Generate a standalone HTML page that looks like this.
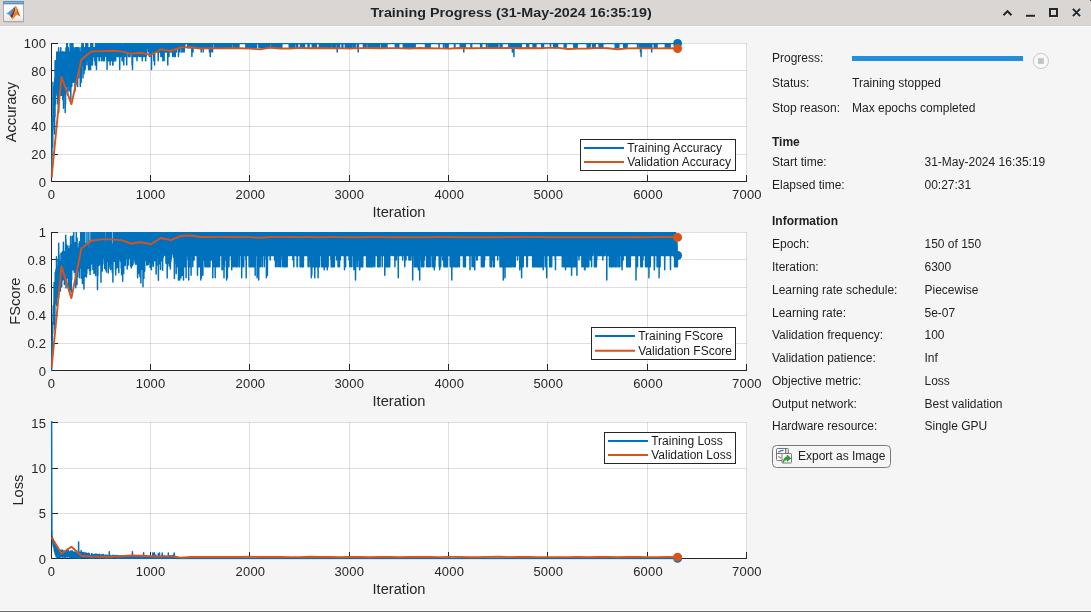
<!DOCTYPE html>
<html><head><meta charset="utf-8"><title>Training Progress</title>
<style>
html,body{margin:0;padding:0;background:#f5f5f5;}
body{width:1091px;height:612px;overflow:hidden;font-family:"Liberation Sans",sans-serif;}
svg{display:block;position:absolute;left:0;top:0;will-change:transform;}
text{font-family:"Liberation Sans",sans-serif;fill:#262626;}
.tk{font-size:13px;letter-spacing:0.2px;}
.lb{font-size:14.67px;}
.lg{font-size:12px;fill:#1a1a1a;}
.pt{font-size:12px;fill:#1f1f1f;}
.pb{font-size:12px;font-weight:bold;fill:#1f1f1f;}
.ti{font-size:12.4px;font-weight:bold;fill:#1f2428;}
</style></head><body>
<svg width="1091" height="612" viewBox="0 0 1091 612">
<rect x="0" y="0" width="1091" height="612" fill="#f5f5f5"/>
<!-- title bar -->
<rect x="0" y="0" width="1091" height="26" fill="#dad6d3"/>
<rect x="0" y="25" width="1091" height="1" fill="#d4d0cd"/>
<rect x="0" y="26" width="1091" height="1" fill="#f9f9f9"/>
<text x="370.4" y="16.7" class="ti" textLength="281.3" lengthAdjust="spacingAndGlyphs">Training Progress (31-May-2024 16:35:19)</text>
<!-- window icon -->
<defs>
<linearGradient id="ib" x1="0" y1="0" x2="0" y2="1"><stop offset="0" stop-color="#ffffff"/><stop offset="0.6" stop-color="#fafafa"/><stop offset="1" stop-color="#e4e4e4"/></linearGradient>
<linearGradient id="bw" x1="0" y1="0" x2="1" y2="0"><stop offset="0" stop-color="#6db3e6"/><stop offset="1" stop-color="#2f76bd"/></linearGradient>
</defs>
<g>
<rect x="3.5" y="1.5" width="20" height="20" fill="url(#ib)" stroke="#aeaaa7" stroke-width="1"/>
<rect x="3.3" y="1.3" width="20.4" height="3" fill="#4f83b8"/>
<rect x="4" y="2.2" width="19" height="1" fill="#8fbfe4"/>
<rect x="4" y="22" width="20" height="0.8" fill="#c4c0bd"/>
<path d="M5.9 13.6C8 12.6 10.4 11 12.4 9.1C13.4 8.1 14.2 6.9 14.9 6.5L13.2 11L11.3 14.6L10 15.8C8.8 14.8 7.5 14.2 5.9 13.6Z" fill="url(#bw)"/>
<path d="M14.9 6.5C15.1 6.3 15.3 6.15 15.5 6.1L15.3 10L13.8 14.6L12.1 18.8C11.5 17.8 10.8 16.8 10 15.8L11.3 14.6L13.2 11Z" fill="#8f2a1b"/>
<path d="M15.5 6.1C16.8 6.5 17.5 10 18.5 12.5C19.2 14.3 19.8 15.5 20.5 16.6C19 15.2 17.8 14.6 17 14.8C15.5 15.5 14 18 12.3 19.6L12.1 18.8L13.8 14.6L15.3 10Z" fill="#ee7a1c"/>
<path d="M15.6 6.6C16.3 7.4 16.7 9.2 16.6 10.5L16.2 12.6L15.2 11.4Z" fill="#f8ba1e"/>
<path d="M12.3 19.6L12.1 18.8L13 17.1L14.3 17.9C13.6 18.6 13 19.1 12.3 19.6Z" fill="#f6b21e"/>
<path d="M16.6 7.3C17.3 8.5 17.8 10.8 18.5 12.5C19.2 14.3 19.8 15.5 20.5 16.6C19.8 15.9 19.2 15.5 18.6 15.2L17.3 12.2Z" fill="#c4391b"/>
</g>
<!-- window controls -->
<g stroke="#ebe8e5" stroke-width="2" fill="none" transform="translate(0.6 0.8)">
<path d="M1003.5 15.3 L1007.5 11.2 L1011.5 15.3"/>
<path d="M1026 15.8 H1035"/>
<rect x="1050" y="9" width="7" height="7"/>
<path d="M1072.9 8.9 L1080.1 16.1 M1080.1 8.9 L1072.9 16.1"/>
</g>
<g stroke="#22282b" stroke-width="2" fill="none">
<path d="M1003.5 15.3 L1007.5 11.2 L1011.5 15.3"/>
<path d="M1026 15.8 H1035"/>
<rect x="1050" y="9" width="7" height="7"/>
<path d="M1072.9 8.9 L1080.1 16.1 M1080.1 8.9 L1072.9 16.1"/>
</g>
<path d="M1090 0 H1091 V2 Q1091 0 1090 0Z" fill="#555"/>
<rect x="1090" y="0" width="1" height="1" fill="#4a4a4a"/>
<!-- window borders -->
<rect x="0" y="610" width="1091" height="1" fill="#fcfcfc"/>
<rect x="0" y="611" width="1091" height="1" fill="#6c6c6a"/>
<rect x="51.0" y="43.0" width="696.0" height="139.0" fill="#fff"/>
<path d="M51.5 43.0V182.0" stroke="rgba(38,38,38,0.15)" stroke-width="1" fill="none"/>
<path d="M150.5 43.0V182.0" stroke="rgba(38,38,38,0.15)" stroke-width="1" fill="none"/>
<path d="M249.5 43.0V182.0" stroke="rgba(38,38,38,0.15)" stroke-width="1" fill="none"/>
<path d="M349.5 43.0V182.0" stroke="rgba(38,38,38,0.15)" stroke-width="1" fill="none"/>
<path d="M448.5 43.0V182.0" stroke="rgba(38,38,38,0.15)" stroke-width="1" fill="none"/>
<path d="M547.5 43.0V182.0" stroke="rgba(38,38,38,0.15)" stroke-width="1" fill="none"/>
<path d="M647.5 43.0V182.0" stroke="rgba(38,38,38,0.15)" stroke-width="1" fill="none"/>
<path d="M746.5 43.0V182.0" stroke="rgba(38,38,38,0.15)" stroke-width="1" fill="none"/>
<path d="M51.0 181.5H747.0" stroke="rgba(38,38,38,0.15)" stroke-width="1" fill="none"/>
<path d="M51.0 154.5H747.0" stroke="rgba(38,38,38,0.15)" stroke-width="1" fill="none"/>
<path d="M51.0 126.5H747.0" stroke="rgba(38,38,38,0.15)" stroke-width="1" fill="none"/>
<path d="M51.0 98.5H747.0" stroke="rgba(38,38,38,0.15)" stroke-width="1" fill="none"/>
<path d="M51.0 70.5H747.0" stroke="rgba(38,38,38,0.15)" stroke-width="1" fill="none"/>
<path d="M51.0 43.5H747.0" stroke="rgba(38,38,38,0.15)" stroke-width="1" fill="none"/>
<path d="M51.5 43.0V181.5H747.0M51.5 181.5v-6.5M150.5 181.5v-6.5M249.5 181.5v-6.5M349.5 181.5v-6.5M448.5 181.5v-6.5M547.5 181.5v-6.5M647.5 181.5v-6.5M746.5 181.5v-6.5M51.5 181.5h6.5M51.5 154.5h6.5M51.5 126.5h6.5M51.5 98.5h6.5M51.5 70.5h6.5M51.5 43.5h6.5" stroke="#262626" stroke-width="1" fill="none"/>
<clipPath id="cp0"><rect x="50.5" y="42.9" width="697.0" height="140.6"/></clipPath>
<g clip-path="url(#cp0)">
<path d="M51.6 177.2L51.7 177.2L51.8 159.9L51.9 159.9L52.0 155.6L52.1 125.4L52.2 116.8L52.3 147.0L52.4 134.1L52.5 125.4L52.6 121.1L52.7 147.0L52.8 129.8L52.9 129.8L53.0 82.3L53.1 108.2L53.2 103.9L53.3 121.1L53.4 99.6L53.5 116.8L53.6 90.9L53.7 103.9L53.8 99.6L53.9 108.2L54.0 99.6L54.1 99.6L54.2 95.2L54.3 112.5L54.4 90.9L54.5 86.6L54.6 134.1L54.7 86.6L54.8 78.0L54.9 103.9L55.0 116.8L55.1 60.8L55.2 82.3L55.3 78.0L55.4 103.9L55.5 73.7L55.6 103.9L55.7 65.1L55.8 60.8L55.9 60.8L56.0 69.4L56.1 90.9L56.2 60.8L56.3 65.1L56.4 90.9L56.5 90.9L56.6 65.1L56.7 56.4L56.8 52.1L56.9 69.4L57.0 60.8L57.1 73.7L57.2 95.2L57.3 78.0L57.4 78.0L57.5 82.3L57.6 60.8L57.7 69.4L57.8 103.9L57.9 65.1L58.0 60.8L58.1 56.4L58.2 52.1L58.3 86.6L58.4 99.6L58.5 108.2L58.6 47.8L58.7 112.5L58.8 86.6L58.9 69.4L59.0 65.1L59.1 86.6L59.2 95.2L59.3 52.1L59.4 73.7L59.5 78.0L59.6 69.4L59.7 86.6L59.8 78.0L59.9 56.4L60.0 73.7L60.1 69.4L60.2 69.4L60.3 82.3L60.4 95.2L60.5 86.6L60.6 78.0L60.7 60.8L60.8 47.8L60.9 69.4L61.0 56.4L61.1 56.4L61.2 78.0L61.3 56.4L61.4 65.1L61.5 95.2L61.6 65.1L61.7 73.7L61.8 86.6L61.9 78.0L62.0 60.8L62.1 52.1L62.2 60.8L62.3 60.8L62.4 52.1L62.5 78.0L62.6 56.4L62.7 60.8L62.8 99.6L62.9 60.8L63.0 60.8L63.1 73.7L63.2 90.9L63.3 78.0L63.4 78.0L63.5 108.2L63.6 52.1L63.7 56.4L63.8 78.0L63.9 73.7L64.0 73.7L64.1 82.3L64.2 65.1L64.3 56.4L64.4 90.9L64.5 86.6L64.6 56.4L64.7 60.8L64.8 90.9L64.9 95.2L65.0 52.1L65.1 60.8L65.2 112.5L65.3 82.3L65.4 56.4L65.5 103.9L65.6 52.1L65.7 56.4L65.8 69.4L65.9 86.6L66.0 47.8L66.1 65.1L66.2 86.6L66.3 60.8L66.4 78.0L66.5 65.1L66.6 82.3L66.7 43.5L66.8 47.8L66.8 69.4L66.9 73.7L67.0 65.1L67.1 86.6L67.2 69.4L67.3 78.0L67.4 43.5L67.5 52.1L67.6 95.2L67.7 60.8L67.8 69.4L67.9 56.4L68.0 60.8L68.1 52.1L68.2 69.4L68.3 47.8L68.4 52.1L68.5 56.4L68.6 78.0L68.7 73.7L68.8 73.7L68.9 73.7L69.0 86.6L69.1 52.1L69.2 56.4L69.3 90.9L69.4 56.4L69.5 69.4L69.6 65.1L69.7 60.8L69.8 60.8L69.9 86.6L70.0 52.1L70.1 73.7L70.2 43.5L70.3 52.1L70.4 56.4L70.5 65.1L70.6 60.8L70.7 69.4L70.8 99.6L70.9 60.8L71.0 78.0L71.1 69.4L71.2 78.0L71.3 52.1L71.4 56.4L71.5 65.1L71.6 69.4L71.7 43.5L71.8 86.6L71.9 65.1L72.0 73.7L72.1 47.8L72.2 60.8L72.3 65.1L72.4 56.4L72.5 60.8L72.6 73.7L72.7 47.8L72.8 60.8L72.9 43.5L73.0 60.8L73.1 69.4L73.2 82.3L73.3 56.4L73.4 65.1L73.5 82.3L73.6 65.1L73.7 69.4L73.8 47.8L73.9 56.4L74.0 65.1L74.1 56.4L74.2 73.7L74.3 78.0L74.4 73.7L74.5 52.1L74.6 56.4L74.7 69.4L74.8 56.4L74.9 60.8L75.0 90.9L75.1 69.4L75.2 60.8L75.3 56.4L75.4 47.8L75.5 65.1L75.6 47.8L75.7 78.0L75.8 47.8L75.9 60.8L76.0 56.4L76.1 56.4L76.2 82.3L76.3 60.8L76.4 60.8L76.5 56.4L76.6 52.1L76.7 52.1L76.8 65.1L76.9 69.4L77.0 47.8L77.1 56.4L77.2 60.8L77.3 60.8L77.4 47.8L77.5 65.1L77.6 86.6L77.7 56.4L77.8 56.4L77.9 69.4L78.0 69.4L78.1 69.4L78.2 60.8L78.3 47.8L78.4 78.0L78.5 52.1L78.6 78.0L78.7 56.4L78.8 56.4L78.9 60.8L79.0 52.1L79.1 47.8L79.2 52.1L79.3 60.8L79.4 56.4L79.5 56.4L79.6 65.1L79.7 65.1L79.8 60.8L79.9 60.8L80.0 56.4L80.1 56.4L80.2 56.4L80.3 86.6L80.4 56.4L80.5 52.1L80.6 69.4L80.7 60.8L80.8 52.1L80.9 65.1L81.0 47.8L81.1 52.1L81.2 82.3L81.3 65.1L81.4 47.8L81.5 47.8L81.6 47.8L81.7 52.1L81.8 52.1L81.9 43.5L82.0 56.4L82.1 52.1L82.1 65.1L82.2 56.4L82.3 52.1L82.4 65.1L82.5 60.8L82.6 60.8L82.7 56.4L82.8 56.4L82.9 60.8L83.0 78.0L83.1 69.4L83.2 43.5L83.3 47.8L83.4 52.1L83.5 52.1L83.6 47.8L83.7 47.8L83.8 52.1L83.9 47.8L84.0 73.7L84.1 60.8L84.2 65.1L84.3 56.4L84.4 52.1L84.5 47.8L84.6 52.1L84.7 52.1L84.8 56.4L84.9 52.1L85.0 52.1L85.1 69.4L85.2 69.4L85.3 47.8L85.4 65.1L85.5 56.4L85.6 47.8L85.7 52.1L85.8 43.5L85.9 43.5L86.0 65.1L86.1 65.1L86.2 60.8L86.3 56.4L86.4 43.5L86.5 47.8L86.6 60.8L86.7 56.4L86.8 60.8L86.9 60.8L87.0 47.8L87.1 60.8L87.2 56.4L87.3 52.1L87.4 52.1L87.5 52.1L87.6 60.8L87.7 43.5L87.8 52.1L87.9 65.1L88.0 65.1L88.1 56.4L88.2 47.8L88.3 52.1L88.4 52.1L88.5 52.1L88.6 69.4L88.7 52.1L88.8 56.4L88.9 52.1L89.0 47.8L89.1 47.8L89.2 56.4L89.3 52.1L89.4 47.8L89.5 56.4L89.6 69.4L89.7 65.1L89.8 56.4L89.9 56.4L90.0 47.8L90.1 47.8L90.2 52.1L90.3 69.4L90.4 56.4L90.5 56.4L90.6 69.4L90.7 52.1L90.8 43.5L90.9 56.4L91.0 56.4L91.1 52.1L91.2 52.1L91.3 43.5L91.4 56.4L91.5 60.8L91.6 47.8L91.7 56.4L91.8 47.8L91.9 47.8L92.0 56.4L92.1 65.1L92.2 60.8L92.3 65.1L92.4 65.1L92.5 60.8L92.6 56.4L92.7 43.5L92.8 52.1L92.9 52.1L93.0 56.4L93.1 52.1L93.2 52.1L93.3 56.4L93.4 47.8L93.5 52.1L93.6 56.4L93.7 47.8L93.8 47.8L93.9 56.4L94.0 47.8L94.1 52.1L94.2 52.1L94.3 47.8L94.4 56.4L94.5 56.4L94.6 60.8L94.7 56.4L94.8 47.8L94.9 56.4L95.0 52.1L95.1 60.8L95.2 56.4L95.3 65.1L95.4 52.1L95.5 52.1L95.6 43.5L95.7 52.1L95.8 47.8L95.9 43.5L96.0 52.1L96.1 52.1L96.2 52.1L96.3 52.1L96.4 52.1L96.5 69.4L96.6 60.8L96.7 47.8L96.8 43.5L96.9 47.8L97.0 56.4L97.1 47.8L97.2 47.8L97.3 56.4L97.4 43.5L97.4 47.8L97.5 52.1L97.6 52.1L97.7 56.4L97.8 47.8L97.9 52.1L98.0 47.8L98.1 43.5L98.2 47.8L98.3 52.1L98.4 56.4L98.5 43.5L98.6 52.1L98.7 56.4L98.8 52.1L98.9 47.8L99.0 60.8L99.1 47.8L99.2 56.4L99.3 52.1L99.4 60.8L99.5 52.1L99.6 47.8L99.7 43.5L99.8 56.4L99.9 52.1L100.0 43.5L100.1 47.8L100.2 52.1L100.3 56.4L100.4 47.8L100.5 52.1L100.6 47.8L100.7 52.1L100.8 47.8L100.9 52.1L101.0 43.5L101.1 56.4L101.2 56.4L101.3 56.4L101.4 52.1L101.5 52.1L101.6 60.8L101.7 47.8L101.8 47.8L101.9 47.8L102.0 43.5L102.1 43.5L102.2 56.4L102.3 52.1L102.4 52.1L102.5 56.4L102.6 47.8L102.7 56.4L102.8 47.8L102.9 52.1L103.0 52.1L103.1 47.8L103.2 60.8L103.3 47.8L103.4 52.1L103.5 56.4L103.6 43.5L103.7 52.1L103.8 47.8L103.9 47.8L104.0 47.8L104.1 47.8L104.2 52.1L104.3 60.8L104.4 43.5L104.5 47.8L104.6 43.5L104.7 47.8L104.8 43.5L104.9 47.8L105.0 52.1L105.1 56.4L105.2 47.8L105.3 52.1L105.4 52.1L105.5 52.1L105.6 47.8L105.7 52.1L105.8 47.8L105.9 43.5L106.0 47.8L106.1 52.1L106.2 52.1L106.3 52.1L106.4 43.5L106.5 56.4L106.6 52.1L106.7 47.8L106.8 52.1L106.9 60.8L107.0 52.1L107.1 69.4L107.2 47.8L107.3 52.1L107.4 43.5L107.5 43.5L107.6 47.8L107.7 43.5L107.8 47.8L107.9 56.4L108.0 47.8L108.1 52.1L108.2 60.8L108.3 43.5L108.4 56.4L108.5 52.1L108.6 56.4L108.7 52.1L108.8 47.8L108.9 43.5L109.0 56.4L109.1 60.8L109.2 52.1L109.3 52.1L109.4 52.1L109.5 43.5L109.6 47.8L109.7 47.8L109.8 43.5L109.9 56.4L110.0 47.8L110.1 65.1L110.2 47.8L110.3 56.4L110.4 60.8L110.5 47.8L110.6 43.5L110.7 47.8L110.8 60.8L110.9 47.8L111.0 47.8L111.1 47.8L111.2 47.8L111.3 56.4L111.4 56.4L111.5 52.1L111.6 43.5L111.7 52.1L111.8 43.5L111.9 52.1L112.0 60.8L112.1 47.8L112.2 43.5L112.3 56.4L112.4 56.4L112.5 56.4L112.6 47.8L112.7 65.1L112.7 43.5L112.8 52.1L112.9 43.5L113.0 65.1L113.1 52.1L113.2 47.8L113.3 43.5L113.4 52.1L113.5 52.1L113.6 47.8L113.7 47.8L113.8 56.4L113.9 47.8L114.0 47.8L114.1 60.8L114.2 47.8L114.3 47.8L114.4 43.5L114.5 52.1L114.6 47.8L114.7 60.8L114.8 47.8L114.9 43.5L115.0 43.5L115.1 52.1L115.2 56.4L115.3 52.1L115.4 52.1L115.5 52.1L115.6 47.8L115.7 60.8L115.8 52.1L115.9 43.5L116.0 43.5L116.1 47.8L116.2 47.8L116.3 43.5L116.4 47.8L116.5 47.8L116.6 43.5L116.7 52.1L116.8 43.5L116.9 43.5L117.0 52.1L117.1 56.4L117.2 47.8L117.3 47.8L117.4 52.1L117.5 47.8L117.6 52.1L117.7 43.5L117.8 52.1L117.9 52.1L118.0 43.5L118.1 56.4L118.2 52.1L118.3 43.5L118.4 47.8L118.5 52.1L118.6 43.5L118.7 43.5L118.8 56.4L118.9 52.1L119.0 47.8L119.1 47.8L119.2 47.8L119.3 52.1L119.4 52.1L119.5 52.1L119.6 47.8L119.7 69.4L119.8 47.8L119.9 47.8L120.0 52.1L120.1 47.8L120.2 43.5L120.3 47.8L120.4 56.4L120.5 43.5L120.6 56.4L120.7 52.1L120.8 43.5L120.9 52.1L121.0 43.5L121.1 52.1L121.2 43.5L121.3 56.4L121.4 43.5L121.5 47.8L121.6 56.4L121.7 52.1L121.8 52.1L121.9 56.4L122.0 52.1L122.1 60.8L122.2 52.1L122.3 60.8L122.4 47.8L122.5 56.4L122.6 47.8L122.7 60.8L122.8 52.1L122.9 56.4L123.0 43.5L123.1 47.8L123.2 43.5L123.3 47.8L123.4 47.8L123.5 47.8L123.6 43.5L123.7 47.8L123.8 65.1L123.9 43.5L124.0 52.1L124.1 56.4L124.2 47.8L124.3 47.8L124.4 56.4L124.5 43.5L124.6 47.8L124.7 43.5L124.8 56.4L124.9 43.5L125.0 56.4L125.1 47.8L125.2 52.1L125.3 52.1L125.4 52.1L125.5 43.5L125.6 52.1L125.7 47.8L125.8 43.5L125.9 43.5L126.0 52.1L126.1 52.1L126.2 43.5L126.3 56.4L126.4 56.4L126.5 52.1L126.6 47.8L126.7 65.1L126.8 47.8L126.9 47.8L127.0 47.8L127.1 43.5L127.2 47.8L127.3 52.1L127.4 52.1L127.5 43.5L127.6 43.5L127.7 47.8L127.8 43.5L127.9 52.1L128.0 47.8L128.0 43.5L128.1 43.5L128.2 43.5L128.3 52.1L128.4 52.1L128.5 56.4L128.6 43.5L128.7 43.5L128.8 43.5L128.9 47.8L129.0 47.8L129.1 47.8L129.2 43.5L129.3 52.1L129.4 43.5L129.5 43.5L129.6 56.4L129.7 47.8L129.8 47.8L129.9 43.5L130.0 47.8L130.1 56.4L130.2 47.8L130.3 47.8L130.4 52.1L130.5 47.8L130.6 47.8L130.7 43.5L130.8 43.5L130.9 47.8L131.0 47.8L131.1 47.8L131.2 52.1L131.3 52.1L131.4 52.1L131.5 52.1L131.6 52.1L131.7 43.5L131.8 47.8L131.9 43.5L132.0 56.4L132.1 65.1L132.2 52.1L132.3 47.8L132.4 47.8L132.5 69.4L132.6 60.8L132.7 47.8L132.8 43.5L132.9 56.4L133.0 43.5L133.1 47.8L133.2 43.5L133.3 47.8L133.4 47.8L133.5 43.5L133.6 43.5L133.7 56.4L133.8 56.4L133.9 47.8L134.0 52.1L134.1 47.8L134.2 52.1L134.3 47.8L134.4 43.5L134.5 43.5L134.6 43.5L134.7 43.5L134.8 56.4L134.9 52.1L135.0 47.8L135.1 47.8L135.2 52.1L135.3 43.5L135.4 47.8L135.5 56.4L135.6 43.5L135.7 43.5L135.8 47.8L135.9 47.8L136.0 43.5L136.1 56.4L136.2 47.8L136.3 43.5L136.4 52.1L136.5 52.1L136.6 52.1L136.7 47.8L136.8 43.5L136.9 56.4L137.0 60.8L137.1 47.8L137.2 52.1L137.3 47.8L137.4 47.8L137.5 56.4L137.6 52.1L137.7 47.8L137.8 43.5L137.9 43.5L138.0 47.8L138.1 47.8L138.2 43.5L138.3 47.8L138.4 43.5L138.5 47.8L138.6 47.8L138.7 43.5L138.8 47.8L138.9 52.1L139.0 52.1L139.1 56.4L139.2 47.8L139.3 52.1L139.4 43.5L139.5 43.5L139.6 56.4L139.7 43.5L139.8 47.8L139.9 47.8L140.0 56.4L140.1 52.1L140.2 43.5L140.3 43.5L140.4 47.8L140.5 47.8L140.6 43.5L140.7 43.5L140.8 43.5L140.9 47.8L141.0 52.1L141.1 52.1L141.2 56.4L141.3 47.8L141.4 56.4L141.5 56.4L141.6 56.4L141.7 47.8L141.8 43.5L141.9 47.8L142.0 52.1L142.1 52.1L142.2 52.1L142.3 60.8L142.4 43.5L142.5 43.5L142.6 52.1L142.7 47.8L142.8 47.8L142.9 47.8L143.0 52.1L143.1 52.1L143.2 47.8L143.3 43.5L143.3 56.4L143.4 43.5L143.5 47.8L143.6 47.8L143.7 47.8L143.8 47.8L143.9 56.4L144.0 47.8L144.1 47.8L144.2 56.4L144.3 52.1L144.4 47.8L144.5 47.8L144.6 47.8L144.7 47.8L144.8 43.5L144.9 43.5L145.0 52.1L145.1 47.8L145.2 47.8L145.3 47.8L145.4 47.8L145.5 43.5L145.6 47.8L145.7 60.8L145.8 43.5L145.9 52.1L146.0 43.5L146.1 47.8L146.2 56.4L146.3 43.5L146.4 52.1L146.5 43.5L146.6 47.8L146.7 52.1L146.8 47.8L146.9 52.1L147.0 47.8L147.1 43.5L147.2 43.5L147.3 47.8L147.4 43.5L147.5 47.8L147.6 47.8L147.7 47.8L147.8 47.8L147.9 47.8L148.0 47.8L148.1 43.5L148.2 47.8L148.3 47.8L148.4 47.8L148.5 43.5L148.6 47.8L148.7 52.1L148.8 52.1L148.9 47.8L149.0 47.8L149.1 47.8L149.2 47.8L149.3 52.1L149.4 56.4L149.5 47.8L149.6 52.1L149.7 47.8L149.8 43.5L149.9 56.4L150.0 47.8L150.1 43.5L150.2 43.5L150.3 47.8L150.4 47.8L150.5 47.8L150.6 52.1L150.7 52.1L150.8 43.5L150.9 43.5L151.0 52.1L151.1 47.8L151.2 47.8L151.3 47.8L151.4 47.8L151.5 69.4L151.6 52.1L151.7 43.5L151.8 43.5L151.9 52.1L152.0 52.1L152.1 43.5L152.2 47.8L152.3 43.5L152.4 52.1L152.5 52.1L152.6 47.8L152.7 47.8L152.8 52.1L152.9 43.5L153.0 47.8L153.1 47.8L153.2 47.8L153.3 47.8L153.4 47.8L153.5 47.8L153.6 43.5L153.7 43.5L153.8 60.8L153.9 52.1L154.0 43.5L154.1 52.1L154.2 52.1L154.3 60.8L154.4 47.8L154.5 43.5L154.6 65.1L154.7 47.8L154.8 47.8L154.9 52.1L155.0 52.1L155.1 47.8L155.2 47.8L155.3 43.5L155.4 43.5L155.5 43.5L155.6 43.5L155.7 43.5L155.8 47.8L155.9 43.5L156.0 52.1L156.1 52.1L156.2 52.1L156.3 47.8L156.4 43.5L156.5 43.5L156.6 47.8L156.7 43.5L156.8 47.8L156.9 47.8L157.0 43.5L157.1 43.5L157.2 47.8L157.3 43.5L157.4 47.8L157.5 52.1L157.6 43.5L157.7 52.1L157.8 43.5L157.9 47.8L158.0 52.1L158.1 43.5L158.2 60.8L158.3 47.8L158.4 47.8L158.5 47.8L158.5 52.1L158.6 43.5L158.7 43.5L158.8 52.1L158.9 43.5L159.0 47.8L159.1 43.5L159.2 47.8L159.3 47.8L159.4 47.8L159.5 52.1L159.6 52.1L159.7 43.5L159.8 43.5L159.9 43.5L160.0 43.5L160.1 52.1L160.2 43.5L160.3 43.5L160.4 47.8L160.5 43.5L160.6 52.1L160.7 43.5L160.8 43.5L160.9 56.4L161.0 43.5L161.1 47.8L161.2 52.1L161.3 43.5L161.4 43.5L161.5 52.1L161.6 56.4L161.7 47.8L161.8 43.5L161.9 43.5L162.0 56.4L162.1 47.8L162.2 47.8L162.3 47.8L162.4 43.5L162.5 52.1L162.6 47.8L162.7 52.1L162.8 43.5L162.9 60.8L163.0 52.1L163.1 52.1L163.2 43.5L163.3 56.4L163.4 43.5L163.5 52.1L163.6 47.8L163.7 43.5L163.8 47.8L163.9 47.8L164.0 52.1L164.1 60.8L164.2 47.8L164.3 47.8L164.4 43.5L164.5 43.5L164.6 43.5L164.7 47.8L164.8 43.5L164.9 43.5L165.0 47.8L165.1 43.5L165.2 43.5L165.3 43.5L165.4 47.8L165.5 52.1L165.6 52.1L165.7 43.5L165.8 43.5L165.9 47.8L166.0 43.5L166.1 47.8L166.2 52.1L166.3 43.5L166.4 43.5L166.5 52.1L166.6 43.5L166.7 43.5L166.8 47.8L166.9 43.5L167.0 43.5L167.1 43.5L167.2 43.5L167.3 43.5L167.4 43.5L167.5 43.5L167.6 47.8L167.7 47.8L167.8 65.1L167.9 43.5L168.0 52.1L168.1 52.1L168.2 43.5L168.3 47.8L168.4 52.1L168.5 56.4L168.6 43.5L168.7 43.5L168.8 43.5L168.9 43.5L169.0 56.4L169.1 52.1L169.2 47.8L169.3 43.5L169.4 43.5L169.5 47.8L169.6 47.8L169.7 47.8L169.8 43.5L169.9 47.8L170.0 47.8L170.1 43.5L170.2 47.8L170.3 47.8L170.4 52.1L170.5 52.1L170.6 52.1L170.7 43.5L170.8 47.8L170.9 43.5L171.0 43.5L171.1 43.5L171.2 43.5L171.3 47.8L171.4 52.1L171.5 43.5L171.6 52.1L171.7 52.1L171.8 47.8L171.9 47.8L172.0 47.8L172.1 43.5L172.2 43.5L172.3 47.8L172.4 43.5L172.5 43.5L172.6 47.8L172.7 56.4L172.8 43.5L172.9 47.8L173.0 43.5L173.1 43.5L173.2 47.8L173.3 47.8L173.4 47.8L173.5 47.8L173.6 47.8L173.7 52.1L173.8 47.8L173.8 43.5L173.9 43.5L174.0 47.8L174.1 43.5L174.2 56.4L174.3 47.8L174.4 43.5L174.5 43.5L174.6 47.8L174.7 43.5L174.8 43.5L174.9 43.5L175.0 43.5L175.1 52.1L175.2 43.5L175.3 56.4L175.4 43.5L175.5 47.8L175.6 43.5L175.7 47.8L175.8 47.8L175.9 47.8L176.0 47.8L176.1 47.8L176.2 47.8L176.3 43.5L176.4 52.1L176.5 47.8L176.6 47.8L176.7 43.5L176.8 43.5L176.9 43.5L177.0 47.8L177.1 47.8L177.2 43.5L177.3 43.5L177.4 47.8L177.5 43.5L177.6 47.8L177.7 47.8L177.8 43.5L177.9 47.8L178.0 47.8L178.1 43.5L178.2 43.5L178.3 47.8L178.4 43.5L178.5 56.4L178.6 43.5L178.7 43.5L178.8 43.5L178.9 43.5L179.0 47.8L179.1 43.5L179.2 43.5L179.3 43.5L179.4 43.5L179.5 47.8L179.6 43.5L179.7 43.5L179.8 43.5L179.9 43.5L180.0 52.1L180.1 43.5L180.2 43.5L180.3 43.5L180.4 47.8L180.5 47.8L180.6 43.5L180.7 47.8L180.8 47.8L180.9 43.5L181.0 43.5L181.1 43.5L181.2 43.5L181.3 43.5L181.4 43.5L181.5 43.5L181.6 43.5L181.7 43.5L181.8 43.5L181.9 52.1L182.0 43.5L182.1 43.5L182.2 43.5L182.3 43.5L182.4 43.5L182.5 47.8L182.6 43.5L182.7 52.1L182.8 43.5L182.9 43.5L183.0 43.5L183.1 43.5L183.2 47.8L183.3 43.5L183.4 43.5L183.5 43.5L183.6 47.8L183.7 43.5L183.8 43.5L183.9 43.5L184.0 43.5L184.1 43.5L184.2 52.1L184.3 47.8L184.4 43.5L184.5 43.5L184.6 43.5L184.7 47.8L184.8 43.5L184.9 43.5L185.0 43.5L185.1 43.5L185.2 43.5L185.3 43.5L185.4 43.5L185.5 43.5L185.6 43.5L185.7 43.5L185.8 43.5L185.9 43.5L186.0 43.5L186.1 43.5L186.2 43.5L186.3 43.5L186.4 43.5L186.5 43.5L186.6 43.5L186.7 43.5L186.8 43.5L186.9 43.5L187.0 43.5L187.1 43.5L187.2 43.5L187.3 43.5L187.4 43.5L187.5 43.5L187.6 43.5L187.7 47.8L187.8 47.8L187.9 43.5L188.0 43.5L188.1 47.8L188.2 43.5L188.3 43.5L188.4 47.8L188.5 43.5L188.6 43.5L188.7 47.8L188.8 47.8L188.9 43.5L189.0 43.5L189.1 47.8L189.1 43.5L189.2 43.5L189.3 43.5L189.4 47.8L189.5 43.5L189.6 47.8L189.7 43.5L189.8 43.5L189.9 43.5L190.0 43.5L190.1 43.5L190.2 43.5L190.3 43.5L190.4 43.5L190.5 43.5L190.6 43.5L190.7 47.8L190.8 43.5L190.9 43.5L191.0 43.5L191.1 47.8L191.2 43.5L191.3 43.5L191.4 43.5L191.5 47.8L191.6 43.5L191.7 47.8L191.8 47.8L191.9 56.4L192.0 47.8L192.1 47.8L192.2 47.8L192.3 43.5L192.4 47.8L192.5 43.5L192.6 43.5L192.7 47.8L192.8 43.5L192.9 43.5L193.0 52.1L193.1 43.5L193.2 47.8L193.3 47.8L193.4 43.5L193.5 47.8L193.6 43.5L193.7 43.5L193.8 43.5L193.9 47.8L194.0 43.5L194.1 47.8L194.2 43.5L194.3 43.5L194.4 43.5L194.5 43.5L194.6 43.5L194.7 43.5L194.8 43.5L194.9 43.5L195.0 47.8L195.1 43.5L195.2 43.5L195.3 43.5L195.4 43.5L195.5 47.8L195.6 47.8L195.7 47.8L195.8 47.8L195.9 43.5L196.0 43.5L196.1 43.5L196.2 43.5L196.3 47.8L196.4 47.8L196.5 43.5L196.6 43.5L196.7 43.5L196.8 43.5L196.9 43.5L197.0 43.5L197.1 43.5L197.2 43.5L197.3 43.5L197.4 47.8L197.5 43.5L197.6 43.5L197.7 47.8L197.8 43.5L197.9 43.5L198.0 47.8L198.1 43.5L198.2 43.5L198.3 47.8L198.4 43.5L198.5 47.8L198.6 43.5L198.7 43.5L198.8 43.5L198.9 43.5L199.0 43.5L199.1 47.8L199.2 43.5L199.3 43.5L199.4 47.8L199.5 43.5L199.6 47.8L199.7 43.5L199.8 47.8L199.9 47.8L200.0 43.5L200.1 47.8L200.2 43.5L200.3 43.5L200.4 43.5L200.5 43.5L200.6 43.5L200.7 43.5L200.8 47.8L200.9 43.5L201.0 43.5L201.1 47.8L201.2 52.1L201.3 43.5L201.4 43.5L201.5 43.5L201.6 47.8L201.7 43.5L201.8 43.5L201.9 47.8L202.0 43.5L202.1 43.5L202.2 43.5L202.3 43.5L202.4 43.5L202.5 43.5L202.6 43.5L202.7 43.5L202.8 43.5L202.9 43.5L203.0 43.5L203.1 47.8L203.2 52.1L203.3 43.5L203.4 47.8L203.5 43.5L203.6 47.8L203.7 43.5L203.8 43.5L203.9 43.5L204.0 43.5L204.1 47.8L204.2 43.5L204.3 47.8L204.4 43.5L204.4 43.5L204.5 43.5L204.6 43.5L204.7 47.8L204.8 43.5L204.9 43.5L205.0 43.5L205.1 43.5L205.2 43.5L205.3 43.5L205.4 43.5L205.5 47.8L205.6 47.8L205.7 47.8L205.8 43.5L205.9 43.5L206.0 43.5L206.1 43.5L206.2 43.5L206.3 43.5L206.4 43.5L206.5 43.5L206.6 43.5L206.7 43.5L206.8 43.5L206.9 43.5L207.0 43.5L207.1 43.5L207.2 47.8L207.3 43.5L207.4 47.8L207.5 43.5L207.6 43.5L207.7 43.5L207.8 43.5L207.9 43.5L208.0 43.5L208.1 43.5L208.2 43.5L208.3 43.5L208.4 43.5L208.5 43.5L208.6 43.5L208.7 43.5L208.8 47.8L208.9 47.8L209.0 43.5L209.1 43.5L209.2 43.5L209.3 47.8L209.4 43.5L209.5 52.1L209.6 43.5L209.7 43.5L209.8 47.8L209.9 47.8L210.0 43.5L210.1 47.8L210.2 47.8L210.3 56.4L210.4 47.8L210.5 43.5L210.6 43.5L210.7 47.8L210.8 43.5L210.9 52.1L211.0 43.5L211.1 47.8L211.2 47.8L211.3 43.5L211.4 47.8L211.5 47.8L211.6 47.8L211.7 43.5L211.8 43.5L211.9 43.5L212.0 43.5L212.1 43.5L212.2 43.5L212.3 43.5L212.4 43.5L212.5 52.1L212.6 43.5L212.7 43.5L212.8 43.5L212.9 43.5L213.0 43.5L213.1 43.5L213.2 43.5L213.3 43.5L213.4 43.5L213.5 43.5L213.6 43.5L213.7 43.5L213.8 43.5L213.9 43.5L214.0 43.5L214.1 43.5L214.2 43.5L214.3 43.5L214.4 43.5L214.5 47.8L214.6 43.5L214.7 43.5L214.8 43.5L214.9 43.5L215.0 43.5L215.1 43.5L215.2 43.5L215.3 43.5L215.4 43.5L215.5 43.5L215.6 47.8L215.7 47.8L215.8 43.5L215.9 47.8L216.0 47.8L216.1 43.5L216.2 43.5L216.3 43.5L216.4 43.5L216.5 43.5L216.6 43.5L216.7 47.8L216.8 47.8L216.9 43.5L217.0 47.8L217.1 47.8L217.2 43.5L217.3 43.5L217.4 43.5L217.5 43.5L217.6 47.8L217.7 43.5L217.8 43.5L217.9 43.5L218.0 43.5L218.1 43.5L218.2 43.5L218.3 43.5L218.4 47.8L218.5 47.8L218.6 43.5L218.7 47.8L218.8 43.5L218.9 47.8L219.0 47.8L219.1 47.8L219.2 47.8L219.3 43.5L219.4 47.8L219.5 43.5L219.6 43.5L219.7 43.5L219.7 43.5L219.8 43.5L219.9 43.5L220.0 47.8L220.1 43.5L220.2 43.5L220.3 47.8L220.4 43.5L220.5 47.8L220.6 43.5L220.7 43.5L220.8 43.5L220.9 43.5L221.0 47.8L221.1 43.5L221.2 43.5L221.3 43.5L221.4 47.8L221.5 47.8L221.6 43.5L221.7 43.5L221.8 47.8L221.9 43.5L222.0 43.5L222.1 43.5L222.2 43.5L222.3 43.5L222.4 43.5L222.5 43.5L222.6 47.8L222.7 43.5L222.8 47.8L222.9 43.5L223.0 43.5L223.1 43.5L223.2 47.8L223.3 47.8L223.4 43.5L223.5 47.8L223.6 43.5L223.7 43.5L223.8 43.5L223.9 43.5L224.0 47.8L224.1 43.5L224.2 47.8L224.3 43.5L224.4 43.5L224.5 43.5L224.6 43.5L224.7 43.5L224.8 47.8L224.9 43.5L225.0 43.5L225.1 43.5L225.2 47.8L225.3 43.5L225.4 47.8L225.5 43.5L225.6 47.8L225.7 43.5L225.8 43.5L225.9 43.5L226.0 47.8L226.1 43.5L226.2 43.5L226.3 43.5L226.4 43.5L226.5 47.8L226.6 43.5L226.7 47.8L226.8 43.5L226.9 47.8L227.0 43.5L227.1 43.5L227.2 43.5L227.3 47.8L227.4 43.5L227.5 43.5L227.6 43.5L227.7 43.5L227.8 47.8L227.9 47.8L228.0 43.5L228.1 43.5L228.2 43.5L228.3 43.5L228.4 43.5L228.5 47.8L228.6 43.5L228.7 43.5L228.8 43.5L228.9 43.5L229.0 43.5L229.1 43.5L229.2 47.8L229.3 43.5L229.4 43.5L229.5 43.5L229.6 47.8L229.7 43.5L229.8 47.8L229.9 47.8L230.0 43.5L230.1 47.8L230.2 43.5L230.3 47.8L230.4 43.5L230.5 43.5L230.6 47.8L230.7 43.5L230.8 47.8L230.9 47.8L231.0 43.5L231.1 43.5L231.2 43.5L231.3 47.8L231.4 47.8L231.5 47.8L231.6 43.5L231.7 43.5L231.8 47.8L231.9 43.5L232.0 43.5L232.1 43.5L232.2 43.5L232.3 43.5L232.4 43.5L232.5 43.5L232.6 43.5L232.7 43.5L232.8 43.5L232.9 43.5L233.0 43.5L233.1 43.5L233.2 43.5L233.3 43.5L233.4 43.5L233.5 43.5L233.6 47.8L233.7 43.5L233.8 43.5L233.9 43.5L234.0 43.5L234.1 47.8L234.2 47.8L234.3 47.8L234.4 43.5L234.5 43.5L234.6 43.5L234.7 43.5L234.8 43.5L234.9 47.8L235.0 43.5L235.0 43.5L235.1 43.5L235.2 43.5L235.3 43.5L235.4 47.8L235.5 47.8L235.6 43.5L235.7 43.5L235.8 43.5L235.9 47.8L236.0 43.5L236.1 43.5L236.2 47.8L236.3 47.8L236.4 43.5L236.5 43.5L236.6 43.5L236.7 43.5L236.8 43.5L236.9 43.5L237.0 43.5L237.1 43.5L237.2 43.5L237.3 47.8L237.4 47.8L237.5 43.5L237.6 47.8L237.7 43.5L237.8 43.5L237.9 43.5L238.0 47.8L238.1 43.5L238.2 43.5L238.3 47.8L238.4 43.5L238.5 43.5L238.6 43.5L238.7 43.5L238.8 43.5L238.9 47.8L239.0 43.5L239.1 43.5L239.2 43.5L239.3 43.5L239.4 43.5L239.5 43.5L239.6 43.5L239.7 43.5L239.8 43.5L239.9 43.5L240.0 43.5L240.1 43.5L240.2 43.5L240.3 43.5L240.4 43.5L240.5 43.5L240.6 43.5L240.7 43.5L240.8 43.5L240.9 43.5L241.0 43.5L241.1 43.5L241.2 43.5L241.3 43.5L241.4 43.5L241.5 43.5L241.6 43.5L241.7 43.5L241.8 43.5L241.9 43.5L242.0 43.5L242.1 43.5L242.2 43.5L242.3 43.5L242.4 43.5L242.5 43.5L242.6 43.5L242.7 43.5L242.8 43.5L242.9 43.5L243.0 43.5L243.1 43.5L243.2 43.5L243.3 43.5L243.4 43.5L243.5 43.5L243.6 43.5L243.7 43.5L243.8 43.5L243.9 43.5L244.0 43.5L244.1 43.5L244.2 43.5L244.3 43.5L244.4 43.5L244.5 43.5L244.6 43.5L244.7 43.5L244.8 43.5L244.9 43.5L245.0 43.5L245.1 43.5L245.2 43.5L245.3 43.5L245.4 43.5L245.5 43.5L245.6 43.5L245.7 43.5L245.8 43.5L245.9 47.8L246.0 43.5L246.1 43.5L246.2 43.5L246.3 43.5L246.4 43.5L246.5 43.5L246.6 43.5L246.7 43.5L246.8 43.5L246.9 43.5L247.0 47.8L247.1 43.5L247.2 43.5L247.3 43.5L247.4 43.5L247.5 43.5L247.6 47.8L247.7 43.5L247.8 47.8L247.9 43.5L248.0 43.5L248.1 43.5L248.2 43.5L248.3 43.5L248.4 43.5L248.5 43.5L248.6 47.8L248.7 43.5L248.8 47.8L248.9 43.5L249.0 43.5L249.1 47.8L249.2 43.5L249.3 43.5L249.4 47.8L249.5 43.5L249.6 47.8L249.7 47.8L249.8 47.8L249.9 47.8L250.0 47.8L250.1 47.8L250.2 43.5L250.2 43.5L250.3 47.8L250.4 43.5L250.5 47.8L250.6 47.8L250.7 43.5L250.8 43.5L250.9 43.5L251.0 47.8L251.1 43.5L251.2 43.5L251.3 47.8L251.4 47.8L251.5 43.5L251.6 43.5L251.7 43.5L251.8 43.5L251.9 43.5L252.0 43.5L252.1 43.5L252.2 43.5L252.3 43.5L252.4 47.8L252.5 43.5L252.6 47.8L252.7 43.5L252.8 43.5L252.9 43.5L253.0 43.5L253.1 43.5L253.2 43.5L253.3 47.8L253.4 43.5L253.5 43.5L253.6 47.8L253.7 43.5L253.8 47.8L253.9 43.5L254.0 47.8L254.1 47.8L254.2 47.8L254.3 47.8L254.4 43.5L254.5 43.5L254.6 43.5L254.7 43.5L254.8 43.5L254.9 43.5L255.0 43.5L255.1 43.5L255.2 47.8L255.3 47.8L255.4 43.5L255.5 47.8L255.6 43.5L255.7 43.5L255.8 47.8L255.9 43.5L256.0 47.8L256.1 47.8L256.2 47.8L256.3 47.8L256.4 43.5L256.5 47.8L256.6 43.5L256.7 43.5L256.8 43.5L256.9 43.5L257.0 43.5L257.1 43.5L257.2 43.5L257.3 43.5L257.4 43.5L257.5 43.5L257.6 43.5L257.7 43.5L257.8 43.5L257.9 43.5L258.0 43.5L258.1 43.5L258.2 43.5L258.3 43.5L258.4 43.5L258.5 43.5L258.6 43.5L258.7 43.5L258.8 43.5L258.9 47.8L259.0 43.5L259.1 43.5L259.2 47.8L259.3 47.8L259.4 47.8L259.5 43.5L259.6 43.5L259.7 43.5L259.8 43.5L259.9 43.5L260.0 47.8L260.1 43.5L260.2 43.5L260.3 43.5L260.4 43.5L260.5 43.5L260.6 43.5L260.7 43.5L260.8 47.8L260.9 47.8L261.0 43.5L261.1 43.5L261.2 43.5L261.3 43.5L261.4 43.5L261.5 43.5L261.6 43.5L261.7 43.5L261.8 47.8L261.9 47.8L262.0 47.8L262.1 43.5L262.2 43.5L262.3 43.5L262.4 43.5L262.5 43.5L262.6 43.5L262.7 43.5L262.8 47.8L262.9 43.5L263.0 43.5L263.1 43.5L263.2 47.8L263.3 43.5L263.4 43.5L263.5 43.5L263.6 47.8L263.7 43.5L263.8 43.5L263.9 47.8L264.0 43.5L264.1 43.5L264.2 47.8L264.3 47.8L264.4 43.5L264.5 43.5L264.6 43.5L264.7 47.8L264.8 47.8L264.9 43.5L265.0 47.8L265.1 43.5L265.2 47.8L265.3 43.5L265.4 43.5L265.5 43.5L265.5 47.8L265.6 43.5L265.7 43.5L265.8 43.5L265.9 43.5L266.0 43.5L266.1 47.8L266.2 43.5L266.3 43.5L266.4 43.5L266.5 43.5L266.6 43.5L266.7 43.5L266.8 47.8L266.9 47.8L267.0 47.8L267.1 47.8L267.2 47.8L267.3 43.5L267.4 43.5L267.5 43.5L267.6 43.5L267.7 43.5L267.8 43.5L267.9 43.5L268.0 47.8L268.1 47.8L268.2 43.5L268.3 43.5L268.4 43.5L268.5 47.8L268.6 43.5L268.7 43.5L268.8 43.5L268.9 47.8L269.0 43.5L269.1 43.5L269.2 47.8L269.3 43.5L269.4 47.8L269.5 47.8L269.6 47.8L269.7 47.8L269.8 43.5L269.9 43.5L270.0 43.5L270.1 43.5L270.2 43.5L270.3 43.5L270.4 43.5L270.5 43.5L270.6 43.5L270.7 43.5L270.8 43.5L270.9 43.5L271.0 43.5L271.1 43.5L271.2 43.5L271.3 43.5L271.4 43.5L271.5 47.8L271.6 43.5L271.7 47.8L271.8 43.5L271.9 43.5L272.0 43.5L272.1 47.8L272.2 43.5L272.3 43.5L272.4 43.5L272.5 43.5L272.6 43.5L272.7 43.5L272.8 43.5L272.9 43.5L273.0 43.5L273.1 43.5L273.2 43.5L273.3 47.8L273.4 43.5L273.5 43.5L273.6 47.8L273.7 43.5L273.8 43.5L273.9 43.5L274.0 47.8L274.1 47.8L274.2 43.5L274.3 47.8L274.4 47.8L274.5 43.5L274.6 43.5L274.7 47.8L274.8 43.5L274.9 43.5L275.0 43.5L275.1 43.5L275.2 43.5L275.3 47.8L275.4 47.8L275.5 47.8L275.6 43.5L275.7 43.5L275.8 47.8L275.9 43.5L276.0 43.5L276.1 47.8L276.2 43.5L276.3 47.8L276.4 43.5L276.5 47.8L276.6 47.8L276.7 43.5L276.8 43.5L276.9 47.8L277.0 47.8L277.1 43.5L277.2 43.5L277.3 43.5L277.4 47.8L277.5 43.5L277.6 47.8L277.7 43.5L277.8 43.5L277.9 43.5L278.0 47.8L278.1 43.5L278.2 43.5L278.3 43.5L278.4 43.5L278.5 43.5L278.6 43.5L278.7 43.5L278.8 43.5L278.9 47.8L279.0 47.8L279.1 47.8L279.2 43.5L279.3 43.5L279.4 47.8L279.5 47.8L279.6 47.8L279.7 47.8L279.8 47.8L279.9 43.5L280.0 47.8L280.1 43.5L280.2 43.5L280.3 47.8L280.4 43.5L280.5 43.5L280.6 43.5L280.7 47.8L280.8 43.5L280.8 47.8L280.9 43.5L281.0 43.5L281.1 47.8L281.2 43.5L281.3 43.5L281.4 47.8L281.5 43.5L281.6 43.5L281.7 43.5L281.8 47.8L281.9 43.5L282.0 43.5L282.1 43.5L282.2 43.5L282.3 43.5L282.4 43.5L282.5 43.5L282.6 43.5L282.7 43.5L282.8 43.5L282.9 43.5L283.0 43.5L283.1 43.5L283.2 43.5L283.3 43.5L283.4 43.5L283.5 43.5L283.6 43.5L283.7 43.5L283.8 43.5L283.9 43.5L284.0 43.5L284.1 43.5L284.2 43.5L284.3 43.5L284.4 43.5L284.5 43.5L284.6 43.5L284.7 43.5L284.8 43.5L284.9 43.5L285.0 43.5L285.1 43.5L285.2 43.5L285.3 43.5L285.4 43.5L285.5 43.5L285.6 43.5L285.7 43.5L285.8 43.5L285.9 43.5L286.0 43.5L286.1 43.5L286.2 43.5L286.3 43.5L286.4 43.5L286.5 43.5L286.6 43.5L286.7 43.5L286.8 43.5L286.9 43.5L287.0 43.5L287.1 43.5L287.2 43.5L287.3 43.5L287.4 43.5L287.5 43.5L287.6 43.5L287.7 43.5L287.8 43.5L287.9 43.5L288.0 43.5L288.1 43.5L288.2 43.5L288.3 43.5L288.4 43.5L288.5 43.5L288.6 43.5L288.7 43.5L288.8 43.5L288.9 43.5L289.0 43.5L289.1 43.5L289.2 43.5L289.3 47.8L289.4 47.8L289.5 47.8L289.6 43.5L289.7 47.8L289.8 43.5L289.9 43.5L290.0 43.5L290.1 43.5L290.2 47.8L290.3 43.5L290.4 47.8L290.5 43.5L290.6 43.5L290.7 43.5L290.8 43.5L290.9 43.5L291.0 43.5L291.1 43.5L291.2 43.5L291.3 43.5L291.4 47.8L291.5 47.8L291.6 47.8L291.7 43.5L291.8 43.5L291.9 43.5L292.0 47.8L292.1 43.5L292.2 43.5L292.3 43.5L292.4 43.5L292.5 47.8L292.6 43.5L292.7 47.8L292.8 43.5L292.9 43.5L293.0 43.5L293.1 47.8L293.2 43.5L293.3 43.5L293.4 43.5L293.5 47.8L293.6 47.8L293.7 43.5L293.8 43.5L293.9 47.8L294.0 43.5L294.1 47.8L294.2 47.8L294.3 43.5L294.4 43.5L294.5 43.5L294.6 47.8L294.7 43.5L294.8 47.8L294.9 43.5L295.0 43.5L295.1 43.5L295.2 43.5L295.3 43.5L295.4 43.5L295.5 43.5L295.6 43.5L295.7 43.5L295.8 43.5L295.9 43.5L296.0 43.5L296.1 43.5L296.1 43.5L296.2 43.5L296.3 43.5L296.4 43.5L296.5 43.5L296.6 43.5L296.7 47.8L296.8 43.5L296.9 43.5L297.0 43.5L297.1 43.5L297.2 43.5L297.3 47.8L297.4 43.5L297.5 47.8L297.6 47.8L297.7 43.5L297.8 43.5L297.9 43.5L298.0 43.5L298.1 43.5L298.2 43.5L298.3 43.5L298.4 43.5L298.5 43.5L298.6 43.5L298.7 43.5L298.8 43.5L298.9 43.5L299.0 43.5L299.1 43.5L299.2 43.5L299.3 43.5L299.4 43.5L299.5 43.5L299.6 43.5L299.7 43.5L299.8 43.5L299.9 43.5L300.0 43.5L300.1 43.5L300.2 43.5L300.3 43.5L300.4 43.5L300.5 47.8L300.6 43.5L300.7 43.5L300.8 43.5L300.9 43.5L301.0 43.5L301.1 43.5L301.2 43.5L301.3 43.5L301.4 47.8L301.5 43.5L301.6 47.8L301.7 43.5L301.8 43.5L301.9 43.5L302.0 43.5L302.1 43.5L302.2 47.8L302.3 43.5L302.4 43.5L302.5 43.5L302.6 47.8L302.7 43.5L302.8 43.5L302.9 47.8L303.0 43.5L303.1 47.8L303.2 43.5L303.3 43.5L303.4 43.5L303.5 47.8L303.6 47.8L303.7 43.5L303.8 43.5L303.9 43.5L304.0 43.5L304.1 43.5L304.2 43.5L304.3 43.5L304.4 43.5L304.5 47.8L304.6 43.5L304.7 43.5L304.8 43.5L304.9 43.5L305.0 43.5L305.1 43.5L305.2 43.5L305.3 43.5L305.4 43.5L305.5 43.5L305.6 43.5L305.7 43.5L305.8 43.5L305.9 43.5L306.0 43.5L306.1 43.5L306.2 43.5L306.3 43.5L306.4 43.5L306.5 43.5L306.6 43.5L306.7 43.5L306.8 43.5L306.9 43.5L307.0 43.5L307.1 43.5L307.2 43.5L307.3 43.5L307.4 43.5L307.5 43.5L307.6 43.5L307.7 43.5L307.8 43.5L307.9 43.5L308.0 43.5L308.1 47.8L308.2 43.5L308.3 43.5L308.4 47.8L308.5 43.5L308.6 43.5L308.7 43.5L308.8 43.5L308.9 43.5L309.0 47.8L309.1 43.5L309.2 43.5L309.3 43.5L309.4 43.5L309.5 43.5L309.6 43.5L309.7 43.5L309.8 43.5L309.9 43.5L310.0 43.5L310.1 43.5L310.2 43.5L310.3 43.5L310.4 43.5L310.5 43.5L310.6 43.5L310.7 43.5L310.8 43.5L310.9 43.5L311.0 43.5L311.1 43.5L311.2 43.5L311.3 43.5L311.4 43.5L311.4 43.5L311.5 43.5L311.6 43.5L311.7 43.5L311.8 43.5L311.9 43.5L312.0 43.5L312.1 43.5L312.2 43.5L312.3 47.8L312.4 43.5L312.5 43.5L312.6 43.5L312.7 43.5L312.8 43.5L312.9 43.5L313.0 43.5L313.1 43.5L313.2 47.8L313.3 43.5L313.4 47.8L313.5 43.5L313.6 47.8L313.7 43.5L313.8 43.5L313.9 47.8L314.0 47.8L314.1 47.8L314.2 43.5L314.3 43.5L314.4 47.8L314.5 43.5L314.6 43.5L314.7 43.5L314.8 47.8L314.9 47.8L315.0 43.5L315.1 43.5L315.2 43.5L315.3 47.8L315.4 43.5L315.5 43.5L315.6 43.5L315.7 43.5L315.8 43.5L315.9 43.5L316.0 43.5L316.1 43.5L316.2 43.5L316.3 47.8L316.4 43.5L316.5 43.5L316.6 43.5L316.7 43.5L316.8 43.5L316.9 43.5L317.0 43.5L317.1 43.5L317.2 43.5L317.3 43.5L317.4 43.5L317.5 43.5L317.6 43.5L317.7 43.5L317.8 43.5L317.9 43.5L318.0 43.5L318.1 43.5L318.2 43.5L318.3 43.5L318.4 43.5L318.5 43.5L318.6 43.5L318.7 43.5L318.8 43.5L318.9 43.5L319.0 43.5L319.1 43.5L319.2 43.5L319.3 43.5L319.4 47.8L319.5 43.5L319.6 43.5L319.7 43.5L319.8 43.5L319.9 43.5L320.0 47.8L320.1 43.5L320.2 43.5L320.3 47.8L320.4 47.8L320.5 43.5L320.6 43.5L320.7 43.5L320.8 43.5L320.9 43.5L321.0 43.5L321.1 43.5L321.2 43.5L321.3 43.5L321.4 47.8L321.5 47.8L321.6 43.5L321.7 43.5L321.8 43.5L321.9 43.5L322.0 43.5L322.1 47.8L322.2 43.5L322.3 47.8L322.4 43.5L322.5 43.5L322.6 47.8L322.7 43.5L322.8 43.5L322.9 43.5L323.0 43.5L323.1 43.5L323.2 43.5L323.3 43.5L323.4 43.5L323.5 43.5L323.6 43.5L323.7 43.5L323.8 43.5L323.9 43.5L324.0 43.5L324.1 43.5L324.2 47.8L324.3 47.8L324.4 43.5L324.5 43.5L324.6 43.5L324.7 43.5L324.8 43.5L324.9 43.5L325.0 43.5L325.1 47.8L325.2 47.8L325.3 43.5L325.4 43.5L325.5 43.5L325.6 43.5L325.7 43.5L325.8 47.8L325.9 43.5L326.0 43.5L326.1 43.5L326.2 43.5L326.3 43.5L326.4 43.5L326.5 43.5L326.6 43.5L326.7 47.8L326.7 47.8L326.8 43.5L326.9 43.5L327.0 47.8L327.1 47.8L327.2 47.8L327.3 43.5L327.4 47.8L327.5 47.8L327.6 47.8L327.7 47.8L327.8 43.5L327.9 43.5L328.0 43.5L328.1 43.5L328.2 43.5L328.3 43.5L328.4 43.5L328.5 43.5L328.6 43.5L328.7 47.8L328.8 47.8L328.9 47.8L329.0 43.5L329.1 47.8L329.2 47.8L329.3 43.5L329.4 47.8L329.5 47.8L329.6 43.5L329.7 43.5L329.8 43.5L329.9 47.8L330.0 43.5L330.1 43.5L330.2 47.8L330.3 43.5L330.4 47.8L330.5 43.5L330.6 43.5L330.7 47.8L330.8 43.5L330.9 43.5L331.0 43.5L331.1 43.5L331.2 43.5L331.3 43.5L331.4 43.5L331.5 43.5L331.6 43.5L331.7 43.5L331.8 43.5L331.9 43.5L332.0 43.5L332.1 43.5L332.2 43.5L332.3 43.5L332.4 47.8L332.5 43.5L332.6 43.5L332.7 47.8L332.8 47.8L332.9 43.5L333.0 43.5L333.1 43.5L333.2 43.5L333.3 43.5L333.4 47.8L333.5 43.5L333.6 43.5L333.7 43.5L333.8 43.5L333.9 47.8L334.0 43.5L334.1 43.5L334.2 43.5L334.3 43.5L334.4 47.8L334.5 43.5L334.6 47.8L334.7 43.5L334.8 47.8L334.9 47.8L335.0 43.5L335.1 43.5L335.2 43.5L335.3 43.5L335.4 47.8L335.5 43.5L335.6 43.5L335.7 43.5L335.8 43.5L335.9 43.5L336.0 43.5L336.1 43.5L336.2 43.5L336.3 43.5L336.4 43.5L336.5 43.5L336.6 43.5L336.7 43.5L336.8 43.5L336.9 43.5L337.0 43.5L337.1 43.5L337.2 52.1L337.3 43.5L337.4 47.8L337.5 43.5L337.6 43.5L337.7 43.5L337.8 43.5L337.9 47.8L338.0 43.5L338.1 47.8L338.2 47.8L338.3 43.5L338.4 43.5L338.5 43.5L338.6 43.5L338.7 43.5L338.8 43.5L338.9 43.5L339.0 43.5L339.1 43.5L339.2 43.5L339.3 43.5L339.4 43.5L339.5 47.8L339.6 43.5L339.7 43.5L339.8 43.5L339.9 43.5L340.0 43.5L340.1 43.5L340.2 43.5L340.3 43.5L340.4 43.5L340.5 43.5L340.6 43.5L340.7 43.5L340.8 43.5L340.9 43.5L341.0 43.5L341.1 43.5L341.2 43.5L341.3 43.5L341.4 43.5L341.5 43.5L341.6 43.5L341.7 43.5L341.8 43.5L341.9 43.5L342.0 43.5L342.0 47.8L342.1 43.5L342.2 43.5L342.3 43.5L342.4 43.5L342.5 43.5L342.6 43.5L342.7 43.5L342.8 47.8L342.9 43.5L343.0 43.5L343.1 43.5L343.2 43.5L343.3 43.5L343.4 43.5L343.5 43.5L343.6 43.5L343.7 43.5L343.8 43.5L343.9 43.5L344.0 43.5L344.1 43.5L344.2 43.5L344.3 43.5L344.4 43.5L344.5 43.5L344.6 43.5L344.7 43.5L344.8 43.5L344.9 43.5L345.0 43.5L345.1 43.5L345.2 43.5L345.3 43.5L345.4 47.8L345.5 47.8L345.6 43.5L345.7 43.5L345.8 43.5L345.9 47.8L346.0 47.8L346.1 43.5L346.2 43.5L346.3 43.5L346.4 47.8L346.5 43.5L346.6 43.5L346.7 43.5L346.8 43.5L346.9 43.5L347.0 43.5L347.1 47.8L347.2 47.8L347.3 43.5L347.4 43.5L347.5 43.5L347.6 43.5L347.7 43.5L347.8 47.8L347.9 43.5L348.0 43.5L348.1 43.5L348.2 47.8L348.3 43.5L348.4 47.8L348.5 43.5L348.6 47.8L348.7 43.5L348.8 43.5L348.9 47.8L349.0 43.5L349.1 47.8L349.2 47.8L349.3 43.5L349.4 47.8L349.5 43.5L349.6 43.5L349.7 43.5L349.8 43.5L349.9 43.5L350.0 43.5L350.1 43.5L350.2 43.5L350.3 43.5L350.4 43.5L350.5 43.5L350.6 47.8L350.7 43.5L350.8 43.5L350.9 43.5L351.0 43.5L351.1 43.5L351.2 43.5L351.3 43.5L351.4 47.8L351.5 47.8L351.6 43.5L351.7 43.5L351.8 47.8L351.9 43.5L352.0 47.8L352.1 43.5L352.2 43.5L352.3 43.5L352.4 43.5L352.5 43.5L352.6 43.5L352.7 43.5L352.8 43.5L352.9 43.5L353.0 43.5L353.1 43.5L353.2 43.5L353.3 43.5L353.4 43.5L353.5 43.5L353.6 43.5L353.7 47.8L353.8 43.5L353.9 47.8L354.0 43.5L354.1 43.5L354.2 47.8L354.3 47.8L354.4 43.5L354.5 47.8L354.6 43.5L354.7 47.8L354.8 47.8L354.9 47.8L355.0 43.5L355.1 47.8L355.2 43.5L355.3 43.5L355.4 43.5L355.5 43.5L355.6 43.5L355.7 43.5L355.8 43.5L355.9 43.5L356.0 43.5L356.1 43.5L356.2 43.5L356.3 43.5L356.4 43.5L356.5 43.5L356.6 43.5L356.7 43.5L356.8 43.5L356.9 43.5L357.0 43.5L357.1 43.5L357.2 43.5L357.2 43.5L357.3 47.8L357.4 43.5L357.5 43.5L357.6 43.5L357.7 43.5L357.8 43.5L357.9 43.5L358.0 43.5L358.1 43.5L358.2 52.1L358.3 43.5L358.4 43.5L358.5 43.5L358.6 43.5L358.7 43.5L358.8 43.5L358.9 43.5L359.0 43.5L359.1 43.5L359.2 43.5L359.3 43.5L359.4 43.5L359.5 43.5L359.6 43.5L359.7 43.5L359.8 43.5L359.9 43.5L360.0 43.5L360.1 43.5L360.2 43.5L360.3 43.5L360.4 43.5L360.5 43.5L360.6 43.5L360.7 43.5L360.8 43.5L360.9 43.5L361.0 43.5L361.1 43.5L361.2 43.5L361.3 43.5L361.4 43.5L361.5 43.5L361.6 43.5L361.7 43.5L361.8 43.5L361.9 43.5L362.0 43.5L362.1 43.5L362.2 43.5L362.3 43.5L362.4 43.5L362.5 43.5L362.6 43.5L362.7 43.5L362.8 43.5L362.9 43.5L363.0 43.5L363.1 43.5L363.2 43.5L363.3 43.5L363.4 43.5L363.5 47.8L363.6 47.8L363.7 43.5L363.8 47.8L363.9 43.5L364.0 47.8L364.1 47.8L364.2 47.8L364.3 43.5L364.4 43.5L364.5 43.5L364.6 43.5L364.7 43.5L364.8 47.8L364.9 43.5L365.0 43.5L365.1 47.8L365.2 47.8L365.3 43.5L365.4 43.5L365.5 43.5L365.6 43.5L365.7 43.5L365.8 43.5L365.9 43.5L366.0 43.5L366.1 47.8L366.2 43.5L366.3 43.5L366.4 43.5L366.5 43.5L366.6 43.5L366.7 43.5L366.8 43.5L366.9 43.5L367.0 43.5L367.1 43.5L367.2 43.5L367.3 43.5L367.4 43.5L367.5 43.5L367.6 43.5L367.7 43.5L367.8 43.5L367.9 43.5L368.0 47.8L368.1 43.5L368.2 43.5L368.3 43.5L368.4 43.5L368.5 47.8L368.6 43.5L368.7 47.8L368.8 47.8L368.9 43.5L369.0 43.5L369.1 43.5L369.2 43.5L369.3 47.8L369.4 47.8L369.5 43.5L369.6 47.8L369.7 47.8L369.8 47.8L369.9 47.8L370.0 43.5L370.1 47.8L370.2 43.5L370.3 43.5L370.4 43.5L370.5 43.5L370.6 43.5L370.7 43.5L370.8 43.5L370.9 43.5L371.0 43.5L371.1 43.5L371.2 43.5L371.3 47.8L371.4 43.5L371.5 43.5L371.6 43.5L371.7 43.5L371.8 47.8L371.9 47.8L372.0 47.8L372.1 43.5L372.2 43.5L372.3 47.8L372.4 43.5L372.5 43.5L372.5 43.5L372.6 43.5L372.7 47.8L372.8 43.5L372.9 43.5L373.0 43.5L373.1 43.5L373.2 43.5L373.3 43.5L373.4 43.5L373.5 43.5L373.6 47.8L373.7 47.8L373.8 43.5L373.9 43.5L374.0 47.8L374.1 47.8L374.2 43.5L374.3 43.5L374.4 43.5L374.5 47.8L374.6 43.5L374.7 43.5L374.8 43.5L374.9 43.5L375.0 47.8L375.1 43.5L375.2 47.8L375.3 43.5L375.4 43.5L375.5 47.8L375.6 43.5L375.7 47.8L375.8 43.5L375.9 43.5L376.0 43.5L376.1 47.8L376.2 43.5L376.3 43.5L376.4 47.8L376.5 43.5L376.6 43.5L376.7 43.5L376.8 43.5L376.9 43.5L377.0 43.5L377.1 43.5L377.2 47.8L377.3 43.5L377.4 47.8L377.5 43.5L377.6 43.5L377.7 47.8L377.8 47.8L377.9 43.5L378.0 43.5L378.1 43.5L378.2 43.5L378.3 43.5L378.4 43.5L378.5 43.5L378.6 43.5L378.7 43.5L378.8 43.5L378.9 43.5L379.0 43.5L379.1 43.5L379.2 43.5L379.3 43.5L379.4 47.8L379.5 43.5L379.6 43.5L379.7 43.5L379.8 43.5L379.9 43.5L380.0 43.5L380.1 43.5L380.2 43.5L380.3 43.5L380.4 43.5L380.5 43.5L380.6 43.5L380.7 43.5L380.8 43.5L380.9 43.5L381.0 43.5L381.1 43.5L381.2 43.5L381.3 43.5L381.4 43.5L381.5 47.8L381.6 43.5L381.7 43.5L381.8 47.8L381.9 47.8L382.0 43.5L382.1 43.5L382.2 47.8L382.3 43.5L382.4 43.5L382.5 43.5L382.6 43.5L382.7 43.5L382.8 47.8L382.9 43.5L383.0 43.5L383.1 43.5L383.2 43.5L383.3 47.8L383.4 43.5L383.5 43.5L383.6 43.5L383.7 43.5L383.8 47.8L383.9 43.5L384.0 47.8L384.1 47.8L384.2 47.8L384.3 43.5L384.4 43.5L384.5 47.8L384.6 43.5L384.7 43.5L384.8 43.5L384.9 43.5L385.0 47.8L385.1 43.5L385.2 43.5L385.3 43.5L385.4 43.5L385.5 47.8L385.6 43.5L385.7 43.5L385.8 47.8L385.9 43.5L386.0 43.5L386.1 43.5L386.2 43.5L386.3 43.5L386.4 47.8L386.5 47.8L386.6 43.5L386.7 43.5L386.8 47.8L386.9 47.8L387.0 43.5L387.1 43.5L387.2 43.5L387.3 43.5L387.4 43.5L387.5 43.5L387.6 43.5L387.7 43.5L387.8 43.5L387.8 43.5L387.9 43.5L388.0 43.5L388.1 43.5L388.2 43.5L388.3 43.5L388.4 43.5L388.5 43.5L388.6 43.5L388.7 43.5L388.8 43.5L388.9 43.5L389.0 43.5L389.1 43.5L389.2 43.5L389.3 43.5L389.4 43.5L389.5 43.5L389.6 43.5L389.7 43.5L389.8 43.5L389.9 43.5L390.0 43.5L390.1 43.5L390.2 43.5L390.3 43.5L390.4 43.5L390.5 43.5L390.6 43.5L390.7 43.5L390.8 43.5L390.9 43.5L391.0 43.5L391.1 43.5L391.2 43.5L391.3 43.5L391.4 43.5L391.5 43.5L391.6 43.5L391.7 43.5L391.8 43.5L391.9 43.5L392.0 43.5L392.1 43.5L392.2 43.5L392.3 43.5L392.4 43.5L392.5 43.5L392.6 43.5L392.7 43.5L392.8 43.5L392.9 43.5L393.0 43.5L393.1 43.5L393.2 43.5L393.3 43.5L393.4 43.5L393.5 43.5L393.6 43.5L393.7 43.5L393.8 43.5L393.9 43.5L394.0 43.5L394.1 43.5L394.2 43.5L394.3 43.5L394.4 43.5L394.5 43.5L394.6 43.5L394.7 43.5L394.8 43.5L394.9 43.5L395.0 43.5L395.1 43.5L395.2 43.5L395.3 43.5L395.4 47.8L395.5 47.8L395.6 47.8L395.7 47.8L395.8 47.8L395.9 47.8L396.0 47.8L396.1 43.5L396.2 47.8L396.3 43.5L396.4 43.5L396.5 47.8L396.6 43.5L396.7 43.5L396.8 47.8L396.9 43.5L397.0 43.5L397.1 47.8L397.2 43.5L397.3 43.5L397.4 43.5L397.5 43.5L397.6 43.5L397.7 43.5L397.8 43.5L397.9 43.5L398.0 43.5L398.1 43.5L398.2 43.5L398.3 47.8L398.4 47.8L398.5 47.8L398.6 43.5L398.7 47.8L398.8 43.5L398.9 43.5L399.0 43.5L399.1 43.5L399.2 43.5L399.3 43.5L399.4 43.5L399.5 43.5L399.6 43.5L399.7 43.5L399.8 43.5L399.9 43.5L400.0 43.5L400.1 43.5L400.2 43.5L400.3 43.5L400.4 43.5L400.5 43.5L400.6 43.5L400.7 43.5L400.8 43.5L400.9 43.5L401.0 43.5L401.1 43.5L401.2 43.5L401.3 43.5L401.4 43.5L401.5 43.5L401.6 43.5L401.7 43.5L401.8 43.5L401.9 43.5L402.0 43.5L402.1 43.5L402.2 43.5L402.3 43.5L402.4 43.5L402.5 43.5L402.6 43.5L402.7 43.5L402.8 43.5L402.9 43.5L403.0 43.5L403.1 43.5L403.1 43.5L403.2 43.5L403.3 43.5L403.4 47.8L403.5 43.5L403.6 43.5L403.7 47.8L403.8 43.5L403.9 43.5L404.0 43.5L404.1 43.5L404.2 47.8L404.3 47.8L404.4 43.5L404.5 47.8L404.6 43.5L404.7 47.8L404.8 43.5L404.9 47.8L405.0 43.5L405.1 43.5L405.2 43.5L405.3 43.5L405.4 47.8L405.5 43.5L405.6 47.8L405.7 47.8L405.8 43.5L405.9 47.8L406.0 43.5L406.1 43.5L406.2 47.8L406.3 43.5L406.4 47.8L406.5 43.5L406.6 43.5L406.7 47.8L406.8 43.5L406.9 43.5L407.0 47.8L407.1 43.5L407.2 43.5L407.3 47.8L407.4 43.5L407.5 47.8L407.6 47.8L407.7 43.5L407.8 47.8L407.9 43.5L408.0 43.5L408.1 43.5L408.2 47.8L408.3 47.8L408.4 43.5L408.5 43.5L408.6 47.8L408.7 47.8L408.8 43.5L408.9 43.5L409.0 43.5L409.1 47.8L409.2 47.8L409.3 43.5L409.4 43.5L409.5 43.5L409.6 43.5L409.7 43.5L409.8 43.5L409.9 43.5L410.0 43.5L410.1 43.5L410.2 43.5L410.3 43.5L410.4 43.5L410.5 43.5L410.6 43.5L410.7 43.5L410.8 47.8L410.9 43.5L411.0 43.5L411.1 43.5L411.2 43.5L411.3 43.5L411.4 43.5L411.5 43.5L411.6 43.5L411.7 43.5L411.8 43.5L411.9 43.5L412.0 43.5L412.1 47.8L412.2 43.5L412.3 47.8L412.4 47.8L412.5 43.5L412.6 47.8L412.7 43.5L412.8 43.5L412.9 43.5L413.0 43.5L413.1 43.5L413.2 43.5L413.3 43.5L413.4 43.5L413.5 43.5L413.6 47.8L413.7 43.5L413.8 43.5L413.9 47.8L414.0 43.5L414.1 43.5L414.2 43.5L414.3 43.5L414.4 43.5L414.5 43.5L414.6 47.8L414.7 43.5L414.8 43.5L414.9 47.8L415.0 43.5L415.1 47.8L415.2 43.5L415.3 43.5L415.4 43.5L415.5 43.5L415.6 43.5L415.7 43.5L415.8 43.5L415.9 43.5L416.0 43.5L416.1 43.5L416.2 43.5L416.3 43.5L416.4 43.5L416.5 43.5L416.6 43.5L416.7 43.5L416.8 43.5L416.9 43.5L417.0 43.5L417.1 43.5L417.2 43.5L417.3 43.5L417.4 43.5L417.5 43.5L417.6 43.5L417.7 43.5L417.8 43.5L417.9 43.5L418.0 43.5L418.1 43.5L418.2 43.5L418.3 43.5L418.4 43.5L418.4 43.5L418.5 43.5L418.6 43.5L418.7 43.5L418.8 43.5L418.9 43.5L419.0 43.5L419.1 43.5L419.2 43.5L419.3 43.5L419.4 43.5L419.5 43.5L419.6 43.5L419.7 43.5L419.8 43.5L419.9 43.5L420.0 43.5L420.1 43.5L420.2 43.5L420.3 43.5L420.4 43.5L420.5 43.5L420.6 43.5L420.7 43.5L420.8 43.5L420.9 43.5L421.0 43.5L421.1 43.5L421.2 43.5L421.3 43.5L421.4 43.5L421.5 43.5L421.6 43.5L421.7 43.5L421.8 43.5L421.9 43.5L422.0 43.5L422.1 43.5L422.2 43.5L422.3 43.5L422.4 43.5L422.5 43.5L422.6 43.5L422.7 43.5L422.8 43.5L422.9 43.5L423.0 43.5L423.1 43.5L423.2 43.5L423.3 43.5L423.4 43.5L423.5 43.5L423.6 43.5L423.7 43.5L423.8 43.5L423.9 43.5L424.0 43.5L424.1 43.5L424.2 43.5L424.3 43.5L424.4 43.5L424.5 43.5L424.6 43.5L424.7 43.5L424.8 43.5L424.9 43.5L425.0 43.5L425.1 43.5L425.2 43.5L425.3 43.5L425.4 43.5L425.5 43.5L425.6 47.8L425.7 43.5L425.8 47.8L425.9 43.5L426.0 47.8L426.1 47.8L426.2 47.8L426.3 43.5L426.4 43.5L426.5 47.8L426.6 43.5L426.7 47.8L426.8 43.5L426.9 43.5L427.0 43.5L427.1 43.5L427.2 43.5L427.3 43.5L427.4 47.8L427.5 43.5L427.6 43.5L427.7 43.5L427.8 43.5L427.9 43.5L428.0 47.8L428.1 43.5L428.2 43.5L428.3 47.8L428.4 47.8L428.5 47.8L428.6 43.5L428.7 43.5L428.8 43.5L428.9 43.5L429.0 43.5L429.1 43.5L429.2 43.5L429.3 43.5L429.4 43.5L429.5 47.8L429.6 43.5L429.7 43.5L429.8 47.8L429.9 47.8L430.0 43.5L430.1 47.8L430.2 43.5L430.3 43.5L430.4 43.5L430.5 43.5L430.6 43.5L430.7 43.5L430.8 43.5L430.9 43.5L431.0 43.5L431.1 43.5L431.2 43.5L431.3 43.5L431.4 43.5L431.5 43.5L431.6 43.5L431.7 43.5L431.8 43.5L431.9 43.5L432.0 43.5L432.1 43.5L432.2 43.5L432.3 43.5L432.4 43.5L432.5 43.5L432.6 43.5L432.7 43.5L432.8 43.5L432.9 43.5L433.0 43.5L433.1 43.5L433.2 43.5L433.3 43.5L433.4 43.5L433.5 43.5L433.6 43.5L433.7 43.5L433.7 43.5L433.8 43.5L433.9 43.5L434.0 43.5L434.1 43.5L434.2 43.5L434.3 43.5L434.4 43.5L434.5 43.5L434.6 43.5L434.7 43.5L434.8 43.5L434.9 43.5L435.0 43.5L435.1 43.5L435.2 43.5L435.3 43.5L435.4 43.5L435.5 43.5L435.6 43.5L435.7 43.5L435.8 43.5L435.9 43.5L436.0 43.5L436.1 43.5L436.2 43.5L436.3 43.5L436.4 43.5L436.5 43.5L436.6 43.5L436.7 43.5L436.8 43.5L436.9 43.5L437.0 43.5L437.1 43.5L437.2 43.5L437.3 43.5L437.4 43.5L437.5 43.5L437.6 43.5L437.7 43.5L437.8 43.5L437.9 43.5L438.0 43.5L438.1 43.5L438.2 43.5L438.3 43.5L438.4 43.5L438.5 43.5L438.6 43.5L438.7 43.5L438.8 43.5L438.9 43.5L439.0 43.5L439.1 47.8L439.2 43.5L439.3 43.5L439.4 43.5L439.5 43.5L439.6 43.5L439.7 43.5L439.8 43.5L439.9 43.5L440.0 43.5L440.1 43.5L440.2 43.5L440.3 43.5L440.4 43.5L440.5 43.5L440.6 43.5L440.7 43.5L440.8 43.5L440.9 43.5L441.0 43.5L441.1 43.5L441.2 43.5L441.3 43.5L441.4 43.5L441.5 43.5L441.6 43.5L441.7 43.5L441.8 43.5L441.9 43.5L442.0 43.5L442.1 43.5L442.2 43.5L442.3 43.5L442.4 43.5L442.5 43.5L442.6 43.5L442.7 43.5L442.8 43.5L442.9 43.5L443.0 43.5L443.1 43.5L443.2 43.5L443.3 43.5L443.4 43.5L443.5 43.5L443.6 47.8L443.7 43.5L443.8 43.5L443.9 43.5L444.0 43.5L444.1 43.5L444.2 43.5L444.3 43.5L444.4 43.5L444.5 43.5L444.6 43.5L444.7 43.5L444.8 43.5L444.9 43.5L445.0 43.5L445.1 43.5L445.2 43.5L445.3 43.5L445.4 47.8L445.5 43.5L445.6 43.5L445.7 43.5L445.8 43.5L445.9 43.5L446.0 43.5L446.1 43.5L446.2 47.8L446.3 47.8L446.4 43.5L446.5 43.5L446.6 47.8L446.7 43.5L446.8 47.8L446.9 47.8L447.0 43.5L447.1 43.5L447.2 43.5L447.3 43.5L447.4 43.5L447.5 43.5L447.6 43.5L447.7 47.8L447.8 43.5L447.9 43.5L448.0 43.5L448.1 47.8L448.2 43.5L448.3 43.5L448.4 43.5L448.5 43.5L448.6 43.5L448.7 43.5L448.8 43.5L448.9 43.5L448.9 43.5L449.0 43.5L449.1 43.5L449.2 43.5L449.3 43.5L449.4 43.5L449.5 43.5L449.6 43.5L449.7 43.5L449.8 43.5L449.9 43.5L450.0 43.5L450.1 43.5L450.2 43.5L450.3 43.5L450.4 43.5L450.5 43.5L450.6 43.5L450.7 43.5L450.8 43.5L450.9 43.5L451.0 43.5L451.1 43.5L451.2 43.5L451.3 43.5L451.4 43.5L451.5 43.5L451.6 43.5L451.7 43.5L451.8 43.5L451.9 43.5L452.0 43.5L452.1 43.5L452.2 43.5L452.3 43.5L452.4 43.5L452.5 43.5L452.6 43.5L452.7 43.5L452.8 43.5L452.9 43.5L453.0 43.5L453.1 43.5L453.2 43.5L453.3 43.5L453.4 43.5L453.5 43.5L453.6 43.5L453.7 43.5L453.8 43.5L453.9 43.5L454.0 43.5L454.1 43.5L454.2 43.5L454.3 43.5L454.4 43.5L454.5 47.8L454.6 43.5L454.7 43.5L454.8 47.8L454.9 47.8L455.0 43.5L455.1 43.5L455.2 43.5L455.3 43.5L455.4 43.5L455.5 43.5L455.6 43.5L455.7 43.5L455.8 43.5L455.9 43.5L456.0 43.5L456.1 43.5L456.2 43.5L456.3 43.5L456.4 43.5L456.5 43.5L456.6 43.5L456.7 43.5L456.8 43.5L456.9 43.5L457.0 43.5L457.1 43.5L457.2 43.5L457.3 43.5L457.4 43.5L457.5 43.5L457.6 43.5L457.7 43.5L457.8 43.5L457.9 43.5L458.0 43.5L458.1 43.5L458.2 43.5L458.3 43.5L458.4 43.5L458.5 43.5L458.6 43.5L458.7 43.5L458.8 43.5L458.9 43.5L459.0 43.5L459.1 43.5L459.2 43.5L459.3 43.5L459.4 43.5L459.5 43.5L459.6 43.5L459.7 43.5L459.8 43.5L459.9 43.5L460.0 43.5L460.1 43.5L460.2 43.5L460.3 47.8L460.4 47.8L460.5 43.5L460.6 43.5L460.7 43.5L460.8 43.5L460.9 43.5L461.0 43.5L461.1 43.5L461.2 47.8L461.3 43.5L461.4 43.5L461.5 43.5L461.6 47.8L461.7 43.5L461.8 43.5L461.9 43.5L462.0 43.5L462.1 47.8L462.2 47.8L462.3 43.5L462.4 43.5L462.5 43.5L462.6 47.8L462.7 47.8L462.8 43.5L462.9 43.5L463.0 43.5L463.1 47.8L463.2 43.5L463.3 47.8L463.4 43.5L463.5 43.5L463.6 47.8L463.7 43.5L463.8 52.1L463.9 43.5L464.0 43.5L464.1 43.5L464.2 43.5L464.2 43.5L464.3 47.8L464.4 43.5L464.5 43.5L464.6 43.5L464.7 43.5L464.8 43.5L464.9 43.5L465.0 47.8L465.1 43.5L465.2 47.8L465.3 47.8L465.4 43.5L465.5 43.5L465.6 43.5L465.7 43.5L465.8 43.5L465.9 43.5L466.0 43.5L466.1 43.5L466.2 43.5L466.3 43.5L466.4 43.5L466.5 43.5L466.6 43.5L466.7 43.5L466.8 43.5L466.9 43.5L467.0 43.5L467.1 43.5L467.2 43.5L467.3 43.5L467.4 43.5L467.5 43.5L467.6 43.5L467.7 43.5L467.8 43.5L467.9 43.5L468.0 43.5L468.1 43.5L468.2 43.5L468.3 43.5L468.4 43.5L468.5 43.5L468.6 43.5L468.7 43.5L468.8 43.5L468.9 43.5L469.0 43.5L469.1 43.5L469.2 43.5L469.3 43.5L469.4 43.5L469.5 43.5L469.6 43.5L469.7 43.5L469.8 43.5L469.9 43.5L470.0 43.5L470.1 43.5L470.2 43.5L470.3 43.5L470.4 43.5L470.5 43.5L470.6 43.5L470.7 43.5L470.8 43.5L470.9 43.5L471.0 47.8L471.1 43.5L471.2 43.5L471.3 47.8L471.4 43.5L471.5 43.5L471.6 47.8L471.7 43.5L471.8 43.5L471.9 43.5L472.0 43.5L472.1 43.5L472.2 43.5L472.3 43.5L472.4 43.5L472.5 43.5L472.6 43.5L472.7 43.5L472.8 43.5L472.9 43.5L473.0 43.5L473.1 43.5L473.2 43.5L473.3 43.5L473.4 43.5L473.5 43.5L473.6 43.5L473.7 43.5L473.8 43.5L473.9 43.5L474.0 43.5L474.1 43.5L474.2 43.5L474.3 43.5L474.4 43.5L474.5 43.5L474.6 43.5L474.7 43.5L474.8 43.5L474.9 43.5L475.0 43.5L475.1 43.5L475.2 43.5L475.3 43.5L475.4 43.5L475.5 43.5L475.6 43.5L475.7 43.5L475.8 43.5L475.9 43.5L476.0 43.5L476.1 43.5L476.2 43.5L476.3 43.5L476.4 43.5L476.5 43.5L476.6 43.5L476.7 43.5L476.8 43.5L476.9 43.5L477.0 43.5L477.1 43.5L477.2 43.5L477.3 43.5L477.4 43.5L477.5 43.5L477.6 43.5L477.7 43.5L477.8 43.5L477.9 43.5L478.0 43.5L478.1 43.5L478.2 43.5L478.3 43.5L478.4 43.5L478.5 43.5L478.6 43.5L478.7 43.5L478.8 43.5L478.9 43.5L479.0 43.5L479.1 43.5L479.2 43.5L479.3 43.5L479.4 43.5L479.5 43.5L479.5 43.5L479.6 43.5L479.7 43.5L479.8 43.5L479.9 43.5L480.0 43.5L480.1 43.5L480.2 43.5L480.3 43.5L480.4 43.5L480.5 43.5L480.6 43.5L480.7 47.8L480.8 43.5L480.9 43.5L481.0 43.5L481.1 47.8L481.2 43.5L481.3 43.5L481.4 47.8L481.5 43.5L481.6 47.8L481.7 47.8L481.8 43.5L481.9 43.5L482.0 43.5L482.1 43.5L482.2 43.5L482.3 43.5L482.4 43.5L482.5 43.5L482.6 43.5L482.7 43.5L482.8 43.5L482.9 43.5L483.0 43.5L483.1 43.5L483.2 43.5L483.3 43.5L483.4 43.5L483.5 43.5L483.6 43.5L483.7 43.5L483.8 43.5L483.9 43.5L484.0 43.5L484.1 43.5L484.2 43.5L484.3 43.5L484.4 43.5L484.5 43.5L484.6 43.5L484.7 43.5L484.8 43.5L484.9 43.5L485.0 43.5L485.1 43.5L485.2 43.5L485.3 43.5L485.4 43.5L485.5 43.5L485.6 43.5L485.7 43.5L485.8 43.5L485.9 43.5L486.0 43.5L486.1 43.5L486.2 43.5L486.3 43.5L486.4 43.5L486.5 47.8L486.6 43.5L486.7 43.5L486.8 43.5L486.9 43.5L487.0 43.5L487.1 43.5L487.2 43.5L487.3 43.5L487.4 43.5L487.5 43.5L487.6 43.5L487.7 43.5L487.8 43.5L487.9 43.5L488.0 43.5L488.1 43.5L488.2 43.5L488.3 47.8L488.4 47.8L488.5 47.8L488.6 43.5L488.7 47.8L488.8 43.5L488.9 47.8L489.0 43.5L489.1 43.5L489.2 43.5L489.3 43.5L489.4 47.8L489.5 43.5L489.6 47.8L489.7 47.8L489.8 43.5L489.9 43.5L490.0 43.5L490.1 47.8L490.2 43.5L490.3 43.5L490.4 43.5L490.5 43.5L490.6 43.5L490.7 43.5L490.8 47.8L490.9 43.5L491.0 43.5L491.1 43.5L491.2 47.8L491.3 43.5L491.4 47.8L491.5 43.5L491.6 43.5L491.7 43.5L491.8 43.5L491.9 43.5L492.0 47.8L492.1 43.5L492.2 43.5L492.3 43.5L492.4 47.8L492.5 43.5L492.6 43.5L492.7 43.5L492.8 47.8L492.9 47.8L493.0 43.5L493.1 43.5L493.2 43.5L493.3 47.8L493.4 43.5L493.5 47.8L493.6 43.5L493.7 47.8L493.8 43.5L493.9 43.5L494.0 47.8L494.1 43.5L494.2 43.5L494.3 43.5L494.4 43.5L494.5 43.5L494.6 43.5L494.7 43.5L494.8 43.5L494.8 47.8L494.9 43.5L495.0 43.5L495.1 43.5L495.2 43.5L495.3 43.5L495.4 43.5L495.5 43.5L495.6 43.5L495.7 43.5L495.8 43.5L495.9 43.5L496.0 47.8L496.1 43.5L496.2 43.5L496.3 47.8L496.4 43.5L496.5 47.8L496.6 43.5L496.7 43.5L496.8 43.5L496.9 43.5L497.0 43.5L497.1 43.5L497.2 43.5L497.3 47.8L497.4 47.8L497.5 43.5L497.6 43.5L497.7 43.5L497.8 43.5L497.9 47.8L498.0 43.5L498.1 43.5L498.2 43.5L498.3 43.5L498.4 43.5L498.5 43.5L498.6 43.5L498.7 43.5L498.8 43.5L498.9 43.5L499.0 43.5L499.1 43.5L499.2 43.5L499.3 43.5L499.4 43.5L499.5 43.5L499.6 43.5L499.7 43.5L499.8 43.5L499.9 43.5L500.0 43.5L500.1 43.5L500.2 47.8L500.3 43.5L500.4 47.8L500.5 43.5L500.6 47.8L500.7 43.5L500.8 47.8L500.9 43.5L501.0 43.5L501.1 47.8L501.2 47.8L501.3 47.8L501.4 47.8L501.5 43.5L501.6 47.8L501.7 43.5L501.8 43.5L501.9 47.8L502.0 43.5L502.1 43.5L502.2 43.5L502.3 43.5L502.4 43.5L502.5 43.5L502.6 43.5L502.7 43.5L502.8 43.5L502.9 43.5L503.0 43.5L503.1 43.5L503.2 43.5L503.3 43.5L503.4 43.5L503.5 43.5L503.6 43.5L503.7 43.5L503.8 43.5L503.9 43.5L504.0 43.5L504.1 43.5L504.2 43.5L504.3 43.5L504.4 43.5L504.5 43.5L504.6 43.5L504.7 43.5L504.8 43.5L504.9 43.5L505.0 43.5L505.1 43.5L505.2 43.5L505.3 43.5L505.4 43.5L505.5 43.5L505.6 43.5L505.7 43.5L505.8 43.5L505.9 43.5L506.0 43.5L506.1 43.5L506.2 43.5L506.3 43.5L506.4 43.5L506.5 43.5L506.6 43.5L506.7 43.5L506.8 43.5L506.9 43.5L507.0 43.5L507.1 43.5L507.2 43.5L507.3 43.5L507.4 43.5L507.5 43.5L507.6 43.5L507.7 43.5L507.8 43.5L507.9 43.5L508.0 43.5L508.1 43.5L508.2 43.5L508.3 43.5L508.4 43.5L508.5 43.5L508.6 43.5L508.7 43.5L508.8 43.5L508.9 47.8L509.0 43.5L509.1 47.8L509.2 43.5L509.3 47.8L509.4 43.5L509.5 43.5L509.6 47.8L509.7 43.5L509.8 43.5L509.9 43.5L510.0 43.5L510.1 43.5L510.1 43.5L510.2 47.8L510.3 43.5L510.4 43.5L510.5 47.8L510.6 47.8L510.7 43.5L510.8 43.5L510.9 43.5L511.0 43.5L511.1 47.8L511.2 47.8L511.3 43.5L511.4 43.5L511.5 47.8L511.6 47.8L511.7 43.5L511.8 43.5L511.9 43.5L512.0 43.5L512.1 43.5L512.2 43.5L512.3 47.8L512.4 52.1L512.5 43.5L512.6 43.5L512.7 43.5L512.8 43.5L512.9 43.5L513.0 43.5L513.1 43.5L513.2 43.5L513.3 43.5L513.4 43.5L513.5 43.5L513.6 43.5L513.7 43.5L513.8 47.8L513.9 56.4L514.0 43.5L514.1 47.8L514.2 43.5L514.3 43.5L514.4 47.8L514.5 43.5L514.6 43.5L514.7 47.8L514.8 43.5L514.9 43.5L515.0 43.5L515.1 43.5L515.2 47.8L515.3 43.5L515.4 47.8L515.5 47.8L515.6 43.5L515.7 43.5L515.8 43.5L515.9 43.5L516.0 43.5L516.1 43.5L516.2 43.5L516.3 43.5L516.4 43.5L516.5 43.5L516.6 43.5L516.7 43.5L516.8 47.8L516.9 43.5L517.0 47.8L517.1 43.5L517.2 43.5L517.3 47.8L517.4 47.8L517.5 47.8L517.6 43.5L517.7 43.5L517.8 47.8L517.9 43.5L518.0 43.5L518.1 43.5L518.2 43.5L518.3 43.5L518.4 43.5L518.5 47.8L518.6 47.8L518.7 43.5L518.8 43.5L518.9 43.5L519.0 47.8L519.1 43.5L519.2 43.5L519.3 47.8L519.4 43.5L519.5 43.5L519.6 43.5L519.7 43.5L519.8 47.8L519.9 43.5L520.0 47.8L520.1 47.8L520.2 43.5L520.3 43.5L520.4 43.5L520.5 47.8L520.6 43.5L520.7 43.5L520.8 43.5L520.9 43.5L521.0 43.5L521.1 47.8L521.2 43.5L521.3 47.8L521.4 43.5L521.5 43.5L521.6 43.5L521.7 43.5L521.8 43.5L521.9 43.5L522.0 43.5L522.1 43.5L522.2 43.5L522.3 43.5L522.4 43.5L522.5 43.5L522.6 43.5L522.7 43.5L522.8 43.5L522.9 43.5L523.0 43.5L523.1 43.5L523.2 43.5L523.3 43.5L523.4 43.5L523.5 43.5L523.6 43.5L523.7 43.5L523.8 43.5L523.9 43.5L524.0 43.5L524.1 43.5L524.2 43.5L524.3 43.5L524.4 43.5L524.5 43.5L524.6 43.5L524.7 43.5L524.8 43.5L524.9 43.5L525.0 43.5L525.1 43.5L525.2 43.5L525.3 43.5L525.4 43.5L525.4 43.5L525.5 43.5L525.6 43.5L525.7 43.5L525.8 43.5L525.9 43.5L526.0 43.5L526.1 43.5L526.2 43.5L526.3 43.5L526.4 43.5L526.5 43.5L526.6 43.5L526.7 43.5L526.8 47.8L526.9 43.5L527.0 47.8L527.1 43.5L527.2 43.5L527.3 43.5L527.4 47.8L527.5 43.5L527.6 43.5L527.7 43.5L527.8 47.8L527.9 43.5L528.0 43.5L528.1 43.5L528.2 43.5L528.3 43.5L528.4 47.8L528.5 43.5L528.6 47.8L528.7 43.5L528.8 43.5L528.9 43.5L529.0 43.5L529.1 43.5L529.2 43.5L529.3 43.5L529.4 43.5L529.5 43.5L529.6 43.5L529.7 43.5L529.8 43.5L529.9 43.5L530.0 43.5L530.1 43.5L530.2 43.5L530.3 43.5L530.4 43.5L530.5 43.5L530.6 43.5L530.7 43.5L530.8 43.5L530.9 43.5L531.0 43.5L531.1 43.5L531.2 43.5L531.3 43.5L531.4 43.5L531.5 43.5L531.6 43.5L531.7 43.5L531.8 43.5L531.9 43.5L532.0 43.5L532.1 43.5L532.2 43.5L532.3 43.5L532.4 43.5L532.5 43.5L532.6 43.5L532.7 43.5L532.8 43.5L532.9 43.5L533.0 43.5L533.1 47.8L533.2 43.5L533.3 43.5L533.4 43.5L533.5 43.5L533.6 43.5L533.7 43.5L533.8 47.8L533.9 43.5L534.0 43.5L534.1 47.8L534.2 47.8L534.3 43.5L534.4 43.5L534.5 43.5L534.6 43.5L534.7 43.5L534.8 47.8L534.9 47.8L535.0 43.5L535.1 43.5L535.2 43.5L535.3 47.8L535.4 43.5L535.5 43.5L535.6 47.8L535.7 43.5L535.8 43.5L535.9 47.8L536.0 43.5L536.1 43.5L536.2 43.5L536.3 43.5L536.4 43.5L536.5 43.5L536.6 43.5L536.7 43.5L536.8 43.5L536.9 43.5L537.0 43.5L537.1 43.5L537.2 43.5L537.3 43.5L537.4 43.5L537.5 43.5L537.6 43.5L537.7 43.5L537.8 43.5L537.9 43.5L538.0 43.5L538.1 43.5L538.2 43.5L538.3 43.5L538.4 43.5L538.5 43.5L538.6 43.5L538.7 43.5L538.8 43.5L538.9 43.5L539.0 43.5L539.1 43.5L539.2 43.5L539.3 43.5L539.4 43.5L539.5 43.5L539.6 43.5L539.7 43.5L539.8 43.5L539.9 43.5L540.0 43.5L540.1 43.5L540.2 43.5L540.3 43.5L540.4 43.5L540.5 43.5L540.6 43.5L540.7 43.5L540.7 43.5L540.8 43.5L540.9 43.5L541.0 43.5L541.1 43.5L541.2 43.5L541.3 43.5L541.4 43.5L541.5 43.5L541.6 43.5L541.7 47.8L541.8 43.5L541.9 47.8L542.0 43.5L542.1 47.8L542.2 43.5L542.3 43.5L542.4 43.5L542.5 43.5L542.6 47.8L542.7 43.5L542.8 43.5L542.9 43.5L543.0 47.8L543.1 47.8L543.2 43.5L543.3 47.8L543.4 47.8L543.5 47.8L543.6 43.5L543.7 43.5L543.8 43.5L543.9 43.5L544.0 43.5L544.1 43.5L544.2 43.5L544.3 43.5L544.4 43.5L544.5 43.5L544.6 43.5L544.7 43.5L544.8 43.5L544.9 43.5L545.0 43.5L545.1 43.5L545.2 43.5L545.3 43.5L545.4 43.5L545.5 43.5L545.6 43.5L545.7 43.5L545.8 43.5L545.9 43.5L546.0 43.5L546.1 43.5L546.2 43.5L546.3 43.5L546.4 43.5L546.5 43.5L546.6 43.5L546.7 43.5L546.8 43.5L546.9 43.5L547.0 43.5L547.1 43.5L547.2 43.5L547.3 43.5L547.4 43.5L547.5 43.5L547.6 43.5L547.7 43.5L547.8 43.5L547.9 43.5L548.0 43.5L548.1 43.5L548.2 43.5L548.3 43.5L548.4 43.5L548.5 43.5L548.6 43.5L548.7 43.5L548.8 43.5L548.9 43.5L549.0 43.5L549.1 43.5L549.2 43.5L549.3 43.5L549.4 43.5L549.5 43.5L549.6 43.5L549.7 43.5L549.8 43.5L549.9 43.5L550.0 43.5L550.1 43.5L550.2 43.5L550.3 43.5L550.4 43.5L550.5 47.8L550.6 43.5L550.7 43.5L550.8 43.5L550.9 43.5L551.0 43.5L551.1 43.5L551.2 43.5L551.3 43.5L551.4 43.5L551.5 43.5L551.6 43.5L551.7 43.5L551.8 43.5L551.9 43.5L552.0 43.5L552.1 43.5L552.2 43.5L552.3 43.5L552.4 43.5L552.5 43.5L552.6 43.5L552.7 43.5L552.8 43.5L552.9 43.5L553.0 43.5L553.1 43.5L553.2 43.5L553.3 43.5L553.4 43.5L553.5 43.5L553.6 43.5L553.7 47.8L553.8 43.5L553.9 43.5L554.0 47.8L554.1 43.5L554.2 47.8L554.3 43.5L554.4 47.8L554.5 43.5L554.6 47.8L554.7 43.5L554.8 47.8L554.9 47.8L555.0 47.8L555.1 43.5L555.2 47.8L555.3 43.5L555.4 43.5L555.5 47.8L555.6 47.8L555.7 47.8L555.8 43.5L555.9 47.8L555.9 43.5L556.0 43.5L556.1 47.8L556.2 43.5L556.3 43.5L556.4 47.8L556.5 43.5L556.6 43.5L556.7 43.5L556.8 43.5L556.9 43.5L557.0 43.5L557.1 43.5L557.2 43.5L557.3 43.5L557.4 43.5L557.5 47.8L557.6 43.5L557.7 43.5L557.8 43.5L557.9 43.5L558.0 43.5L558.1 43.5L558.2 43.5L558.3 43.5L558.4 43.5L558.5 43.5L558.6 43.5L558.7 43.5L558.8 43.5L558.9 43.5L559.0 43.5L559.1 43.5L559.2 43.5L559.3 43.5L559.4 43.5L559.5 43.5L559.6 43.5L559.7 43.5L559.8 43.5L559.9 43.5L560.0 43.5L560.1 43.5L560.2 43.5L560.3 43.5L560.4 43.5L560.5 43.5L560.6 43.5L560.7 43.5L560.8 43.5L560.9 43.5L561.0 43.5L561.1 43.5L561.2 43.5L561.3 43.5L561.4 43.5L561.5 43.5L561.6 43.5L561.7 43.5L561.8 43.5L561.9 43.5L562.0 43.5L562.1 43.5L562.2 43.5L562.3 43.5L562.4 43.5L562.5 43.5L562.6 43.5L562.7 43.5L562.8 43.5L562.9 43.5L563.0 43.5L563.1 43.5L563.2 43.5L563.3 43.5L563.4 43.5L563.5 43.5L563.6 43.5L563.7 43.5L563.8 43.5L563.9 43.5L564.0 43.5L564.1 43.5L564.2 43.5L564.3 47.8L564.4 47.8L564.5 43.5L564.6 43.5L564.7 47.8L564.8 43.5L564.9 43.5L565.0 43.5L565.1 43.5L565.2 43.5L565.3 47.8L565.4 43.5L565.5 43.5L565.6 43.5L565.7 43.5L565.8 47.8L565.9 47.8L566.0 47.8L566.1 43.5L566.2 43.5L566.3 43.5L566.4 43.5L566.5 43.5L566.6 43.5L566.7 43.5L566.8 43.5L566.9 43.5L567.0 43.5L567.1 43.5L567.2 43.5L567.3 43.5L567.4 43.5L567.5 43.5L567.6 43.5L567.7 43.5L567.8 43.5L567.9 43.5L568.0 43.5L568.1 43.5L568.2 43.5L568.3 43.5L568.4 43.5L568.5 43.5L568.6 43.5L568.7 43.5L568.8 43.5L568.9 43.5L569.0 43.5L569.1 43.5L569.2 43.5L569.3 43.5L569.4 43.5L569.5 43.5L569.6 43.5L569.7 43.5L569.8 43.5L569.9 43.5L570.0 43.5L570.1 43.5L570.2 43.5L570.3 43.5L570.4 43.5L570.5 43.5L570.6 43.5L570.7 43.5L570.8 43.5L570.9 43.5L571.0 43.5L571.1 43.5L571.2 43.5L571.2 43.5L571.3 43.5L571.4 43.5L571.5 43.5L571.6 43.5L571.7 43.5L571.8 43.5L571.9 43.5L572.0 43.5L572.1 43.5L572.2 43.5L572.3 43.5L572.4 43.5L572.5 43.5L572.6 43.5L572.7 43.5L572.8 43.5L572.9 43.5L573.0 43.5L573.1 43.5L573.2 43.5L573.3 43.5L573.4 43.5L573.5 43.5L573.6 43.5L573.7 43.5L573.8 43.5L573.9 47.8L574.0 47.8L574.1 43.5L574.2 43.5L574.3 43.5L574.4 47.8L574.5 47.8L574.6 43.5L574.7 43.5L574.8 43.5L574.9 43.5L575.0 43.5L575.1 43.5L575.2 47.8L575.3 43.5L575.4 47.8L575.5 43.5L575.6 43.5L575.7 47.8L575.8 43.5L575.9 43.5L576.0 47.8L576.1 43.5L576.2 43.5L576.3 43.5L576.4 43.5L576.5 47.8L576.6 43.5L576.7 43.5L576.8 43.5L576.9 43.5L577.0 43.5L577.1 47.8L577.2 43.5L577.3 43.5L577.4 43.5L577.5 43.5L577.6 43.5L577.7 43.5L577.8 43.5L577.9 43.5L578.0 43.5L578.1 43.5L578.2 43.5L578.3 43.5L578.4 43.5L578.5 43.5L578.6 43.5L578.7 43.5L578.8 43.5L578.9 43.5L579.0 43.5L579.1 43.5L579.2 43.5L579.3 43.5L579.4 43.5L579.5 43.5L579.6 43.5L579.7 43.5L579.8 43.5L579.9 43.5L580.0 43.5L580.1 43.5L580.2 43.5L580.3 43.5L580.4 43.5L580.5 43.5L580.6 43.5L580.7 43.5L580.8 43.5L580.9 43.5L581.0 43.5L581.1 43.5L581.2 43.5L581.3 43.5L581.4 43.5L581.5 43.5L581.6 43.5L581.7 43.5L581.8 43.5L581.9 43.5L582.0 43.5L582.1 43.5L582.2 43.5L582.3 43.5L582.4 43.5L582.5 43.5L582.6 43.5L582.7 43.5L582.8 43.5L582.9 43.5L583.0 43.5L583.1 43.5L583.2 43.5L583.3 43.5L583.4 43.5L583.5 43.5L583.6 43.5L583.7 43.5L583.8 43.5L583.9 43.5L584.0 43.5L584.1 43.5L584.2 43.5L584.3 43.5L584.4 43.5L584.5 43.5L584.6 43.5L584.7 43.5L584.8 43.5L584.9 43.5L585.0 43.5L585.1 43.5L585.2 43.5L585.3 43.5L585.4 43.5L585.5 43.5L585.6 43.5L585.7 43.5L585.8 43.5L585.9 43.5L586.0 43.5L586.1 43.5L586.2 43.5L586.3 43.5L586.4 43.5L586.5 43.5L586.5 43.5L586.6 43.5L586.7 43.5L586.8 43.5L586.9 43.5L587.0 43.5L587.1 43.5L587.2 43.5L587.3 47.8L587.4 43.5L587.5 43.5L587.6 43.5L587.7 43.5L587.8 43.5L587.9 43.5L588.0 47.8L588.1 43.5L588.2 43.5L588.3 47.8L588.4 47.8L588.5 47.8L588.6 47.8L588.7 43.5L588.8 43.5L588.9 43.5L589.0 43.5L589.1 43.5L589.2 43.5L589.3 47.8L589.4 47.8L589.5 43.5L589.6 47.8L589.7 43.5L589.8 47.8L589.9 43.5L590.0 47.8L590.1 47.8L590.2 43.5L590.3 43.5L590.4 43.5L590.5 43.5L590.6 43.5L590.7 43.5L590.8 43.5L590.9 43.5L591.0 43.5L591.1 43.5L591.2 43.5L591.3 43.5L591.4 43.5L591.5 43.5L591.6 43.5L591.7 43.5L591.8 43.5L591.9 43.5L592.0 43.5L592.1 43.5L592.2 43.5L592.3 43.5L592.4 43.5L592.5 43.5L592.6 47.8L592.7 47.8L592.8 43.5L592.9 43.5L593.0 43.5L593.1 47.8L593.2 47.8L593.3 43.5L593.4 43.5L593.5 43.5L593.6 43.5L593.7 43.5L593.8 43.5L593.9 43.5L594.0 43.5L594.1 43.5L594.2 43.5L594.3 43.5L594.4 47.8L594.5 43.5L594.6 43.5L594.7 47.8L594.8 47.8L594.9 47.8L595.0 43.5L595.1 47.8L595.2 43.5L595.3 43.5L595.4 43.5L595.5 43.5L595.6 43.5L595.7 43.5L595.8 43.5L595.9 43.5L596.0 43.5L596.1 43.5L596.2 43.5L596.3 43.5L596.4 43.5L596.5 43.5L596.6 43.5L596.7 43.5L596.8 43.5L596.9 43.5L597.0 43.5L597.1 43.5L597.2 43.5L597.3 43.5L597.4 43.5L597.5 43.5L597.6 43.5L597.7 43.5L597.8 43.5L597.9 43.5L598.0 43.5L598.1 43.5L598.2 43.5L598.3 43.5L598.4 43.5L598.5 43.5L598.6 43.5L598.7 43.5L598.8 43.5L598.9 43.5L599.0 43.5L599.1 47.8L599.2 43.5L599.3 43.5L599.4 47.8L599.5 43.5L599.6 43.5L599.7 43.5L599.8 47.8L599.9 43.5L600.0 43.5L600.1 47.8L600.2 43.5L600.3 47.8L600.4 43.5L600.5 47.8L600.6 43.5L600.7 47.8L600.8 43.5L600.9 43.5L601.0 47.8L601.1 43.5L601.2 43.5L601.3 43.5L601.4 47.8L601.5 43.5L601.6 47.8L601.7 47.8L601.8 43.5L601.8 43.5L601.9 43.5L602.0 43.5L602.1 47.8L602.2 47.8L602.3 43.5L602.4 43.5L602.5 47.8L602.6 43.5L602.7 43.5L602.8 47.8L602.9 43.5L603.0 43.5L603.1 43.5L603.2 43.5L603.3 43.5L603.4 43.5L603.5 43.5L603.6 43.5L603.7 43.5L603.8 43.5L603.9 43.5L604.0 43.5L604.1 43.5L604.2 43.5L604.3 43.5L604.4 43.5L604.5 43.5L604.6 43.5L604.7 43.5L604.8 43.5L604.9 43.5L605.0 43.5L605.1 43.5L605.2 43.5L605.3 43.5L605.4 43.5L605.5 43.5L605.6 43.5L605.7 43.5L605.8 43.5L605.9 43.5L606.0 43.5L606.1 43.5L606.2 43.5L606.3 43.5L606.4 43.5L606.5 43.5L606.6 43.5L606.7 43.5L606.8 43.5L606.9 43.5L607.0 43.5L607.1 43.5L607.2 43.5L607.3 43.5L607.4 43.5L607.5 43.5L607.6 43.5L607.7 43.5L607.8 43.5L607.9 43.5L608.0 43.5L608.1 43.5L608.2 43.5L608.3 43.5L608.4 43.5L608.5 43.5L608.6 43.5L608.7 43.5L608.8 43.5L608.9 43.5L609.0 43.5L609.1 43.5L609.2 43.5L609.3 43.5L609.4 43.5L609.5 43.5L609.6 43.5L609.7 43.5L609.8 43.5L609.9 43.5L610.0 43.5L610.1 43.5L610.2 43.5L610.3 43.5L610.4 43.5L610.5 43.5L610.6 43.5L610.7 43.5L610.8 43.5L610.9 43.5L611.0 43.5L611.1 43.5L611.2 43.5L611.3 43.5L611.4 43.5L611.5 43.5L611.6 43.5L611.7 43.5L611.8 43.5L611.9 43.5L612.0 43.5L612.1 43.5L612.2 43.5L612.3 43.5L612.4 43.5L612.5 43.5L612.6 43.5L612.7 43.5L612.8 43.5L612.9 43.5L613.0 43.5L613.1 43.5L613.2 43.5L613.3 43.5L613.4 43.5L613.5 43.5L613.6 43.5L613.7 43.5L613.8 43.5L613.9 43.5L614.0 43.5L614.1 43.5L614.2 43.5L614.3 43.5L614.4 43.5L614.5 43.5L614.6 43.5L614.7 43.5L614.8 43.5L614.9 43.5L615.0 43.5L615.1 43.5L615.2 43.5L615.3 47.8L615.4 43.5L615.5 43.5L615.6 47.8L615.7 43.5L615.8 43.5L615.9 43.5L616.0 43.5L616.1 43.5L616.2 43.5L616.3 43.5L616.4 43.5L616.5 47.8L616.6 43.5L616.7 43.5L616.8 43.5L616.9 43.5L617.0 47.8L617.1 43.5L617.1 43.5L617.2 43.5L617.3 43.5L617.4 47.8L617.5 43.5L617.6 43.5L617.7 43.5L617.8 43.5L617.9 43.5L618.0 47.8L618.1 43.5L618.2 47.8L618.3 43.5L618.4 47.8L618.5 43.5L618.6 43.5L618.7 43.5L618.8 47.8L618.9 43.5L619.0 43.5L619.1 43.5L619.2 43.5L619.3 43.5L619.4 43.5L619.5 43.5L619.6 43.5L619.7 43.5L619.8 43.5L619.9 43.5L620.0 43.5L620.1 43.5L620.2 43.5L620.3 43.5L620.4 43.5L620.5 43.5L620.6 43.5L620.7 43.5L620.8 43.5L620.9 43.5L621.0 43.5L621.1 43.5L621.2 43.5L621.3 43.5L621.4 43.5L621.5 43.5L621.6 43.5L621.7 43.5L621.8 43.5L621.9 43.5L622.0 43.5L622.1 43.5L622.2 43.5L622.3 43.5L622.4 43.5L622.5 43.5L622.6 43.5L622.7 43.5L622.8 43.5L622.9 43.5L623.0 43.5L623.1 43.5L623.2 43.5L623.3 43.5L623.4 43.5L623.5 43.5L623.6 43.5L623.7 43.5L623.8 47.8L623.9 43.5L624.0 43.5L624.1 47.8L624.2 47.8L624.3 43.5L624.4 47.8L624.5 43.5L624.6 43.5L624.7 43.5L624.8 43.5L624.9 43.5L625.0 47.8L625.1 43.5L625.2 43.5L625.3 43.5L625.4 47.8L625.5 47.8L625.6 43.5L625.7 47.8L625.8 43.5L625.9 43.5L626.0 47.8L626.1 47.8L626.2 43.5L626.3 47.8L626.4 43.5L626.5 47.8L626.6 43.5L626.7 43.5L626.8 43.5L626.9 47.8L627.0 47.8L627.1 43.5L627.2 43.5L627.3 43.5L627.4 43.5L627.5 43.5L627.6 43.5L627.7 43.5L627.8 43.5L627.9 43.5L628.0 43.5L628.1 43.5L628.2 43.5L628.3 43.5L628.4 43.5L628.5 43.5L628.6 43.5L628.7 43.5L628.8 43.5L628.9 43.5L629.0 43.5L629.1 43.5L629.2 43.5L629.3 43.5L629.4 43.5L629.5 43.5L629.6 43.5L629.7 43.5L629.8 43.5L629.9 43.5L630.0 43.5L630.1 43.5L630.2 43.5L630.3 43.5L630.4 43.5L630.5 43.5L630.6 43.5L630.7 43.5L630.8 43.5L630.9 43.5L631.0 43.5L631.1 43.5L631.2 43.5L631.3 43.5L631.4 43.5L631.5 43.5L631.6 43.5L631.7 43.5L631.8 43.5L631.9 43.5L632.0 43.5L632.1 43.5L632.2 43.5L632.3 43.5L632.4 43.5L632.4 43.5L632.5 43.5L632.6 43.5L632.7 43.5L632.8 43.5L632.9 43.5L633.0 43.5L633.1 43.5L633.2 43.5L633.3 43.5L633.4 43.5L633.5 43.5L633.6 43.5L633.7 43.5L633.8 43.5L633.9 43.5L634.0 43.5L634.1 43.5L634.2 43.5L634.3 43.5L634.4 43.5L634.5 43.5L634.6 43.5L634.7 43.5L634.8 43.5L634.9 43.5L635.0 43.5L635.1 43.5L635.2 43.5L635.3 43.5L635.4 43.5L635.5 43.5L635.6 43.5L635.7 43.5L635.8 43.5L635.9 43.5L636.0 43.5L636.1 43.5L636.2 43.5L636.3 43.5L636.4 43.5L636.5 43.5L636.6 43.5L636.7 43.5L636.8 43.5L636.9 43.5L637.0 43.5L637.1 43.5L637.2 43.5L637.3 43.5L637.4 43.5L637.5 43.5L637.6 47.8L637.7 43.5L637.8 43.5L637.9 43.5L638.0 43.5L638.1 43.5L638.2 43.5L638.3 43.5L638.4 43.5L638.5 43.5L638.6 43.5L638.7 43.5L638.8 43.5L638.9 43.5L639.0 43.5L639.1 43.5L639.2 43.5L639.3 43.5L639.4 47.8L639.5 43.5L639.6 43.5L639.7 43.5L639.8 47.8L639.9 47.8L640.0 47.8L640.1 43.5L640.2 43.5L640.3 43.5L640.4 43.5L640.5 52.1L640.6 43.5L640.7 43.5L640.8 43.5L640.9 43.5L641.0 43.5L641.1 56.4L641.2 43.5L641.3 47.8L641.4 43.5L641.5 43.5L641.6 43.5L641.7 43.5L641.8 43.5L641.9 43.5L642.0 43.5L642.1 43.5L642.2 43.5L642.3 43.5L642.4 47.8L642.5 43.5L642.6 43.5L642.7 47.8L642.8 43.5L642.9 47.8L643.0 47.8L643.1 43.5L643.2 43.5L643.3 47.8L643.4 43.5L643.5 47.8L643.6 43.5L643.7 43.5L643.8 47.8L643.9 43.5L644.0 43.5L644.1 47.8L644.2 43.5L644.3 47.8L644.4 43.5L644.5 43.5L644.6 47.8L644.7 43.5L644.8 47.8L644.9 43.5L645.0 43.5L645.1 43.5L645.2 47.8L645.3 43.5L645.4 43.5L645.5 43.5L645.6 47.8L645.7 47.8L645.8 43.5L645.9 47.8L646.0 43.5L646.1 43.5L646.2 43.5L646.3 47.8L646.4 43.5L646.5 43.5L646.6 43.5L646.7 43.5L646.8 47.8L646.9 47.8L647.0 47.8L647.1 43.5L647.2 47.8L647.3 43.5L647.4 47.8L647.5 47.8L647.6 43.5L647.6 47.8L647.7 47.8L647.8 43.5L647.9 43.5L648.0 47.8L648.1 43.5L648.2 47.8L648.3 47.8L648.4 43.5L648.5 43.5L648.6 47.8L648.7 43.5L648.8 43.5L648.9 43.5L649.0 43.5L649.1 43.5L649.2 47.8L649.3 47.8L649.4 47.8L649.5 43.5L649.6 43.5L649.7 43.5L649.8 43.5L649.9 47.8L650.0 43.5L650.1 43.5L650.2 47.8L650.3 43.5L650.4 43.5L650.5 43.5L650.6 43.5L650.7 47.8L650.8 47.8L650.9 47.8L651.0 43.5L651.1 43.5L651.2 43.5L651.3 43.5L651.4 43.5L651.5 43.5L651.6 43.5L651.7 52.1L651.8 43.5L651.9 43.5L652.0 43.5L652.1 43.5L652.2 43.5L652.3 43.5L652.4 43.5L652.5 43.5L652.6 43.5L652.7 43.5L652.8 43.5L652.9 43.5L653.0 43.5L653.1 43.5L653.2 43.5L653.3 43.5L653.4 43.5L653.5 43.5L653.6 43.5L653.7 43.5L653.8 43.5L653.9 43.5L654.0 43.5L654.1 43.5L654.2 43.5L654.3 47.8L654.4 43.5L654.5 47.8L654.6 47.8L654.7 43.5L654.8 47.8L654.9 43.5L655.0 47.8L655.1 47.8L655.2 43.5L655.3 47.8L655.4 43.5L655.5 43.5L655.6 43.5L655.7 43.5L655.8 43.5L655.9 43.5L656.0 43.5L656.1 43.5L656.2 43.5L656.3 43.5L656.4 43.5L656.5 43.5L656.6 47.8L656.7 43.5L656.8 47.8L656.9 43.5L657.0 47.8L657.1 43.5L657.2 43.5L657.3 43.5L657.4 43.5L657.5 43.5L657.6 43.5L657.7 43.5L657.8 43.5L657.9 43.5L658.0 43.5L658.1 43.5L658.2 43.5L658.3 43.5L658.4 43.5L658.5 43.5L658.6 43.5L658.7 43.5L658.8 43.5L658.9 43.5L659.0 43.5L659.1 43.5L659.2 43.5L659.3 43.5L659.4 43.5L659.5 43.5L659.6 43.5L659.7 43.5L659.8 43.5L659.9 43.5L660.0 43.5L660.1 43.5L660.2 43.5L660.3 43.5L660.4 43.5L660.5 43.5L660.6 43.5L660.7 43.5L660.8 43.5L660.9 43.5L661.0 43.5L661.1 43.5L661.2 43.5L661.3 43.5L661.4 43.5L661.5 43.5L661.6 43.5L661.7 43.5L661.8 43.5L661.9 43.5L662.0 43.5L662.1 43.5L662.2 43.5L662.3 43.5L662.4 43.5L662.5 43.5L662.6 43.5L662.7 43.5L662.8 43.5L662.9 43.5L662.9 43.5L663.0 43.5L663.1 43.5L663.2 43.5L663.3 43.5L663.4 43.5L663.5 43.5L663.6 43.5L663.7 43.5L663.8 43.5L663.9 43.5L664.0 43.5L664.1 43.5L664.2 43.5L664.3 43.5L664.4 43.5L664.5 43.5L664.6 43.5L664.7 43.5L664.8 43.5L664.9 43.5L665.0 43.5L665.1 43.5L665.2 43.5L665.3 43.5L665.4 47.8L665.5 43.5L665.6 43.5L665.7 43.5L665.8 43.5L665.9 43.5L666.0 43.5L666.1 43.5L666.2 43.5L666.3 47.8L666.4 43.5L666.5 43.5L666.6 43.5L666.7 43.5L666.8 43.5L666.9 43.5L667.0 43.5L667.1 43.5L667.2 43.5L667.3 43.5L667.4 43.5L667.5 47.8L667.6 47.8L667.7 47.8L667.8 43.5L667.9 43.5L668.0 43.5L668.1 43.5L668.2 43.5L668.3 47.8L668.4 43.5L668.5 43.5L668.6 43.5L668.7 43.5L668.8 43.5L668.9 47.8L669.0 43.5L669.1 47.8L669.2 43.5L669.3 47.8L669.4 43.5L669.5 43.5L669.6 47.8L669.7 43.5L669.8 43.5L669.9 43.5L670.0 47.8L670.1 47.8L670.2 43.5L670.3 43.5L670.4 43.5L670.5 43.5L670.6 43.5L670.7 43.5L670.8 43.5L670.9 43.5L671.0 43.5L671.1 43.5L671.2 43.5L671.3 43.5L671.4 43.5L671.5 43.5L671.6 43.5L671.7 43.5L671.8 43.5L671.9 43.5L672.0 43.5L672.1 43.5L672.2 43.5L672.3 43.5L672.4 43.5L672.5 43.5L672.6 43.5L672.7 43.5L672.8 43.5L672.9 43.5L673.0 43.5L673.1 43.5L673.2 43.5L673.3 43.5L673.4 43.5L673.5 43.5L673.6 43.5L673.7 43.5L673.8 43.5L673.9 43.5L674.0 43.5L674.1 43.5L674.2 43.5L674.3 43.5L674.4 43.5L674.5 43.5L674.6 43.5L674.7 43.5L674.8 43.5L674.9 47.8L675.0 43.5L675.1 43.5L675.2 43.5L675.3 43.5L675.4 43.5L675.5 43.5L675.6 43.5L675.7 43.5L675.8 43.5L675.9 43.5L676.0 43.5L676.1 43.5L676.2 43.5L676.3 43.5L676.4 43.5L676.5 43.5L676.6 43.5L676.7 43.5L676.8 43.5L676.9 43.5L677.0 43.5L677.1 43.5L677.2 43.5L677.3 43.5L677.4 43.5L677.5 43.5" stroke="#0072bd" stroke-width="1.5" fill="none" stroke-linejoin="round"/>
<path d="M51.6 177.4L61.5 77.0L71.4 104.2L81.4 59.4L91.3 51.5L101.2 51.1L111.2 50.8L121.1 51.4L131.0 53.8L141.0 52.7L150.9 55.0L160.8 49.4L170.8 51.0L180.7 47.4L190.6 47.2L200.6 48.5L210.5 48.2L220.4 48.4L230.4 48.2L240.3 48.2L250.2 48.6L260.2 49.4L270.1 47.5L280.1 48.5L290.0 48.5L299.9 47.9L309.9 48.3L319.8 48.0L329.7 48.3L339.7 48.1L349.6 48.6L359.5 48.1L369.5 48.0L379.4 48.2L389.3 48.1L399.3 48.1L409.2 48.6L419.1 48.0L429.1 48.2L439.0 48.4L448.9 48.6L458.9 48.0L468.8 48.3L478.8 48.1L488.7 47.9L498.6 48.1L508.6 47.9L518.5 48.3L528.4 48.0L538.4 48.3L548.3 47.9L558.2 47.9L568.2 49.0L578.1 48.6L588.0 48.5L598.0 47.9L607.9 48.3L617.8 49.2L627.8 48.4L637.7 48.3L647.6 48.4L657.6 48.4L667.5 48.2L677.5 48.5" stroke="#d95319" stroke-width="1.9" fill="none" stroke-linejoin="round"/>
</g>
<text x="51.4" y="198.9" class="tk" text-anchor="middle">0</text>
<text x="150.6" y="198.9" class="tk" text-anchor="middle">1000</text>
<text x="250.4" y="198.9" class="tk" text-anchor="middle">2000</text>
<text x="349.3" y="198.9" class="tk" text-anchor="middle">3000</text>
<text x="449.3" y="198.9" class="tk" text-anchor="middle">4000</text>
<text x="548.3" y="198.9" class="tk" text-anchor="middle">5000</text>
<text x="648.0" y="198.9" class="tk" text-anchor="middle">6000</text>
<text x="746.9" y="198.9" class="tk" text-anchor="middle">7000</text>
<text x="46.1" y="186.9" class="tk" text-anchor="end">0</text>
<text x="46.1" y="158.9" class="tk" text-anchor="end">20</text>
<text x="46.1" y="130.9" class="tk" text-anchor="end">40</text>
<text x="46.1" y="103.9" class="tk" text-anchor="end">60</text>
<text x="46.1" y="75.9" class="tk" text-anchor="end">80</text>
<text x="46.1" y="47.9" class="tk" text-anchor="end">100</text>
<text x="399" y="217.0" class="lb" text-anchor="middle">Iteration</text>
<text transform="translate(15.6 112.1) rotate(-90)" class="lb" text-anchor="middle">Accuracy</text>
<rect x="580.5" y="139.5" width="155.0" height="31.0" fill="#fff" stroke="#262626" stroke-width="1"/>
<path d="M584.0 148.0h40" stroke="#0072bd" stroke-width="2"/>
<path d="M584.0 162.0h40" stroke="#d95319" stroke-width="2"/>
<text x="627.2" y="151.8" class="lg">Training Accuracy</text>
<text x="627.2" y="165.8" class="lg">Validation Accuracy</text>
<circle cx="677.6" cy="43.5" r="4.45" fill="#0072bd"/>
<circle cx="677.6" cy="48.5" r="4.45" fill="#d95319"/>
<rect x="51.0" y="232.0" width="696.0" height="139.0" fill="#fff"/>
<path d="M51.5 232.0V371.0" stroke="rgba(38,38,38,0.15)" stroke-width="1" fill="none"/>
<path d="M150.5 232.0V371.0" stroke="rgba(38,38,38,0.15)" stroke-width="1" fill="none"/>
<path d="M249.5 232.0V371.0" stroke="rgba(38,38,38,0.15)" stroke-width="1" fill="none"/>
<path d="M349.5 232.0V371.0" stroke="rgba(38,38,38,0.15)" stroke-width="1" fill="none"/>
<path d="M448.5 232.0V371.0" stroke="rgba(38,38,38,0.15)" stroke-width="1" fill="none"/>
<path d="M547.5 232.0V371.0" stroke="rgba(38,38,38,0.15)" stroke-width="1" fill="none"/>
<path d="M647.5 232.0V371.0" stroke="rgba(38,38,38,0.15)" stroke-width="1" fill="none"/>
<path d="M746.5 232.0V371.0" stroke="rgba(38,38,38,0.15)" stroke-width="1" fill="none"/>
<path d="M51.0 370.5H747.0" stroke="rgba(38,38,38,0.15)" stroke-width="1" fill="none"/>
<path d="M51.0 343.5H747.0" stroke="rgba(38,38,38,0.15)" stroke-width="1" fill="none"/>
<path d="M51.0 315.5H747.0" stroke="rgba(38,38,38,0.15)" stroke-width="1" fill="none"/>
<path d="M51.0 287.5H747.0" stroke="rgba(38,38,38,0.15)" stroke-width="1" fill="none"/>
<path d="M51.0 259.5H747.0" stroke="rgba(38,38,38,0.15)" stroke-width="1" fill="none"/>
<path d="M51.0 232.5H747.0" stroke="rgba(38,38,38,0.15)" stroke-width="1" fill="none"/>
<path d="M51.5 232.0V370.5H747.0M51.5 370.5v-6.5M150.5 370.5v-6.5M249.5 370.5v-6.5M349.5 370.5v-6.5M448.5 370.5v-6.5M547.5 370.5v-6.5M647.5 370.5v-6.5M746.5 370.5v-6.5M51.5 370.5h6.5M51.5 343.5h6.5M51.5 315.5h6.5M51.5 287.5h6.5M51.5 259.5h6.5M51.5 232.5h6.5" stroke="#262626" stroke-width="1" fill="none"/>
<clipPath id="cp1"><rect x="50.5" y="231.9" width="697.0" height="140.6"/></clipPath>
<g clip-path="url(#cp1)">
<path d="M51.6 368.9L51.7 370.5L51.8 358.2L51.9 340.1L52.0 348.3L52.1 343.9L52.2 340.7L52.3 350.4L52.4 335.7L52.5 325.4L52.6 333.9L52.7 333.0L52.8 321.9L52.9 322.8L53.0 323.9L53.1 313.9L53.2 313.2L53.3 305.7L53.4 306.9L53.5 318.3L53.6 323.9L53.7 306.1L53.8 312.0L53.9 302.6L54.0 312.1L54.1 282.5L54.2 311.5L54.3 311.7L54.4 290.9L54.5 299.1L54.6 310.6L54.7 287.0L54.8 330.1L54.9 309.7L55.0 282.3L55.1 289.9L55.2 276.0L55.3 271.9L55.4 284.3L55.5 272.4L55.6 285.2L55.7 275.7L55.8 290.9L55.9 269.5L56.0 303.5L56.1 279.8L56.2 278.1L56.3 290.4L56.4 281.7L56.5 256.8L56.6 277.0L56.7 305.5L56.8 272.4L56.9 281.4L57.0 259.8L57.1 274.7L57.2 272.7L57.3 298.1L57.4 279.6L57.5 273.9L57.6 274.9L57.7 293.9L57.8 272.2L57.9 280.0L58.0 275.4L58.1 281.7L58.2 290.0L58.3 266.1L58.4 286.6L58.5 282.1L58.6 297.5L58.7 243.3L58.8 274.2L58.9 275.3L59.0 259.2L59.1 255.0L59.2 283.2L59.3 278.6L59.4 287.1L59.5 278.2L59.6 260.9L59.7 272.1L59.8 270.6L59.9 282.9L60.0 279.5L60.1 276.4L60.2 291.2L60.3 269.8L60.4 290.5L60.5 274.9L60.6 267.0L60.7 287.5L60.8 274.5L60.9 282.4L61.0 253.3L61.1 283.7L61.2 281.0L61.3 264.4L61.4 265.0L61.5 272.2L61.6 270.0L61.7 286.7L61.8 263.1L61.9 275.7L62.0 261.8L62.1 281.0L62.2 271.4L62.3 260.9L62.4 251.8L62.5 265.3L62.6 271.3L62.7 265.9L62.8 274.7L62.9 275.9L63.0 264.0L63.1 271.0L63.2 279.5L63.3 267.6L63.4 242.2L63.5 247.4L63.6 263.6L63.7 263.8L63.8 259.4L63.9 264.5L64.0 264.4L64.1 265.8L64.2 253.2L64.3 263.9L64.4 284.5L64.5 262.5L64.6 252.0L64.7 255.6L64.8 263.0L64.9 251.6L65.0 255.6L65.1 259.9L65.2 273.1L65.3 274.1L65.4 264.9L65.5 254.4L65.6 267.7L65.7 235.2L65.8 270.9L65.9 239.2L66.0 288.0L66.1 258.3L66.2 275.4L66.3 266.8L66.4 256.6L66.5 244.8L66.6 270.9L66.7 259.8L66.8 267.8L66.8 278.1L66.9 260.8L67.0 250.0L67.1 267.7L67.2 254.0L67.3 256.0L67.4 259.7L67.5 272.3L67.6 264.1L67.7 275.5L67.8 278.1L67.9 246.0L68.0 269.5L68.1 259.7L68.2 266.2L68.3 287.2L68.4 262.6L68.5 261.6L68.6 266.5L68.7 248.7L68.8 276.9L68.9 280.4L69.0 275.4L69.1 267.0L69.2 276.1L69.3 291.8L69.4 253.2L69.5 270.0L69.6 266.9L69.7 276.5L69.8 271.6L69.9 276.3L70.0 245.7L70.1 281.4L70.2 266.6L70.3 262.8L70.4 280.5L70.5 258.4L70.6 236.4L70.7 260.3L70.8 290.3L70.9 254.5L71.0 252.4L71.1 244.4L71.2 283.9L71.3 292.3L71.4 257.4L71.5 256.7L71.6 248.0L71.7 279.6L71.8 259.4L71.9 268.9L72.0 256.4L72.1 250.4L72.2 268.4L72.3 235.9L72.4 264.6L72.5 267.7L72.6 268.1L72.7 261.7L72.8 245.1L72.9 256.4L73.0 257.2L73.1 263.7L73.2 269.8L73.3 262.3L73.4 254.6L73.5 252.5L73.6 262.5L73.7 232.5L73.8 248.2L73.9 245.0L74.0 270.7L74.1 267.8L74.2 268.7L74.3 272.3L74.4 269.2L74.5 259.3L74.6 255.4L74.7 270.4L74.8 249.4L74.9 260.7L75.0 242.5L75.1 248.0L75.2 247.3L75.3 260.5L75.4 275.8L75.5 262.8L75.6 279.7L75.7 256.4L75.8 287.7L75.9 255.4L76.0 262.0L76.1 260.7L76.2 284.1L76.3 232.6L76.4 252.6L76.5 256.4L76.6 267.1L76.7 251.7L76.8 267.0L76.9 266.1L77.0 284.6L77.1 238.0L77.2 263.5L77.3 254.0L77.4 258.4L77.5 276.5L77.6 270.9L77.7 253.2L77.8 263.3L77.9 270.7L78.0 254.1L78.1 265.9L78.2 248.2L78.3 263.5L78.4 252.8L78.5 259.2L78.6 248.2L78.7 263.5L78.8 263.4L78.9 258.5L79.0 243.5L79.1 258.4L79.2 271.3L79.3 255.7L79.4 277.7L79.5 241.7L79.6 257.9L79.7 264.2L79.8 242.2L79.9 251.4L80.0 268.1L80.1 241.2L80.2 259.9L80.3 264.9L80.4 260.2L80.5 250.3L80.6 260.9L80.7 232.5L80.8 265.6L80.9 238.7L81.0 261.0L81.1 262.9L81.2 259.9L81.3 278.3L81.4 254.8L81.5 252.3L81.6 254.4L81.7 232.5L81.8 245.8L81.9 246.8L82.0 271.8L82.1 244.9L82.1 266.5L82.2 265.2L82.3 248.9L82.4 283.4L82.5 232.5L82.6 256.0L82.7 258.3L82.8 267.7L82.9 257.4L83.0 264.0L83.1 232.5L83.2 270.7L83.3 232.5L83.4 254.3L83.5 251.8L83.6 267.7L83.7 248.2L83.8 273.2L83.9 289.0L84.0 285.7L84.1 254.4L84.2 266.9L84.3 264.2L84.4 258.7L84.5 267.0L84.6 257.0L84.7 265.0L84.8 232.5L84.9 262.3L85.0 257.8L85.1 252.7L85.2 243.2L85.3 276.5L85.4 258.4L85.5 261.3L85.6 258.6L85.7 262.4L85.8 269.8L85.9 246.3L86.0 252.6L86.1 253.6L86.2 266.9L86.3 261.9L86.4 274.2L86.5 276.9L86.6 243.8L86.7 264.3L86.8 273.5L86.9 251.4L87.0 232.5L87.1 250.7L87.2 243.3L87.3 249.1L87.4 248.8L87.5 266.7L87.6 263.5L87.7 251.2L87.8 266.7L87.9 257.1L88.0 268.5L88.1 262.3L88.2 258.8L88.3 249.9L88.4 252.5L88.5 258.2L88.6 256.3L88.7 261.3L88.8 254.6L88.9 232.5L89.0 263.1L89.1 255.8L89.2 261.3L89.3 268.3L89.4 253.1L89.5 270.3L89.6 259.4L89.7 257.3L89.8 243.6L89.9 264.6L90.0 263.4L90.1 274.6L90.2 246.0L90.3 254.0L90.4 249.5L90.5 242.9L90.6 270.6L90.7 258.2L90.8 243.4L90.9 252.3L91.0 232.5L91.1 232.5L91.2 253.4L91.3 259.0L91.4 263.9L91.5 252.0L91.6 232.5L91.7 244.9L91.8 248.4L91.9 250.7L92.0 259.6L92.1 253.4L92.2 262.4L92.3 261.0L92.4 247.8L92.5 232.5L92.6 246.4L92.7 258.5L92.8 256.9L92.9 269.5L93.0 252.6L93.1 245.6L93.2 248.9L93.3 232.5L93.4 232.5L93.5 260.7L93.6 250.8L93.7 264.3L93.8 268.5L93.9 256.0L94.0 273.6L94.1 257.1L94.2 257.0L94.3 232.5L94.4 232.5L94.5 269.1L94.6 242.5L94.7 232.5L94.8 267.7L94.9 272.9L95.0 264.4L95.1 242.5L95.2 247.0L95.3 232.5L95.4 255.4L95.5 244.5L95.6 255.7L95.7 244.5L95.8 275.7L95.9 261.6L96.0 253.9L96.1 252.9L96.2 232.5L96.3 258.9L96.4 254.1L96.5 255.2L96.6 260.1L96.7 232.5L96.8 232.5L96.9 243.8L97.0 253.1L97.1 251.9L97.2 251.1L97.3 263.3L97.4 232.5L97.4 259.5L97.5 289.4L97.6 259.0L97.7 259.4L97.8 251.7L97.9 275.5L98.0 232.5L98.1 254.4L98.2 232.5L98.3 265.4L98.4 232.5L98.5 260.3L98.6 265.4L98.7 257.0L98.8 257.9L98.9 247.1L99.0 265.4L99.1 244.3L99.2 242.8L99.3 252.1L99.4 258.1L99.5 243.8L99.6 243.7L99.7 232.5L99.8 232.5L99.9 244.0L100.0 244.5L100.1 249.8L100.2 232.5L100.3 263.4L100.4 232.5L100.5 242.2L100.6 264.7L100.7 259.2L100.8 253.6L100.9 257.4L101.0 282.2L101.1 232.5L101.2 255.7L101.3 247.4L101.4 260.9L101.5 263.2L101.6 260.5L101.7 253.5L101.8 232.5L101.9 255.6L102.0 261.3L102.1 270.3L102.2 271.0L102.3 261.5L102.4 248.3L102.5 232.5L102.6 232.5L102.7 232.5L102.8 232.5L102.9 232.5L103.0 254.1L103.1 252.1L103.2 232.5L103.3 258.1L103.4 257.9L103.5 232.5L103.6 252.1L103.7 248.0L103.8 246.6L103.9 247.3L104.0 250.9L104.1 264.1L104.2 245.8L104.3 261.2L104.4 232.5L104.5 246.0L104.6 268.6L104.7 253.5L104.8 253.0L104.9 251.6L105.0 243.6L105.1 253.3L105.2 251.5L105.3 257.7L105.4 251.8L105.5 261.3L105.6 262.9L105.7 260.6L105.8 262.9L105.9 270.1L106.0 247.3L106.1 232.5L106.2 260.7L106.3 232.5L106.4 272.0L106.5 252.4L106.6 247.1L106.7 247.9L106.8 245.0L106.9 249.5L107.0 261.1L107.1 257.7L107.2 243.3L107.3 232.5L107.4 242.7L107.5 261.4L107.6 245.3L107.7 243.0L107.8 257.9L107.9 251.5L108.0 249.3L108.1 232.5L108.2 232.5L108.3 272.9L108.4 232.5L108.5 244.7L108.6 267.0L108.7 264.0L108.8 253.2L108.9 251.3L109.0 252.7L109.1 258.2L109.2 249.9L109.3 251.5L109.4 232.5L109.5 260.9L109.6 263.8L109.7 255.0L109.8 232.5L109.9 246.2L110.0 250.5L110.1 244.4L110.2 268.6L110.3 266.5L110.4 253.3L110.5 263.2L110.6 232.5L110.7 269.6L110.8 232.5L110.9 259.6L111.0 232.5L111.1 253.9L111.2 259.1L111.3 232.5L111.4 252.6L111.5 242.4L111.6 262.9L111.7 253.7L111.8 257.9L111.9 262.9L112.0 245.8L112.1 263.1L112.2 252.9L112.3 272.4L112.4 260.3L112.5 259.9L112.6 259.5L112.7 247.3L112.7 266.7L112.8 244.3L112.9 282.0L113.0 254.6L113.1 254.0L113.2 250.5L113.3 232.5L113.4 232.5L113.5 232.5L113.6 250.9L113.7 232.5L113.8 260.8L113.9 255.2L114.0 252.2L114.1 251.1L114.2 254.7L114.3 261.2L114.4 257.0L114.5 232.5L114.6 246.3L114.7 250.0L114.8 247.0L114.9 256.1L115.0 248.6L115.1 232.5L115.2 232.5L115.3 258.9L115.4 246.5L115.5 271.0L115.6 232.5L115.7 274.9L115.8 243.9L115.9 268.6L116.0 259.1L116.1 232.5L116.2 232.5L116.3 232.5L116.4 268.2L116.5 232.5L116.6 246.1L116.7 232.5L116.8 249.1L116.9 267.6L117.0 232.5L117.1 246.3L117.2 249.8L117.3 265.2L117.4 232.5L117.5 232.5L117.6 232.5L117.7 260.0L117.8 232.5L117.9 243.7L118.0 232.5L118.1 267.5L118.2 243.0L118.3 259.4L118.4 232.5L118.5 249.1L118.6 232.5L118.7 261.9L118.8 272.7L118.9 242.3L119.0 257.8L119.1 254.1L119.2 258.5L119.3 258.2L119.4 254.3L119.5 253.0L119.6 249.6L119.7 232.5L119.8 251.5L119.9 255.3L120.0 248.3L120.1 251.8L120.2 253.5L120.3 256.4L120.4 232.5L120.5 261.3L120.6 255.7L120.7 252.7L120.8 254.1L120.9 246.0L121.0 248.7L121.1 251.1L121.2 268.3L121.3 244.3L121.4 249.7L121.5 232.5L121.6 274.7L121.7 232.5L121.8 245.9L121.9 251.2L122.0 272.1L122.1 267.6L122.2 254.3L122.3 232.5L122.4 232.5L122.5 242.3L122.6 257.8L122.7 281.2L122.8 242.7L122.9 232.5L123.0 232.5L123.1 232.5L123.2 247.1L123.3 263.1L123.4 265.9L123.5 245.5L123.6 232.5L123.7 273.6L123.8 257.3L123.9 256.7L124.0 263.9L124.1 249.0L124.2 232.5L124.3 260.9L124.4 232.5L124.5 255.4L124.6 258.8L124.7 252.5L124.8 251.1L124.9 249.4L125.0 248.2L125.1 253.3L125.2 251.0L125.3 265.6L125.4 232.5L125.5 232.5L125.6 249.4L125.7 246.0L125.8 245.1L125.9 232.5L126.0 246.6L126.1 249.6L126.2 232.5L126.3 232.5L126.4 248.2L126.5 257.2L126.6 232.5L126.7 249.6L126.8 258.8L126.9 250.9L127.0 254.5L127.1 259.6L127.2 269.0L127.3 249.9L127.4 232.5L127.5 232.5L127.6 263.8L127.7 244.1L127.8 259.9L127.9 248.2L128.0 256.7L128.0 250.3L128.1 249.5L128.2 264.9L128.3 246.8L128.4 242.2L128.5 246.8L128.6 248.1L128.7 244.5L128.8 232.5L128.9 254.0L129.0 254.6L129.1 253.7L129.2 257.6L129.3 232.5L129.4 246.2L129.5 257.7L129.6 243.9L129.7 246.9L129.8 252.8L129.9 258.8L130.0 256.1L130.1 249.7L130.2 232.5L130.3 232.5L130.4 259.5L130.5 266.0L130.6 253.0L130.7 244.5L130.8 247.2L130.9 232.5L131.0 249.5L131.1 258.7L131.2 254.2L131.3 268.1L131.4 232.5L131.5 232.5L131.6 243.7L131.7 232.5L131.8 253.2L131.9 260.2L132.0 251.4L132.1 256.5L132.2 232.5L132.3 265.8L132.4 264.6L132.5 250.2L132.6 262.5L132.7 244.7L132.8 256.5L132.9 264.5L133.0 242.9L133.1 264.3L133.2 232.5L133.3 251.8L133.4 255.6L133.5 243.4L133.6 232.5L133.7 259.8L133.8 232.5L133.9 248.6L134.0 249.9L134.1 232.5L134.2 253.4L134.3 255.5L134.4 250.0L134.5 260.1L134.6 232.5L134.7 252.6L134.8 252.1L134.9 247.3L135.0 258.3L135.1 263.1L135.2 256.7L135.3 232.5L135.4 249.6L135.5 247.4L135.6 244.5L135.7 242.5L135.8 248.3L135.9 264.6L136.0 251.5L136.1 248.1L136.2 232.5L136.3 232.5L136.4 248.4L136.5 262.8L136.6 256.5L136.7 232.5L136.8 250.3L136.9 253.3L137.0 242.8L137.1 258.0L137.2 258.7L137.3 248.1L137.4 246.9L137.5 252.7L137.6 277.8L137.7 232.5L137.8 232.5L137.9 232.5L138.0 274.2L138.1 243.6L138.2 255.0L138.3 245.7L138.4 268.0L138.5 232.5L138.6 264.7L138.7 232.5L138.8 260.0L138.9 253.6L139.0 242.4L139.1 273.1L139.2 254.7L139.3 232.5L139.4 244.4L139.5 243.7L139.6 242.4L139.7 250.4L139.8 265.8L139.9 232.5L140.0 276.8L140.1 232.5L140.2 232.5L140.3 258.1L140.4 242.7L140.5 273.6L140.6 245.4L140.7 245.9L140.8 261.7L140.9 283.0L141.0 247.3L141.1 248.2L141.2 266.1L141.3 232.5L141.4 255.2L141.5 255.4L141.6 262.3L141.7 251.0L141.8 232.5L141.9 251.5L142.0 257.1L142.1 263.0L142.2 232.5L142.3 269.6L142.4 247.5L142.5 264.8L142.6 232.5L142.7 232.5L142.8 255.8L142.9 232.5L143.0 286.8L143.1 245.2L143.2 232.5L143.3 232.5L143.3 255.6L143.4 274.4L143.5 254.7L143.6 250.7L143.7 256.1L143.8 250.5L143.9 278.6L144.0 249.8L144.1 246.0L144.2 232.5L144.3 232.5L144.4 263.9L144.5 232.5L144.6 232.5L144.7 271.2L144.8 257.8L144.9 262.7L145.0 251.5L145.1 255.7L145.2 259.1L145.3 252.3L145.4 232.5L145.5 232.5L145.6 252.8L145.7 245.7L145.8 259.3L145.9 244.2L146.0 232.5L146.1 247.1L146.2 248.3L146.3 232.5L146.4 260.4L146.5 244.5L146.6 232.5L146.7 232.5L146.8 265.3L146.9 232.5L147.0 260.3L147.1 246.7L147.2 258.4L147.3 242.8L147.4 259.1L147.5 244.7L147.6 243.9L147.7 252.5L147.8 242.5L147.9 244.3L148.0 251.1L148.1 264.5L148.2 232.5L148.3 264.4L148.4 249.2L148.5 242.3L148.6 232.5L148.7 256.1L148.8 232.5L148.9 243.4L149.0 232.5L149.1 257.3L149.2 261.8L149.3 232.5L149.4 245.7L149.5 259.9L149.6 243.3L149.7 248.8L149.8 262.7L149.9 244.4L150.0 250.1L150.1 267.5L150.2 232.5L150.3 251.9L150.4 232.5L150.5 247.9L150.6 243.5L150.7 232.5L150.8 232.5L150.9 248.3L151.0 247.1L151.1 253.4L151.2 232.5L151.3 258.6L151.4 269.8L151.5 245.3L151.6 260.3L151.7 267.1L151.8 246.6L151.9 232.5L152.0 243.2L152.1 254.2L152.2 256.0L152.3 263.6L152.4 254.1L152.5 247.4L152.6 256.2L152.7 232.5L152.8 248.9L152.9 232.5L153.0 232.5L153.1 245.7L153.2 232.5L153.3 251.6L153.4 266.3L153.5 232.5L153.6 247.6L153.7 246.4L153.8 258.9L153.9 244.9L154.0 255.2L154.1 252.4L154.2 250.8L154.3 250.4L154.4 232.5L154.5 251.6L154.6 244.8L154.7 232.5L154.8 232.5L154.9 260.8L155.0 250.9L155.1 260.0L155.2 244.7L155.3 232.5L155.4 232.5L155.5 256.7L155.6 259.5L155.7 246.3L155.8 253.6L155.9 251.4L156.0 242.5L156.1 274.1L156.2 272.2L156.3 254.3L156.4 259.7L156.5 265.9L156.6 255.6L156.7 265.7L156.8 232.5L156.9 232.5L157.0 256.9L157.1 232.5L157.2 232.5L157.3 232.5L157.4 245.2L157.5 232.5L157.6 232.5L157.7 249.8L157.8 245.2L157.9 243.3L158.0 251.4L158.1 244.6L158.2 232.5L158.3 255.6L158.4 280.2L158.5 232.5L158.5 243.2L158.6 232.5L158.7 232.5L158.8 248.2L158.9 258.1L159.0 232.5L159.1 250.9L159.2 243.0L159.3 248.8L159.4 246.4L159.5 254.8L159.6 258.2L159.7 254.9L159.8 245.4L159.9 264.0L160.0 255.2L160.1 263.5L160.2 232.5L160.3 264.5L160.4 232.5L160.5 269.6L160.6 232.5L160.7 245.2L160.8 257.0L160.9 252.8L161.0 232.5L161.1 260.7L161.2 260.3L161.3 232.5L161.4 259.6L161.5 232.5L161.6 232.5L161.7 254.2L161.8 251.4L161.9 256.6L162.0 232.5L162.1 257.1L162.2 246.8L162.3 252.9L162.4 258.4L162.5 253.7L162.6 270.3L162.7 259.3L162.8 232.5L162.9 251.3L163.0 232.5L163.1 232.5L163.2 245.6L163.3 232.5L163.4 257.2L163.5 245.6L163.6 252.2L163.7 252.0L163.8 251.2L163.9 243.6L164.0 247.0L164.1 246.7L164.2 242.2L164.3 244.3L164.4 255.3L164.5 252.3L164.6 253.5L164.7 246.0L164.8 232.5L164.9 249.2L165.0 250.5L165.1 232.5L165.2 243.3L165.3 243.3L165.4 232.5L165.5 232.5L165.6 232.5L165.7 249.0L165.8 232.5L165.9 258.4L166.0 263.3L166.1 248.7L166.2 245.9L166.3 232.5L166.4 253.3L166.5 261.5L166.6 246.1L166.7 232.5L166.8 259.1L166.9 243.1L167.0 253.7L167.1 257.1L167.2 277.9L167.3 249.5L167.4 246.5L167.5 232.5L167.6 261.5L167.7 263.1L167.8 258.0L167.9 259.4L168.0 232.5L168.1 232.5L168.2 253.9L168.3 256.5L168.4 232.5L168.5 247.1L168.6 232.5L168.7 245.4L168.8 232.5L168.9 264.0L169.0 232.5L169.1 247.2L169.2 266.0L169.3 249.6L169.4 232.5L169.5 244.7L169.6 232.5L169.7 232.5L169.8 250.4L169.9 249.2L170.0 260.2L170.1 248.7L170.2 262.5L170.3 232.5L170.4 269.1L170.5 232.5L170.6 256.7L170.7 254.3L170.8 245.7L170.9 261.7L171.0 242.4L171.1 251.0L171.2 258.7L171.3 255.4L171.4 256.0L171.5 232.5L171.6 232.5L171.7 232.5L171.8 244.3L171.9 248.7L172.0 246.1L172.1 253.8L172.2 253.3L172.3 249.1L172.4 232.5L172.5 249.9L172.6 251.9L172.7 232.5L172.8 232.5L172.9 244.1L173.0 253.2L173.1 251.1L173.2 232.5L173.3 253.2L173.4 257.2L173.5 256.9L173.6 232.5L173.7 248.8L173.8 232.5L173.8 232.5L173.9 250.2L174.0 253.5L174.1 246.7L174.2 247.1L174.3 256.4L174.4 278.6L174.5 232.5L174.6 263.9L174.7 256.0L174.8 252.6L174.9 232.5L175.0 249.6L175.1 232.5L175.2 243.9L175.3 256.2L175.4 232.5L175.5 242.8L175.6 244.5L175.7 232.5L175.8 232.5L175.9 245.9L176.0 249.1L176.1 249.1L176.2 273.8L176.3 232.5L176.4 251.7L176.5 232.5L176.6 232.5L176.7 232.5L176.8 266.7L176.9 255.5L177.0 232.5L177.1 266.7L177.2 232.5L177.3 232.5L177.4 251.8L177.5 255.5L177.6 232.5L177.7 255.5L177.8 266.7L177.9 255.5L178.0 255.5L178.1 255.5L178.2 232.5L178.3 266.7L178.4 232.5L178.5 280.1L178.6 255.5L178.7 232.5L178.8 232.5L178.9 255.5L179.0 232.5L179.1 232.5L179.2 246.3L179.3 266.7L179.4 255.5L179.5 232.5L179.6 232.5L179.7 280.1L179.8 251.8L179.9 246.3L180.0 242.2L180.1 232.5L180.2 232.5L180.3 232.5L180.4 232.5L180.5 232.5L180.6 232.5L180.7 232.5L180.8 255.5L180.9 277.8L181.0 247.7L181.1 255.5L181.2 232.5L181.3 232.5L181.4 232.5L181.5 232.5L181.6 255.5L181.7 232.5L181.8 232.5L181.9 247.7L182.0 255.5L182.1 232.5L182.2 275.3L182.3 232.5L182.4 255.5L182.5 232.5L182.6 255.5L182.7 266.7L182.8 255.5L182.9 255.5L183.0 266.7L183.1 251.8L183.2 232.5L183.3 266.7L183.4 232.5L183.5 280.1L183.6 232.5L183.7 232.5L183.8 232.5L183.9 232.5L184.0 232.5L184.1 232.5L184.2 251.8L184.3 255.5L184.4 232.5L184.5 232.5L184.6 266.7L184.7 266.7L184.8 232.5L184.9 232.5L185.0 255.5L185.1 255.5L185.2 247.7L185.3 255.5L185.4 255.5L185.5 266.7L185.6 246.3L185.7 260.1L185.8 232.5L185.9 232.5L186.0 232.5L186.1 277.8L186.2 255.5L186.3 232.5L186.4 247.7L186.5 247.7L186.6 255.5L186.7 232.5L186.8 232.5L186.9 232.5L187.0 232.5L187.1 232.5L187.2 255.5L187.3 232.5L187.4 251.8L187.5 232.5L187.6 242.2L187.7 232.5L187.8 232.5L187.9 260.1L188.0 232.5L188.1 255.5L188.2 246.3L188.3 266.7L188.4 255.5L188.5 255.5L188.6 232.5L188.7 280.1L188.8 232.5L188.9 232.5L189.0 255.5L189.1 255.5L189.1 232.5L189.2 232.5L189.3 232.5L189.4 255.5L189.5 232.5L189.6 255.5L189.7 266.7L189.8 247.7L189.9 266.7L190.0 255.5L190.1 232.5L190.2 255.5L190.3 232.5L190.4 266.7L190.5 255.5L190.6 255.5L190.7 232.5L190.8 255.5L190.9 232.5L191.0 255.5L191.1 275.3L191.2 255.5L191.3 255.5L191.4 247.7L191.5 255.5L191.6 247.7L191.7 255.5L191.8 232.5L191.9 232.5L192.0 255.5L192.1 255.5L192.2 255.5L192.3 232.5L192.4 232.5L192.5 232.5L192.6 255.5L192.7 232.5L192.8 266.7L192.9 255.5L193.0 247.7L193.1 255.5L193.2 255.5L193.3 232.5L193.4 255.5L193.5 246.3L193.6 255.5L193.7 247.7L193.8 242.2L193.9 255.5L194.0 232.5L194.1 260.1L194.2 255.5L194.3 255.5L194.4 232.5L194.5 255.5L194.6 232.5L194.7 232.5L194.8 232.5L194.9 232.5L195.0 232.5L195.1 232.5L195.2 232.5L195.3 247.7L195.4 232.5L195.5 232.5L195.6 232.5L195.7 232.5L195.8 255.5L195.9 255.5L196.0 232.5L196.1 251.8L196.2 251.8L196.3 232.5L196.4 232.5L196.5 232.5L196.6 232.5L196.7 232.5L196.8 251.8L196.9 232.5L197.0 255.5L197.1 232.5L197.2 232.5L197.3 266.7L197.4 255.5L197.5 275.3L197.6 232.5L197.7 255.5L197.8 232.5L197.9 255.5L198.0 232.5L198.1 255.5L198.2 246.3L198.3 232.5L198.4 232.5L198.5 232.5L198.6 266.7L198.7 255.5L198.8 266.7L198.9 232.5L199.0 242.2L199.1 232.5L199.2 232.5L199.3 232.5L199.4 255.5L199.5 266.7L199.6 232.5L199.7 246.3L199.8 232.5L199.9 232.5L200.0 232.5L200.1 255.5L200.2 232.5L200.3 232.5L200.4 266.7L200.5 232.5L200.6 232.5L200.7 232.5L200.8 280.1L200.9 266.7L201.0 232.5L201.1 232.5L201.2 232.5L201.3 232.5L201.4 277.8L201.5 232.5L201.6 232.5L201.7 255.5L201.8 232.5L201.9 255.5L202.0 255.5L202.1 232.5L202.2 255.5L202.3 232.5L202.4 255.5L202.5 242.2L202.6 266.7L202.7 255.5L202.8 232.5L202.9 275.3L203.0 255.5L203.1 232.5L203.2 247.7L203.3 246.3L203.4 232.5L203.5 260.1L203.6 232.5L203.7 232.5L203.8 242.2L203.9 260.1L204.0 255.5L204.1 232.5L204.2 232.5L204.3 255.5L204.4 232.5L204.4 232.5L204.5 255.5L204.6 255.5L204.7 255.5L204.8 251.8L204.9 266.7L205.0 232.5L205.1 232.5L205.2 255.5L205.3 232.5L205.4 255.5L205.5 232.5L205.6 251.8L205.7 266.7L205.8 266.7L205.9 255.5L206.0 255.5L206.1 247.7L206.2 232.5L206.3 255.5L206.4 251.8L206.5 246.3L206.6 255.5L206.7 232.5L206.8 232.5L206.9 255.5L207.0 232.5L207.1 266.7L207.2 232.5L207.3 266.7L207.4 266.7L207.5 232.5L207.6 255.5L207.7 255.5L207.8 255.5L207.9 255.5L208.0 232.5L208.1 232.5L208.2 232.5L208.3 266.7L208.4 232.5L208.5 255.5L208.6 232.5L208.7 255.5L208.8 266.7L208.9 255.5L209.0 266.7L209.1 232.5L209.2 266.7L209.3 242.2L209.4 266.7L209.5 255.5L209.6 266.7L209.7 266.7L209.8 232.5L209.9 255.5L210.0 266.7L210.1 232.5L210.2 242.2L210.3 255.5L210.4 247.7L210.5 255.5L210.6 232.5L210.7 232.5L210.8 242.2L210.9 232.5L211.0 255.5L211.1 255.5L211.2 232.5L211.3 260.1L211.4 255.5L211.5 251.8L211.6 260.1L211.7 232.5L211.8 232.5L211.9 246.3L212.0 255.5L212.1 255.5L212.2 232.5L212.3 232.5L212.4 232.5L212.5 255.5L212.6 232.5L212.7 232.5L212.8 277.8L212.9 255.5L213.0 232.5L213.1 232.5L213.2 232.5L213.3 255.5L213.4 232.5L213.5 232.5L213.6 246.3L213.7 266.7L213.8 232.5L213.9 232.5L214.0 242.2L214.1 255.5L214.2 251.8L214.3 232.5L214.4 232.5L214.5 232.5L214.6 255.5L214.7 246.3L214.8 232.5L214.9 247.7L215.0 247.7L215.1 255.5L215.2 277.8L215.3 232.5L215.4 255.5L215.5 266.7L215.6 255.5L215.7 251.8L215.8 255.5L215.9 232.5L216.0 255.5L216.1 232.5L216.2 266.7L216.3 266.7L216.4 266.7L216.5 232.5L216.6 255.5L216.7 266.7L216.8 242.2L216.9 242.2L217.0 266.7L217.1 232.5L217.2 232.5L217.3 232.5L217.4 242.2L217.5 266.7L217.6 232.5L217.7 266.7L217.8 232.5L217.9 255.5L218.0 232.5L218.1 255.5L218.2 232.5L218.3 247.7L218.4 232.5L218.5 232.5L218.6 255.5L218.7 232.5L218.8 232.5L218.9 255.5L219.0 232.5L219.1 266.7L219.2 232.5L219.3 255.5L219.4 255.5L219.5 266.7L219.6 255.5L219.7 247.7L219.7 232.5L219.8 232.5L219.9 232.5L220.0 232.5L220.1 232.5L220.2 255.5L220.3 232.5L220.4 232.5L220.5 232.5L220.6 232.5L220.7 232.5L220.8 255.5L220.9 255.5L221.0 232.5L221.1 232.5L221.2 255.5L221.3 242.2L221.4 232.5L221.5 255.5L221.6 251.8L221.7 232.5L221.8 232.5L221.9 232.5L222.0 269.8L222.1 247.7L222.2 255.5L222.3 255.5L222.4 269.8L222.5 260.1L222.6 232.5L222.7 246.3L222.8 255.5L222.9 242.2L223.0 232.5L223.1 232.5L223.2 232.5L223.3 255.5L223.4 255.5L223.5 232.5L223.6 232.5L223.7 232.5L223.8 255.5L223.9 232.5L224.0 277.8L224.1 260.1L224.2 232.5L224.3 232.5L224.4 266.7L224.5 232.5L224.6 255.5L224.7 232.5L224.8 255.5L224.9 232.5L225.0 232.5L225.1 255.5L225.2 246.3L225.3 242.2L225.4 260.1L225.5 232.5L225.6 251.8L225.7 255.5L225.8 232.5L225.9 232.5L226.0 255.5L226.1 255.5L226.2 255.5L226.3 232.5L226.4 266.7L226.5 247.7L226.6 280.1L226.7 232.5L226.8 232.5L226.9 232.5L227.0 255.5L227.1 232.5L227.2 246.3L227.3 246.3L227.4 277.8L227.5 232.5L227.6 232.5L227.7 232.5L227.8 232.5L227.9 266.7L228.0 232.5L228.1 260.1L228.2 266.7L228.3 232.5L228.4 266.7L228.5 232.5L228.6 255.5L228.7 232.5L228.8 266.7L228.9 266.7L229.0 255.5L229.1 251.8L229.2 232.5L229.3 255.5L229.4 242.2L229.5 247.7L229.6 232.5L229.7 232.5L229.8 246.3L229.9 232.5L230.0 255.5L230.1 232.5L230.2 255.5L230.3 232.5L230.4 232.5L230.5 232.5L230.6 255.5L230.7 246.3L230.8 232.5L230.9 255.5L231.0 232.5L231.1 232.5L231.2 232.5L231.3 232.5L231.4 260.1L231.5 255.5L231.6 255.5L231.7 269.8L231.8 266.7L231.9 255.5L232.0 232.5L232.1 232.5L232.2 232.5L232.3 255.5L232.4 232.5L232.5 232.5L232.6 260.1L232.7 232.5L232.8 255.5L232.9 232.5L233.0 255.5L233.1 232.5L233.2 242.2L233.3 266.7L233.4 255.5L233.5 232.5L233.6 266.7L233.7 232.5L233.8 232.5L233.9 246.3L234.0 255.5L234.1 255.5L234.2 232.5L234.3 232.5L234.4 232.5L234.5 232.5L234.6 255.5L234.7 255.5L234.8 247.7L234.9 232.5L235.0 232.5L235.0 255.5L235.1 266.7L235.2 232.5L235.3 232.5L235.4 232.5L235.5 232.5L235.6 266.7L235.7 255.5L235.8 232.5L235.9 242.2L236.0 255.5L236.1 232.5L236.2 242.2L236.3 247.7L236.4 266.7L236.5 255.5L236.6 232.5L236.7 232.5L236.8 232.5L236.9 266.7L237.0 232.5L237.1 255.5L237.2 232.5L237.3 266.7L237.4 232.5L237.5 232.5L237.6 232.5L237.7 232.5L237.8 232.5L237.9 247.7L238.0 232.5L238.1 232.5L238.2 232.5L238.3 232.5L238.4 232.5L238.5 251.8L238.6 255.5L238.7 232.5L238.8 232.5L238.9 266.7L239.0 232.5L239.1 266.7L239.2 246.3L239.3 232.5L239.4 255.5L239.5 232.5L239.6 266.7L239.7 255.5L239.8 232.5L239.9 232.5L240.0 232.5L240.1 246.3L240.2 242.2L240.3 232.5L240.4 232.5L240.5 242.2L240.6 232.5L240.7 251.8L240.8 247.7L240.9 232.5L241.0 232.5L241.1 232.5L241.2 255.5L241.3 232.5L241.4 255.5L241.5 232.5L241.6 255.5L241.7 277.8L241.8 232.5L241.9 242.2L242.0 232.5L242.1 232.5L242.2 232.5L242.3 232.5L242.4 232.5L242.5 255.5L242.6 232.5L242.7 232.5L242.8 251.8L242.9 255.5L243.0 266.7L243.1 232.5L243.2 255.5L243.3 260.1L243.4 232.5L243.5 232.5L243.6 232.5L243.7 266.7L243.8 242.2L243.9 232.5L244.0 247.7L244.1 251.8L244.2 255.5L244.3 255.5L244.4 255.5L244.5 232.5L244.6 232.5L244.7 251.8L244.8 255.5L244.9 232.5L245.0 232.5L245.1 232.5L245.2 232.5L245.3 255.5L245.4 255.5L245.5 255.5L245.6 232.5L245.7 232.5L245.8 232.5L245.9 260.1L246.0 255.5L246.1 232.5L246.2 277.8L246.3 232.5L246.4 232.5L246.5 232.5L246.6 232.5L246.7 232.5L246.8 232.5L246.9 232.5L247.0 232.5L247.1 255.5L247.2 255.5L247.3 232.5L247.4 255.5L247.5 242.2L247.6 232.5L247.7 255.5L247.8 255.5L247.9 232.5L248.0 232.5L248.1 255.5L248.2 255.5L248.3 255.5L248.4 232.5L248.5 232.5L248.6 255.5L248.7 242.2L248.8 232.5L248.9 232.5L249.0 232.5L249.1 266.7L249.2 266.7L249.3 232.5L249.4 232.5L249.5 232.5L249.6 242.2L249.7 266.7L249.8 232.5L249.9 266.7L250.0 232.5L250.1 266.7L250.2 232.5L250.2 260.1L250.3 255.5L250.4 266.7L250.5 232.5L250.6 232.5L250.7 266.7L250.8 255.5L250.9 255.5L251.0 260.1L251.1 232.5L251.2 232.5L251.3 255.5L251.4 255.5L251.5 266.7L251.6 232.5L251.7 255.5L251.8 232.5L251.9 242.2L252.0 232.5L252.1 247.7L252.2 232.5L252.3 251.8L252.4 255.5L252.5 266.7L252.6 232.5L252.7 266.7L252.8 232.5L252.9 232.5L253.0 255.5L253.1 251.8L253.2 255.5L253.3 232.5L253.4 266.7L253.5 266.7L253.6 255.5L253.7 266.7L253.8 232.5L253.9 232.5L254.0 232.5L254.1 247.7L254.2 255.5L254.3 266.7L254.4 232.5L254.5 255.5L254.6 255.5L254.7 247.7L254.8 232.5L254.9 232.5L255.0 232.5L255.1 232.5L255.2 275.3L255.3 232.5L255.4 255.5L255.5 255.5L255.6 232.5L255.7 247.7L255.8 232.5L255.9 247.7L256.0 232.5L256.1 232.5L256.2 255.5L256.3 232.5L256.4 255.5L256.5 255.5L256.6 255.5L256.7 255.5L256.8 232.5L256.9 232.5L257.0 232.5L257.1 277.8L257.2 232.5L257.3 232.5L257.4 232.5L257.5 255.5L257.6 255.5L257.7 232.5L257.8 247.7L257.9 266.7L258.0 247.7L258.1 232.5L258.2 266.7L258.3 232.5L258.4 266.7L258.5 266.7L258.6 266.7L258.7 280.1L258.8 266.7L258.9 266.7L259.0 255.5L259.1 232.5L259.2 255.5L259.3 266.7L259.4 255.5L259.5 232.5L259.6 251.8L259.7 247.7L259.8 232.5L259.9 232.5L260.0 266.7L260.1 232.5L260.2 232.5L260.3 242.2L260.4 232.5L260.5 266.7L260.6 255.5L260.7 255.5L260.8 232.5L260.9 255.5L261.0 232.5L261.1 232.5L261.2 232.5L261.3 255.5L261.4 232.5L261.5 232.5L261.6 255.5L261.7 255.5L261.8 232.5L261.9 255.5L262.0 255.5L262.1 255.5L262.2 266.7L262.3 266.7L262.4 255.5L262.5 242.2L262.6 232.5L262.7 255.5L262.8 255.5L262.9 255.5L263.0 246.3L263.1 255.5L263.2 232.5L263.3 246.3L263.4 255.5L263.5 242.2L263.6 232.5L263.7 232.5L263.8 255.5L263.9 232.5L264.0 232.5L264.1 232.5L264.2 232.5L264.3 266.7L264.4 232.5L264.5 232.5L264.6 260.1L264.7 232.5L264.8 232.5L264.9 255.5L265.0 242.2L265.1 255.5L265.2 255.5L265.3 255.5L265.4 232.5L265.5 255.5L265.5 232.5L265.6 255.5L265.7 246.3L265.8 232.5L265.9 232.5L266.0 251.8L266.1 232.5L266.2 255.5L266.3 255.5L266.4 277.8L266.5 232.5L266.6 232.5L266.7 247.7L266.8 232.5L266.9 232.5L267.0 251.8L267.1 242.2L267.2 251.8L267.3 232.5L267.4 275.3L267.5 255.5L267.6 255.5L267.7 255.5L267.8 232.5L267.9 232.5L268.0 232.5L268.1 255.5L268.2 255.5L268.3 232.5L268.4 246.3L268.5 232.5L268.6 232.5L268.7 232.5L268.8 255.5L268.9 232.5L269.0 255.5L269.1 255.5L269.2 242.2L269.3 251.8L269.4 255.5L269.5 232.5L269.6 242.2L269.7 255.5L269.8 232.5L269.9 232.5L270.0 232.5L270.1 255.5L270.2 260.1L270.3 255.5L270.4 246.3L270.5 255.5L270.6 255.5L270.7 232.5L270.8 232.5L270.9 232.5L271.0 255.5L271.1 232.5L271.2 232.5L271.3 232.5L271.4 247.7L271.5 232.5L271.6 232.5L271.7 232.5L271.8 255.5L271.9 255.5L272.0 255.5L272.1 232.5L272.2 232.5L272.3 232.5L272.4 255.5L272.5 247.7L272.6 232.5L272.7 232.5L272.8 232.5L272.9 232.5L273.0 255.5L273.1 255.5L273.2 242.2L273.3 255.5L273.4 232.5L273.5 232.5L273.6 232.5L273.7 232.5L273.8 232.5L273.9 242.2L274.0 232.5L274.1 232.5L274.2 255.5L274.3 232.5L274.4 232.5L274.5 255.5L274.6 260.1L274.7 232.5L274.8 255.5L274.9 232.5L275.0 232.5L275.1 232.5L275.2 232.5L275.3 251.8L275.4 232.5L275.5 266.7L275.6 232.5L275.7 255.5L275.8 232.5L275.9 232.5L276.0 232.5L276.1 260.1L276.2 232.5L276.3 255.5L276.4 242.2L276.5 232.5L276.6 232.5L276.7 232.5L276.8 232.5L276.9 266.7L277.0 242.2L277.1 242.2L277.2 255.5L277.3 232.5L277.4 255.5L277.5 232.5L277.6 242.2L277.7 255.5L277.8 232.5L277.9 232.5L278.0 260.1L278.1 255.5L278.2 232.5L278.3 247.7L278.4 232.5L278.5 266.7L278.6 232.5L278.7 247.7L278.8 232.5L278.9 232.5L279.0 255.5L279.1 247.7L279.2 255.5L279.3 232.5L279.4 232.5L279.5 246.3L279.6 255.5L279.7 232.5L279.8 242.2L279.9 242.2L280.0 266.7L280.1 266.7L280.2 266.7L280.3 266.7L280.4 232.5L280.5 266.7L280.6 232.5L280.7 242.2L280.8 255.5L280.8 246.3L280.9 232.5L281.0 247.7L281.1 232.5L281.2 232.5L281.3 232.5L281.4 232.5L281.5 232.5L281.6 232.5L281.7 255.5L281.8 255.5L281.9 232.5L282.0 255.5L282.1 232.5L282.2 260.1L282.3 232.5L282.4 266.7L282.5 232.5L282.6 232.5L282.7 260.1L282.8 255.5L282.9 255.5L283.0 247.7L283.1 232.5L283.2 246.3L283.3 232.5L283.4 255.5L283.5 232.5L283.6 255.5L283.7 255.5L283.8 266.7L283.9 255.5L284.0 266.7L284.1 232.5L284.2 232.5L284.3 232.5L284.4 255.5L284.5 232.5L284.6 232.5L284.7 232.5L284.8 232.5L284.9 266.7L285.0 232.5L285.1 255.5L285.2 251.8L285.3 232.5L285.4 266.7L285.5 232.5L285.6 251.8L285.7 232.5L285.8 232.5L285.9 266.7L286.0 266.7L286.1 232.5L286.2 246.3L286.3 255.5L286.4 232.5L286.5 266.7L286.6 255.5L286.7 232.5L286.8 255.5L286.9 246.3L287.0 255.5L287.1 232.5L287.2 266.7L287.3 232.5L287.4 246.3L287.5 232.5L287.6 232.5L287.7 232.5L287.8 255.5L287.9 255.5L288.0 232.5L288.1 255.5L288.2 255.5L288.3 232.5L288.4 246.3L288.5 232.5L288.6 232.5L288.7 232.5L288.8 232.5L288.9 232.5L289.0 232.5L289.1 255.5L289.2 232.5L289.3 232.5L289.4 255.5L289.5 255.5L289.6 232.5L289.7 255.5L289.8 232.5L289.9 232.5L290.0 232.5L290.1 255.5L290.2 255.5L290.3 255.5L290.4 232.5L290.5 255.5L290.6 232.5L290.7 232.5L290.8 232.5L290.9 255.5L291.0 232.5L291.1 232.5L291.2 232.5L291.3 251.8L291.4 232.5L291.5 232.5L291.6 232.5L291.7 232.5L291.8 232.5L291.9 232.5L292.0 251.8L292.1 242.2L292.2 232.5L292.3 255.5L292.4 251.8L292.5 232.5L292.6 255.5L292.7 247.7L292.8 247.7L292.9 260.1L293.0 232.5L293.1 232.5L293.2 232.5L293.3 232.5L293.4 232.5L293.5 232.5L293.6 232.5L293.7 232.5L293.8 266.7L293.9 232.5L294.0 232.5L294.1 255.5L294.2 232.5L294.3 232.5L294.4 232.5L294.5 232.5L294.6 255.5L294.7 255.5L294.8 232.5L294.9 232.5L295.0 232.5L295.1 251.8L295.2 232.5L295.3 232.5L295.4 232.5L295.5 232.5L295.6 255.5L295.7 247.7L295.8 255.5L295.9 255.5L296.0 255.5L296.1 232.5L296.1 232.5L296.2 232.5L296.3 232.5L296.4 232.5L296.5 232.5L296.6 255.5L296.7 255.5L296.8 251.8L296.9 255.5L297.0 232.5L297.1 266.7L297.2 232.5L297.3 266.7L297.4 266.7L297.5 232.5L297.6 247.7L297.7 242.2L297.8 232.5L297.9 232.5L298.0 255.5L298.1 232.5L298.2 247.7L298.3 232.5L298.4 232.5L298.5 232.5L298.6 232.5L298.7 232.5L298.8 232.5L298.9 242.2L299.0 232.5L299.1 255.5L299.2 232.5L299.3 232.5L299.4 232.5L299.5 232.5L299.6 255.5L299.7 242.2L299.8 232.5L299.9 232.5L300.0 232.5L300.1 266.7L300.2 232.5L300.3 255.5L300.4 232.5L300.5 255.5L300.6 247.7L300.7 260.1L300.8 232.5L300.9 246.3L301.0 255.5L301.1 266.7L301.2 255.5L301.3 266.7L301.4 242.2L301.5 232.5L301.6 232.5L301.7 232.5L301.8 255.5L301.9 232.5L302.0 246.3L302.1 232.5L302.2 255.5L302.3 266.7L302.4 266.7L302.5 255.5L302.6 251.8L302.7 255.5L302.8 232.5L302.9 232.5L303.0 232.5L303.1 260.1L303.2 266.7L303.3 255.5L303.4 266.7L303.5 246.3L303.6 255.5L303.7 247.7L303.8 232.5L303.9 255.5L304.0 232.5L304.1 255.5L304.2 232.5L304.3 232.5L304.4 232.5L304.5 242.2L304.6 255.5L304.7 251.8L304.8 232.5L304.9 232.5L305.0 232.5L305.1 232.5L305.2 232.5L305.3 232.5L305.4 232.5L305.5 255.5L305.6 232.5L305.7 232.5L305.8 232.5L305.9 232.5L306.0 255.5L306.1 232.5L306.2 242.2L306.3 255.5L306.4 232.5L306.5 232.5L306.6 242.2L306.7 255.5L306.8 232.5L306.9 246.3L307.0 232.5L307.1 232.5L307.2 232.5L307.3 232.5L307.4 232.5L307.5 232.5L307.6 255.5L307.7 232.5L307.8 232.5L307.9 232.5L308.0 255.5L308.1 266.7L308.2 266.7L308.3 232.5L308.4 255.5L308.5 266.7L308.6 255.5L308.7 255.5L308.8 255.5L308.9 255.5L309.0 255.5L309.1 255.5L309.2 255.5L309.3 255.5L309.4 260.1L309.5 232.5L309.6 260.1L309.7 255.5L309.8 255.5L309.9 232.5L310.0 232.5L310.1 232.5L310.2 266.7L310.3 246.3L310.4 255.5L310.5 266.7L310.6 266.7L310.7 232.5L310.8 232.5L310.9 232.5L311.0 232.5L311.1 232.5L311.2 266.7L311.3 277.8L311.4 255.5L311.4 255.5L311.5 232.5L311.6 255.5L311.7 232.5L311.8 275.3L311.9 266.7L312.0 246.3L312.1 246.3L312.2 266.7L312.3 232.5L312.4 255.5L312.5 251.8L312.6 266.7L312.7 255.5L312.8 232.5L312.9 232.5L313.0 251.8L313.1 242.2L313.2 232.5L313.3 266.7L313.4 232.5L313.5 251.8L313.6 232.5L313.7 266.7L313.8 255.5L313.9 255.5L314.0 232.5L314.1 255.5L314.2 255.5L314.3 232.5L314.4 232.5L314.5 232.5L314.6 251.8L314.7 255.5L314.8 277.8L314.9 251.8L315.0 232.5L315.1 247.7L315.2 232.5L315.3 255.5L315.4 232.5L315.5 255.5L315.6 232.5L315.7 232.5L315.8 266.7L315.9 232.5L316.0 232.5L316.1 255.5L316.2 266.7L316.3 232.5L316.4 255.5L316.5 232.5L316.6 266.7L316.7 251.8L316.8 232.5L316.9 232.5L317.0 266.7L317.1 232.5L317.2 266.7L317.3 232.5L317.4 255.5L317.5 232.5L317.6 247.7L317.7 232.5L317.8 255.5L317.9 232.5L318.0 266.7L318.1 277.8L318.2 232.5L318.3 255.5L318.4 232.5L318.5 232.5L318.6 247.7L318.7 246.3L318.8 247.7L318.9 247.7L319.0 232.5L319.1 266.7L319.2 232.5L319.3 251.8L319.4 266.7L319.5 232.5L319.6 266.7L319.7 255.5L319.8 232.5L319.9 247.7L320.0 255.5L320.1 232.5L320.2 247.7L320.3 255.5L320.4 255.5L320.5 255.5L320.6 255.5L320.7 255.5L320.8 232.5L320.9 232.5L321.0 232.5L321.1 255.5L321.2 232.5L321.3 255.5L321.4 232.5L321.5 232.5L321.6 232.5L321.7 255.5L321.8 266.7L321.9 232.5L322.0 247.7L322.1 232.5L322.2 255.5L322.3 232.5L322.4 251.8L322.5 242.2L322.6 251.8L322.7 266.7L322.8 266.7L322.9 232.5L323.0 266.7L323.1 232.5L323.2 232.5L323.3 266.7L323.4 232.5L323.5 232.5L323.6 266.7L323.7 255.5L323.8 232.5L323.9 251.8L324.0 232.5L324.1 232.5L324.2 269.8L324.3 232.5L324.4 232.5L324.5 266.7L324.6 232.5L324.7 266.7L324.8 255.5L324.9 232.5L325.0 232.5L325.1 255.5L325.2 232.5L325.3 266.7L325.4 266.7L325.5 232.5L325.6 246.3L325.7 255.5L325.8 232.5L325.9 266.7L326.0 232.5L326.1 232.5L326.2 232.5L326.3 246.3L326.4 232.5L326.5 266.7L326.6 232.5L326.7 251.8L326.7 255.5L326.8 242.2L326.9 255.5L327.0 232.5L327.1 255.5L327.2 246.3L327.3 269.8L327.4 266.7L327.5 255.5L327.6 255.5L327.7 266.7L327.8 232.5L327.9 251.8L328.0 255.5L328.1 266.7L328.2 255.5L328.3 232.5L328.4 232.5L328.5 232.5L328.6 232.5L328.7 232.5L328.8 251.8L328.9 246.3L329.0 255.5L329.1 232.5L329.2 232.5L329.3 232.5L329.4 232.5L329.5 232.5L329.6 255.5L329.7 232.5L329.8 232.5L329.9 255.5L330.0 232.5L330.1 247.7L330.2 255.5L330.3 232.5L330.4 232.5L330.5 232.5L330.6 242.2L330.7 232.5L330.8 232.5L330.9 260.1L331.0 232.5L331.1 232.5L331.2 266.7L331.3 251.8L331.4 242.2L331.5 232.5L331.6 255.5L331.7 266.7L331.8 232.5L331.9 266.7L332.0 232.5L332.1 260.1L332.2 255.5L332.3 232.5L332.4 266.7L332.5 255.5L332.6 232.5L332.7 232.5L332.8 232.5L332.9 255.5L333.0 232.5L333.1 232.5L333.2 232.5L333.3 232.5L333.4 266.7L333.5 266.7L333.6 266.7L333.7 266.7L333.8 232.5L333.9 242.2L334.0 232.5L334.1 266.7L334.2 232.5L334.3 255.5L334.4 266.7L334.5 232.5L334.6 255.5L334.7 232.5L334.8 232.5L334.9 255.5L335.0 232.5L335.1 232.5L335.2 255.5L335.3 232.5L335.4 232.5L335.5 251.8L335.6 232.5L335.7 232.5L335.8 232.5L335.9 255.5L336.0 255.5L336.1 255.5L336.2 232.5L336.3 232.5L336.4 255.5L336.5 246.3L336.6 260.1L336.7 232.5L336.8 232.5L336.9 242.2L337.0 242.2L337.1 255.5L337.2 232.5L337.3 232.5L337.4 232.5L337.5 232.5L337.6 232.5L337.7 232.5L337.8 246.3L337.9 232.5L338.0 260.1L338.1 266.7L338.2 246.3L338.3 266.7L338.4 255.5L338.5 232.5L338.6 232.5L338.7 266.7L338.8 232.5L338.9 232.5L339.0 232.5L339.1 255.5L339.2 232.5L339.3 232.5L339.4 232.5L339.5 266.7L339.6 232.5L339.7 246.3L339.8 232.5L339.9 232.5L340.0 247.7L340.1 232.5L340.2 251.8L340.3 260.1L340.4 232.5L340.5 232.5L340.6 246.3L340.7 232.5L340.8 232.5L340.9 232.5L341.0 255.5L341.1 232.5L341.2 232.5L341.3 232.5L341.4 232.5L341.5 255.5L341.6 232.5L341.7 232.5L341.8 232.5L341.9 232.5L342.0 255.5L342.0 255.5L342.1 251.8L342.2 251.8L342.3 255.5L342.4 232.5L342.5 232.5L342.6 232.5L342.7 232.5L342.8 255.5L342.9 232.5L343.0 255.5L343.1 242.2L343.2 255.5L343.3 247.7L343.4 232.5L343.5 232.5L343.6 246.3L343.7 232.5L343.8 242.2L343.9 232.5L344.0 232.5L344.1 247.7L344.2 255.5L344.3 255.5L344.4 255.5L344.5 269.8L344.6 232.5L344.7 255.5L344.8 232.5L344.9 232.5L345.0 255.5L345.1 255.5L345.2 242.2L345.3 232.5L345.4 232.5L345.5 255.5L345.6 266.7L345.7 232.5L345.8 242.2L345.9 232.5L346.0 232.5L346.1 255.5L346.2 232.5L346.3 232.5L346.4 232.5L346.5 232.5L346.6 232.5L346.7 232.5L346.8 255.5L346.9 232.5L347.0 247.7L347.1 232.5L347.2 255.5L347.3 232.5L347.4 232.5L347.5 232.5L347.6 255.5L347.7 232.5L347.8 255.5L347.9 247.7L348.0 232.5L348.1 255.5L348.2 232.5L348.3 232.5L348.4 255.5L348.5 232.5L348.6 232.5L348.7 255.5L348.8 232.5L348.9 232.5L349.0 260.1L349.1 232.5L349.2 255.5L349.3 242.2L349.4 232.5L349.5 232.5L349.6 255.5L349.7 255.5L349.8 266.7L349.9 232.5L350.0 247.7L350.1 266.7L350.2 251.8L350.3 232.5L350.4 232.5L350.5 232.5L350.6 232.5L350.7 255.5L350.8 242.2L350.9 232.5L351.0 232.5L351.1 255.5L351.2 247.7L351.3 232.5L351.4 247.7L351.5 232.5L351.6 266.7L351.7 232.5L351.8 232.5L351.9 255.5L352.0 255.5L352.1 232.5L352.2 255.5L352.3 232.5L352.4 232.5L352.5 232.5L352.6 232.5L352.7 242.2L352.8 255.5L352.9 232.5L353.0 232.5L353.1 232.5L353.2 232.5L353.3 232.5L353.4 232.5L353.5 266.7L353.6 247.7L353.7 266.7L353.8 255.5L353.9 255.5L354.0 269.8L354.1 255.5L354.2 232.5L354.3 266.7L354.4 232.5L354.5 232.5L354.6 251.8L354.7 255.5L354.8 251.8L354.9 266.7L355.0 232.5L355.1 232.5L355.2 251.8L355.3 232.5L355.4 255.5L355.5 280.1L355.6 266.7L355.7 255.5L355.8 232.5L355.9 242.2L356.0 232.5L356.1 232.5L356.2 232.5L356.3 255.5L356.4 255.5L356.5 232.5L356.6 232.5L356.7 255.5L356.8 232.5L356.9 255.5L357.0 232.5L357.1 232.5L357.2 242.2L357.2 266.7L357.3 232.5L357.4 255.5L357.5 232.5L357.6 232.5L357.7 232.5L357.8 251.8L357.9 255.5L358.0 260.1L358.1 255.5L358.2 255.5L358.3 232.5L358.4 251.8L358.5 232.5L358.6 246.3L358.7 232.5L358.8 232.5L358.9 232.5L359.0 266.7L359.1 255.5L359.2 255.5L359.3 266.7L359.4 266.7L359.5 255.5L359.6 232.5L359.7 269.8L359.8 255.5L359.9 266.7L360.0 266.7L360.1 255.5L360.2 232.5L360.3 246.3L360.4 232.5L360.5 255.5L360.6 255.5L360.7 242.2L360.8 266.7L360.9 232.5L361.0 232.5L361.1 232.5L361.2 232.5L361.3 232.5L361.4 242.2L361.5 242.2L361.6 255.5L361.7 266.7L361.8 232.5L361.9 255.5L362.0 232.5L362.1 232.5L362.2 255.5L362.3 266.7L362.4 255.5L362.5 232.5L362.6 246.3L362.7 246.3L362.8 266.7L362.9 232.5L363.0 232.5L363.1 232.5L363.2 232.5L363.3 255.5L363.4 232.5L363.5 232.5L363.6 255.5L363.7 232.5L363.8 242.2L363.9 255.5L364.0 255.5L364.1 232.5L364.2 255.5L364.3 232.5L364.4 255.5L364.5 232.5L364.6 251.8L364.7 255.5L364.8 232.5L364.9 232.5L365.0 255.5L365.1 255.5L365.2 255.5L365.3 255.5L365.4 232.5L365.5 255.5L365.6 232.5L365.7 232.5L365.8 232.5L365.9 232.5L366.0 232.5L366.1 232.5L366.2 232.5L366.3 232.5L366.4 255.5L366.5 232.5L366.6 266.7L366.7 232.5L366.8 266.7L366.9 255.5L367.0 232.5L367.1 232.5L367.2 255.5L367.3 255.5L367.4 255.5L367.5 246.3L367.6 255.5L367.7 255.5L367.8 255.5L367.9 266.7L368.0 255.5L368.1 232.5L368.2 232.5L368.3 232.5L368.4 255.5L368.5 266.7L368.6 266.7L368.7 247.7L368.8 255.5L368.9 242.2L369.0 232.5L369.1 232.5L369.2 266.7L369.3 246.3L369.4 232.5L369.5 246.3L369.6 266.7L369.7 255.5L369.8 266.7L369.9 246.3L370.0 251.8L370.1 266.7L370.2 266.7L370.3 232.5L370.4 232.5L370.5 255.5L370.6 232.5L370.7 232.5L370.8 266.7L370.9 266.7L371.0 232.5L371.1 232.5L371.2 266.7L371.3 255.5L371.4 255.5L371.5 255.5L371.6 266.7L371.7 255.5L371.8 260.1L371.9 232.5L372.0 232.5L372.1 266.7L372.2 232.5L372.3 232.5L372.4 266.7L372.5 255.5L372.5 255.5L372.6 255.5L372.7 266.7L372.8 255.5L372.9 255.5L373.0 232.5L373.1 251.8L373.2 266.7L373.3 255.5L373.4 232.5L373.5 232.5L373.6 232.5L373.7 246.3L373.8 232.5L373.9 246.3L374.0 246.3L374.1 260.1L374.2 232.5L374.3 255.5L374.4 251.8L374.5 232.5L374.6 232.5L374.7 255.5L374.8 266.7L374.9 246.3L375.0 246.3L375.1 232.5L375.2 232.5L375.3 255.5L375.4 255.5L375.5 251.8L375.6 232.5L375.7 232.5L375.8 232.5L375.9 232.5L376.0 232.5L376.1 232.5L376.2 232.5L376.3 255.5L376.4 255.5L376.5 232.5L376.6 246.3L376.7 246.3L376.8 232.5L376.9 232.5L377.0 232.5L377.1 232.5L377.2 232.5L377.3 232.5L377.4 232.5L377.5 255.5L377.6 232.5L377.7 266.7L377.8 242.2L377.9 260.1L378.0 232.5L378.1 232.5L378.2 266.7L378.3 266.7L378.4 232.5L378.5 266.7L378.6 266.7L378.7 246.3L378.8 232.5L378.9 232.5L379.0 232.5L379.1 266.7L379.2 232.5L379.3 232.5L379.4 232.5L379.5 266.7L379.6 247.7L379.7 255.5L379.8 242.2L379.9 266.7L380.0 255.5L380.1 266.7L380.2 255.5L380.3 232.5L380.4 232.5L380.5 232.5L380.6 232.5L380.7 255.5L380.8 232.5L380.9 232.5L381.0 232.5L381.1 242.2L381.2 255.5L381.3 255.5L381.4 246.3L381.5 232.5L381.6 255.5L381.7 232.5L381.8 255.5L381.9 246.3L382.0 232.5L382.1 255.5L382.2 266.7L382.3 232.5L382.4 232.5L382.5 232.5L382.6 246.3L382.7 242.2L382.8 255.5L382.9 232.5L383.0 255.5L383.1 255.5L383.2 232.5L383.3 232.5L383.4 251.8L383.5 232.5L383.6 232.5L383.7 255.5L383.8 255.5L383.9 251.8L384.0 232.5L384.1 232.5L384.2 255.5L384.3 232.5L384.4 232.5L384.5 242.2L384.6 232.5L384.7 247.7L384.8 275.3L384.9 260.1L385.0 232.5L385.1 266.7L385.2 242.2L385.3 232.5L385.4 260.1L385.5 266.7L385.6 232.5L385.7 266.7L385.8 251.8L385.9 251.8L386.0 247.7L386.1 266.7L386.2 266.7L386.3 255.5L386.4 232.5L386.5 255.5L386.6 246.3L386.7 266.7L386.8 232.5L386.9 260.1L387.0 255.5L387.1 266.7L387.2 255.5L387.3 255.5L387.4 255.5L387.5 266.7L387.6 232.5L387.7 255.5L387.8 246.3L387.8 266.7L387.9 232.5L388.0 266.7L388.1 255.5L388.2 266.7L388.3 246.3L388.4 255.5L388.5 246.3L388.6 255.5L388.7 247.7L388.8 232.5L388.9 255.5L389.0 266.7L389.1 232.5L389.2 246.3L389.3 266.7L389.4 232.5L389.5 255.5L389.6 242.2L389.7 266.7L389.8 255.5L389.9 251.8L390.0 232.5L390.1 232.5L390.2 246.3L390.3 232.5L390.4 255.5L390.5 246.3L390.6 232.5L390.7 232.5L390.8 251.8L390.9 232.5L391.0 232.5L391.1 255.5L391.2 232.5L391.3 232.5L391.4 232.5L391.5 247.7L391.6 232.5L391.7 232.5L391.8 232.5L391.9 232.5L392.0 242.2L392.1 232.5L392.2 232.5L392.3 232.5L392.4 232.5L392.5 232.5L392.6 255.5L392.7 255.5L392.8 232.5L392.9 255.5L393.0 232.5L393.1 232.5L393.2 232.5L393.3 232.5L393.4 232.5L393.5 246.3L393.6 232.5L393.7 255.5L393.8 255.5L393.9 255.5L394.0 232.5L394.1 247.7L394.2 255.5L394.3 232.5L394.4 242.2L394.5 232.5L394.6 255.5L394.7 246.3L394.8 247.7L394.9 266.7L395.0 232.5L395.1 232.5L395.2 232.5L395.3 232.5L395.4 232.5L395.5 232.5L395.6 232.5L395.7 232.5L395.8 255.5L395.9 232.5L396.0 232.5L396.1 255.5L396.2 232.5L396.3 260.1L396.4 232.5L396.5 232.5L396.6 232.5L396.7 232.5L396.8 242.2L396.9 232.5L397.0 255.5L397.1 232.5L397.2 232.5L397.3 246.3L397.4 255.5L397.5 232.5L397.6 255.5L397.7 232.5L397.8 255.5L397.9 232.5L398.0 246.3L398.1 232.5L398.2 266.7L398.3 277.8L398.4 255.5L398.5 232.5L398.6 255.5L398.7 232.5L398.8 232.5L398.9 232.5L399.0 232.5L399.1 255.5L399.2 255.5L399.3 232.5L399.4 232.5L399.5 232.5L399.6 232.5L399.7 232.5L399.8 246.3L399.9 232.5L400.0 232.5L400.1 232.5L400.2 255.5L400.3 232.5L400.4 232.5L400.5 232.5L400.6 232.5L400.7 232.5L400.8 232.5L400.9 232.5L401.0 242.2L401.1 255.5L401.2 255.5L401.3 255.5L401.4 232.5L401.5 232.5L401.6 255.5L401.7 247.7L401.8 232.5L401.9 232.5L402.0 232.5L402.1 247.7L402.2 255.5L402.3 232.5L402.4 255.5L402.5 232.5L402.6 232.5L402.7 260.1L402.8 232.5L402.9 255.5L403.0 232.5L403.1 242.2L403.1 232.5L403.2 255.5L403.3 242.2L403.4 242.2L403.5 232.5L403.6 232.5L403.7 232.5L403.8 242.2L403.9 255.5L404.0 232.5L404.1 255.5L404.2 232.5L404.3 251.8L404.4 255.5L404.5 232.5L404.6 232.5L404.7 255.5L404.8 266.7L404.9 232.5L405.0 246.3L405.1 232.5L405.2 255.5L405.3 242.2L405.4 232.5L405.5 232.5L405.6 232.5L405.7 232.5L405.8 232.5L405.9 246.3L406.0 260.1L406.1 232.5L406.2 232.5L406.3 232.5L406.4 232.5L406.5 232.5L406.6 232.5L406.7 232.5L406.8 232.5L406.9 232.5L407.0 251.8L407.1 232.5L407.2 232.5L407.3 232.5L407.4 232.5L407.5 255.5L407.6 232.5L407.7 255.5L407.8 242.2L407.9 255.5L408.0 232.5L408.1 232.5L408.2 255.5L408.3 232.5L408.4 232.5L408.5 242.2L408.6 255.5L408.7 232.5L408.8 232.5L408.9 260.1L409.0 232.5L409.1 232.5L409.2 232.5L409.3 232.5L409.4 255.5L409.5 246.3L409.6 246.3L409.7 232.5L409.8 232.5L409.9 251.8L410.0 232.5L410.1 260.1L410.2 232.5L410.3 232.5L410.4 255.5L410.5 232.5L410.6 232.5L410.7 232.5L410.8 260.1L410.9 232.5L411.0 232.5L411.1 232.5L411.2 255.5L411.3 247.7L411.4 232.5L411.5 232.5L411.6 232.5L411.7 232.5L411.8 247.7L411.9 232.5L412.0 232.5L412.1 232.5L412.2 247.7L412.3 255.5L412.4 232.5L412.5 232.5L412.6 255.5L412.7 280.1L412.8 232.5L412.9 232.5L413.0 232.5L413.1 255.5L413.2 232.5L413.3 232.5L413.4 232.5L413.5 232.5L413.6 255.5L413.7 255.5L413.8 232.5L413.9 247.7L414.0 255.5L414.1 232.5L414.2 232.5L414.3 232.5L414.4 266.7L414.5 232.5L414.6 266.7L414.7 232.5L414.8 232.5L414.9 232.5L415.0 266.7L415.1 232.5L415.2 232.5L415.3 266.7L415.4 251.8L415.5 232.5L415.6 232.5L415.7 266.7L415.8 266.7L415.9 232.5L416.0 232.5L416.1 255.5L416.2 255.5L416.3 255.5L416.4 255.5L416.5 266.7L416.6 266.7L416.7 246.3L416.8 266.7L416.9 232.5L417.0 255.5L417.1 232.5L417.2 232.5L417.3 247.7L417.4 255.5L417.5 266.7L417.6 232.5L417.7 232.5L417.8 232.5L417.9 255.5L418.0 242.2L418.1 232.5L418.2 232.5L418.3 242.2L418.4 246.3L418.4 269.8L418.5 260.1L418.6 232.5L418.7 232.5L418.8 266.7L418.9 232.5L419.0 232.5L419.1 232.5L419.2 232.5L419.3 232.5L419.4 232.5L419.5 232.5L419.6 251.8L419.7 280.1L419.8 255.5L419.9 232.5L420.0 232.5L420.1 232.5L420.2 247.7L420.3 232.5L420.4 255.5L420.5 255.5L420.6 232.5L420.7 232.5L420.8 260.1L420.9 232.5L421.0 232.5L421.1 232.5L421.2 255.5L421.3 232.5L421.4 251.8L421.5 266.7L421.6 232.5L421.7 255.5L421.8 246.3L421.9 232.5L422.0 255.5L422.1 255.5L422.2 255.5L422.3 232.5L422.4 232.5L422.5 232.5L422.6 266.7L422.7 232.5L422.8 266.7L422.9 251.8L423.0 232.5L423.1 260.1L423.2 266.7L423.3 232.5L423.4 266.7L423.5 255.5L423.6 266.7L423.7 255.5L423.8 266.7L423.9 232.5L424.0 232.5L424.1 232.5L424.2 242.2L424.3 260.1L424.4 232.5L424.5 232.5L424.6 232.5L424.7 255.5L424.8 232.5L424.9 232.5L425.0 232.5L425.1 255.5L425.2 255.5L425.3 247.7L425.4 232.5L425.5 232.5L425.6 232.5L425.7 255.5L425.8 255.5L425.9 255.5L426.0 232.5L426.1 232.5L426.2 255.5L426.3 251.8L426.4 242.2L426.5 255.5L426.6 266.7L426.7 247.7L426.8 232.5L426.9 232.5L427.0 255.5L427.1 247.7L427.2 251.8L427.3 255.5L427.4 255.5L427.5 251.8L427.6 232.5L427.7 232.5L427.8 255.5L427.9 266.7L428.0 247.7L428.1 266.7L428.2 232.5L428.3 247.7L428.4 255.5L428.5 246.3L428.6 260.1L428.7 232.5L428.8 260.1L428.9 232.5L429.0 255.5L429.1 232.5L429.2 266.7L429.3 255.5L429.4 232.5L429.5 266.7L429.6 255.5L429.7 251.8L429.8 232.5L429.9 266.7L430.0 266.7L430.1 266.7L430.2 266.7L430.3 232.5L430.4 232.5L430.5 255.5L430.6 247.7L430.7 255.5L430.8 255.5L430.9 232.5L431.0 232.5L431.1 232.5L431.2 232.5L431.3 232.5L431.4 232.5L431.5 255.5L431.6 232.5L431.7 255.5L431.8 232.5L431.9 247.7L432.0 232.5L432.1 266.7L432.2 255.5L432.3 255.5L432.4 255.5L432.5 255.5L432.6 255.5L432.7 232.5L432.8 232.5L432.9 255.5L433.0 232.5L433.1 255.5L433.2 266.7L433.3 255.5L433.4 255.5L433.5 247.7L433.6 232.5L433.7 232.5L433.7 232.5L433.8 260.1L433.9 232.5L434.0 232.5L434.1 255.5L434.2 232.5L434.3 269.8L434.4 255.5L434.5 266.7L434.6 232.5L434.7 232.5L434.8 232.5L434.9 242.2L435.0 266.7L435.1 232.5L435.2 255.5L435.3 260.1L435.4 242.2L435.5 255.5L435.6 251.8L435.7 232.5L435.8 232.5L435.9 255.5L436.0 232.5L436.1 247.7L436.2 232.5L436.3 232.5L436.4 255.5L436.5 232.5L436.6 232.5L436.7 232.5L436.8 232.5L436.9 255.5L437.0 246.3L437.1 232.5L437.2 255.5L437.3 232.5L437.4 251.8L437.5 232.5L437.6 232.5L437.7 255.5L437.8 255.5L437.9 242.2L438.0 255.5L438.1 232.5L438.2 255.5L438.3 232.5L438.4 232.5L438.5 232.5L438.6 255.5L438.7 255.5L438.8 232.5L438.9 232.5L439.0 255.5L439.1 255.5L439.2 266.7L439.3 266.7L439.4 232.5L439.5 232.5L439.6 242.2L439.7 269.8L439.8 232.5L439.9 232.5L440.0 266.7L440.1 266.7L440.2 255.5L440.3 255.5L440.4 232.5L440.5 255.5L440.6 247.7L440.7 266.7L440.8 251.8L440.9 255.5L441.0 232.5L441.1 232.5L441.2 232.5L441.3 232.5L441.4 232.5L441.5 255.5L441.6 232.5L441.7 251.8L441.8 232.5L441.9 255.5L442.0 255.5L442.1 246.3L442.2 232.5L442.3 255.5L442.4 232.5L442.5 255.5L442.6 255.5L442.7 260.1L442.8 255.5L442.9 232.5L443.0 255.5L443.1 232.5L443.2 232.5L443.3 255.5L443.4 255.5L443.5 255.5L443.6 255.5L443.7 232.5L443.8 255.5L443.9 266.7L444.0 255.5L444.1 232.5L444.2 247.7L444.3 242.2L444.4 247.7L444.5 232.5L444.6 260.1L444.7 251.8L444.8 232.5L444.9 266.7L445.0 255.5L445.1 232.5L445.2 246.3L445.3 232.5L445.4 232.5L445.5 232.5L445.6 255.5L445.7 232.5L445.8 266.7L445.9 255.5L446.0 255.5L446.1 266.7L446.2 255.5L446.3 232.5L446.4 255.5L446.5 266.7L446.6 255.5L446.7 232.5L446.8 242.2L446.9 255.5L447.0 232.5L447.1 255.5L447.2 232.5L447.3 255.5L447.4 266.7L447.5 232.5L447.6 251.8L447.7 255.5L447.8 232.5L447.9 232.5L448.0 255.5L448.1 232.5L448.2 246.3L448.3 232.5L448.4 255.5L448.5 232.5L448.6 232.5L448.7 247.7L448.8 255.5L448.9 255.5L448.9 255.5L449.0 232.5L449.1 255.5L449.2 232.5L449.3 232.5L449.4 232.5L449.5 242.2L449.6 232.5L449.7 232.5L449.8 232.5L449.9 255.5L450.0 232.5L450.1 255.5L450.2 266.7L450.3 232.5L450.4 255.5L450.5 266.7L450.6 232.5L450.7 232.5L450.8 266.7L450.9 232.5L451.0 232.5L451.1 255.5L451.2 232.5L451.3 232.5L451.4 232.5L451.5 232.5L451.6 232.5L451.7 255.5L451.8 280.1L451.9 232.5L452.0 255.5L452.1 266.7L452.2 232.5L452.3 266.7L452.4 242.2L452.5 247.7L452.6 232.5L452.7 255.5L452.8 247.7L452.9 266.7L453.0 266.7L453.1 255.5L453.2 232.5L453.3 266.7L453.4 247.7L453.5 247.7L453.6 266.7L453.7 232.5L453.8 255.5L453.9 232.5L454.0 255.5L454.1 232.5L454.2 232.5L454.3 232.5L454.4 247.7L454.5 232.5L454.6 232.5L454.7 255.5L454.8 266.7L454.9 232.5L455.0 232.5L455.1 232.5L455.2 251.8L455.3 251.8L455.4 232.5L455.5 266.7L455.6 266.7L455.7 232.5L455.8 232.5L455.9 232.5L456.0 260.1L456.1 266.7L456.2 255.5L456.3 232.5L456.4 232.5L456.5 232.5L456.6 232.5L456.7 255.5L456.8 266.7L456.9 255.5L457.0 242.2L457.1 232.5L457.2 232.5L457.3 232.5L457.4 255.5L457.5 266.7L457.6 246.3L457.7 255.5L457.8 266.7L457.9 232.5L458.0 266.7L458.1 232.5L458.2 232.5L458.3 232.5L458.4 251.8L458.5 246.3L458.6 232.5L458.7 246.3L458.8 232.5L458.9 232.5L459.0 255.5L459.1 232.5L459.2 232.5L459.3 255.5L459.4 266.7L459.5 255.5L459.6 255.5L459.7 232.5L459.8 232.5L459.9 232.5L460.0 255.5L460.1 251.8L460.2 232.5L460.3 255.5L460.4 255.5L460.5 232.5L460.6 255.5L460.7 232.5L460.8 232.5L460.9 255.5L461.0 246.3L461.1 232.5L461.2 255.5L461.3 246.3L461.4 232.5L461.5 251.8L461.6 255.5L461.7 232.5L461.8 232.5L461.9 232.5L462.0 255.5L462.1 255.5L462.2 232.5L462.3 232.5L462.4 232.5L462.5 232.5L462.6 232.5L462.7 255.5L462.8 232.5L462.9 232.5L463.0 255.5L463.1 255.5L463.2 255.5L463.3 255.5L463.4 232.5L463.5 266.7L463.6 246.3L463.7 255.5L463.8 255.5L463.9 247.7L464.0 232.5L464.1 266.7L464.2 232.5L464.2 266.7L464.3 251.8L464.4 232.5L464.5 255.5L464.6 247.7L464.7 266.7L464.8 232.5L464.9 232.5L465.0 255.5L465.1 242.2L465.2 232.5L465.3 255.5L465.4 266.7L465.5 232.5L465.6 232.5L465.7 255.5L465.8 232.5L465.9 247.7L466.0 247.7L466.1 232.5L466.2 255.5L466.3 232.5L466.4 255.5L466.5 232.5L466.6 232.5L466.7 232.5L466.8 232.5L466.9 255.5L467.0 255.5L467.1 251.8L467.2 232.5L467.3 232.5L467.4 232.5L467.5 232.5L467.6 232.5L467.7 232.5L467.8 242.2L467.9 232.5L468.0 255.5L468.1 232.5L468.2 232.5L468.3 255.5L468.4 255.5L468.5 232.5L468.6 232.5L468.7 246.3L468.8 232.5L468.9 255.5L469.0 232.5L469.1 251.8L469.2 232.5L469.3 251.8L469.4 242.2L469.5 246.3L469.6 232.5L469.7 255.5L469.8 232.5L469.9 255.5L470.0 269.8L470.1 232.5L470.2 255.5L470.3 247.7L470.4 255.5L470.5 232.5L470.6 232.5L470.7 232.5L470.8 232.5L470.9 255.5L471.0 242.2L471.1 255.5L471.2 232.5L471.3 247.7L471.4 247.7L471.5 232.5L471.6 255.5L471.7 255.5L471.8 232.5L471.9 232.5L472.0 255.5L472.1 266.7L472.2 232.5L472.3 232.5L472.4 246.3L472.5 232.5L472.6 232.5L472.7 255.5L472.8 232.5L472.9 255.5L473.0 255.5L473.1 232.5L473.2 232.5L473.3 260.1L473.4 255.5L473.5 255.5L473.6 266.7L473.7 232.5L473.8 247.7L473.9 255.5L474.0 242.2L474.1 247.7L474.2 232.5L474.3 232.5L474.4 232.5L474.5 266.7L474.6 232.5L474.7 255.5L474.8 269.8L474.9 255.5L475.0 232.5L475.1 232.5L475.2 232.5L475.3 232.5L475.4 255.5L475.5 232.5L475.6 255.5L475.7 232.5L475.8 255.5L475.9 242.2L476.0 232.5L476.1 232.5L476.2 255.5L476.3 255.5L476.4 247.7L476.5 255.5L476.6 247.7L476.7 260.1L476.8 232.5L476.9 232.5L477.0 232.5L477.1 255.5L477.2 232.5L477.3 260.1L477.4 232.5L477.5 255.5L477.6 232.5L477.7 255.5L477.8 232.5L477.9 255.5L478.0 255.5L478.1 242.2L478.2 251.8L478.3 246.3L478.4 255.5L478.5 232.5L478.6 232.5L478.7 232.5L478.8 232.5L478.9 255.5L479.0 232.5L479.1 232.5L479.2 232.5L479.3 232.5L479.4 246.3L479.5 232.5L479.5 232.5L479.6 232.5L479.7 232.5L479.8 255.5L479.9 232.5L480.0 232.5L480.1 232.5L480.2 255.5L480.3 247.7L480.4 232.5L480.5 255.5L480.6 232.5L480.7 232.5L480.8 232.5L480.9 232.5L481.0 232.5L481.1 242.2L481.2 232.5L481.3 242.2L481.4 266.7L481.5 232.5L481.6 232.5L481.7 246.3L481.8 232.5L481.9 232.5L482.0 232.5L482.1 255.5L482.2 246.3L482.3 255.5L482.4 255.5L482.5 266.7L482.6 251.8L482.7 232.5L482.8 232.5L482.9 232.5L483.0 255.5L483.1 251.8L483.2 266.7L483.3 266.7L483.4 255.5L483.5 232.5L483.6 232.5L483.7 232.5L483.8 232.5L483.9 232.5L484.0 255.5L484.1 232.5L484.2 266.7L484.3 255.5L484.4 247.7L484.5 242.2L484.6 255.5L484.7 260.1L484.8 232.5L484.9 232.5L485.0 255.5L485.1 232.5L485.2 232.5L485.3 232.5L485.4 255.5L485.5 255.5L485.6 255.5L485.7 232.5L485.8 232.5L485.9 232.5L486.0 232.5L486.1 247.7L486.2 255.5L486.3 232.5L486.4 232.5L486.5 255.5L486.6 232.5L486.7 232.5L486.8 232.5L486.9 232.5L487.0 232.5L487.1 255.5L487.2 232.5L487.3 255.5L487.4 246.3L487.5 251.8L487.6 232.5L487.7 255.5L487.8 255.5L487.9 232.5L488.0 232.5L488.1 232.5L488.2 255.5L488.3 255.5L488.4 247.7L488.5 232.5L488.6 255.5L488.7 232.5L488.8 232.5L488.9 255.5L489.0 255.5L489.1 232.5L489.2 246.3L489.3 232.5L489.4 255.5L489.5 232.5L489.6 232.5L489.7 232.5L489.8 232.5L489.9 255.5L490.0 232.5L490.1 255.5L490.2 266.7L490.3 255.5L490.4 266.7L490.5 255.5L490.6 255.5L490.7 246.3L490.8 255.5L490.9 232.5L491.0 232.5L491.1 232.5L491.2 251.8L491.3 266.7L491.4 232.5L491.5 260.1L491.6 246.3L491.7 232.5L491.8 255.5L491.9 242.2L492.0 255.5L492.1 260.1L492.2 255.5L492.3 255.5L492.4 255.5L492.5 232.5L492.6 255.5L492.7 232.5L492.8 255.5L492.9 232.5L493.0 232.5L493.1 232.5L493.2 266.7L493.3 232.5L493.4 232.5L493.5 242.2L493.6 232.5L493.7 232.5L493.8 255.5L493.9 242.2L494.0 260.1L494.1 232.5L494.2 242.2L494.3 266.7L494.4 255.5L494.5 232.5L494.6 232.5L494.7 232.5L494.8 232.5L494.8 232.5L494.9 255.5L495.0 232.5L495.1 246.3L495.2 255.5L495.3 255.5L495.4 255.5L495.5 232.5L495.6 255.5L495.7 232.5L495.8 255.5L495.9 251.8L496.0 242.2L496.1 242.2L496.2 232.5L496.3 242.2L496.4 232.5L496.5 232.5L496.6 246.3L496.7 232.5L496.8 232.5L496.9 232.5L497.0 232.5L497.1 232.5L497.2 255.5L497.3 232.5L497.4 232.5L497.5 232.5L497.6 232.5L497.7 260.1L497.8 232.5L497.9 232.5L498.0 255.5L498.1 232.5L498.2 232.5L498.3 232.5L498.4 232.5L498.5 255.5L498.6 255.5L498.7 232.5L498.8 255.5L498.9 232.5L499.0 242.2L499.1 255.5L499.2 232.5L499.3 255.5L499.4 255.5L499.5 255.5L499.6 255.5L499.7 232.5L499.8 251.8L499.9 232.5L500.0 266.7L500.1 266.7L500.2 232.5L500.3 255.5L500.4 251.8L500.5 232.5L500.6 266.7L500.7 266.7L500.8 232.5L500.9 232.5L501.0 232.5L501.1 232.5L501.2 232.5L501.3 232.5L501.4 266.7L501.5 232.5L501.6 251.8L501.7 232.5L501.8 232.5L501.9 255.5L502.0 266.7L502.1 232.5L502.2 242.2L502.3 266.7L502.4 232.5L502.5 255.5L502.6 266.7L502.7 255.5L502.8 232.5L502.9 232.5L503.0 232.5L503.1 232.5L503.2 255.5L503.3 280.1L503.4 232.5L503.5 255.5L503.6 255.5L503.7 266.7L503.8 246.3L503.9 266.7L504.0 232.5L504.1 266.7L504.2 266.7L504.3 232.5L504.4 232.5L504.5 232.5L504.6 246.3L504.7 232.5L504.8 247.7L504.9 232.5L505.0 277.8L505.1 242.2L505.2 255.5L505.3 246.3L505.4 232.5L505.5 255.5L505.6 260.1L505.7 232.5L505.8 232.5L505.9 232.5L506.0 266.7L506.1 232.5L506.2 255.5L506.3 232.5L506.4 266.7L506.5 232.5L506.6 255.5L506.7 255.5L506.8 266.7L506.9 247.7L507.0 232.5L507.1 232.5L507.2 232.5L507.3 266.7L507.4 255.5L507.5 260.1L507.6 232.5L507.7 255.5L507.8 255.5L507.9 255.5L508.0 232.5L508.1 255.5L508.2 232.5L508.3 255.5L508.4 266.7L508.5 255.5L508.6 255.5L508.7 232.5L508.8 255.5L508.9 232.5L509.0 255.5L509.1 266.7L509.2 247.7L509.3 232.5L509.4 232.5L509.5 232.5L509.6 255.5L509.7 232.5L509.8 232.5L509.9 232.5L510.0 260.1L510.1 232.5L510.1 232.5L510.2 266.7L510.3 232.5L510.4 255.5L510.5 232.5L510.6 255.5L510.7 251.8L510.8 232.5L510.9 260.1L511.0 232.5L511.1 266.7L511.2 242.2L511.3 232.5L511.4 255.5L511.5 255.5L511.6 255.5L511.7 266.7L511.8 255.5L511.9 246.3L512.0 255.5L512.1 247.7L512.2 232.5L512.3 255.5L512.4 255.5L512.5 247.7L512.6 232.5L512.7 232.5L512.8 246.3L512.9 232.5L513.0 255.5L513.1 266.7L513.2 232.5L513.3 232.5L513.4 266.7L513.5 232.5L513.6 266.7L513.7 255.5L513.8 255.5L513.9 266.7L514.0 232.5L514.1 255.5L514.2 246.3L514.3 232.5L514.4 255.5L514.5 255.5L514.6 232.5L514.7 232.5L514.8 246.3L514.9 255.5L515.0 266.7L515.1 232.5L515.2 255.5L515.3 266.7L515.4 232.5L515.5 232.5L515.6 232.5L515.7 246.3L515.8 255.5L515.9 242.2L516.0 232.5L516.1 255.5L516.2 255.5L516.3 232.5L516.4 232.5L516.5 232.5L516.6 232.5L516.7 255.5L516.8 232.5L516.9 232.5L517.0 232.5L517.1 255.5L517.2 232.5L517.3 232.5L517.4 232.5L517.5 232.5L517.6 260.1L517.7 232.5L517.8 255.5L517.9 232.5L518.0 232.5L518.1 232.5L518.2 255.5L518.3 232.5L518.4 251.8L518.5 232.5L518.6 232.5L518.7 242.2L518.8 251.8L518.9 255.5L519.0 232.5L519.1 247.7L519.2 246.3L519.3 232.5L519.4 232.5L519.5 232.5L519.6 251.8L519.7 232.5L519.8 269.8L519.9 246.3L520.0 242.2L520.1 260.1L520.2 255.5L520.3 232.5L520.4 232.5L520.5 266.7L520.6 232.5L520.7 232.5L520.8 255.5L520.9 260.1L521.0 232.5L521.1 266.7L521.2 255.5L521.3 232.5L521.4 242.2L521.5 255.5L521.6 277.8L521.7 232.5L521.8 232.5L521.9 255.5L522.0 255.5L522.1 255.5L522.2 266.7L522.3 255.5L522.4 232.5L522.5 232.5L522.6 255.5L522.7 255.5L522.8 266.7L522.9 260.1L523.0 255.5L523.1 260.1L523.2 266.7L523.3 255.5L523.4 232.5L523.5 232.5L523.6 232.5L523.7 255.5L523.8 232.5L523.9 255.5L524.0 232.5L524.1 232.5L524.2 255.5L524.3 232.5L524.4 232.5L524.5 232.5L524.6 246.3L524.7 232.5L524.8 232.5L524.9 232.5L525.0 232.5L525.1 232.5L525.2 255.5L525.3 232.5L525.4 232.5L525.4 255.5L525.5 232.5L525.6 232.5L525.7 255.5L525.8 232.5L525.9 255.5L526.0 232.5L526.1 255.5L526.2 232.5L526.3 232.5L526.4 232.5L526.5 232.5L526.6 255.5L526.7 232.5L526.8 266.7L526.9 232.5L527.0 242.2L527.1 232.5L527.2 251.8L527.3 266.7L527.4 266.7L527.5 242.2L527.6 255.5L527.7 255.5L527.8 246.3L527.9 232.5L528.0 232.5L528.1 232.5L528.2 232.5L528.3 232.5L528.4 232.5L528.5 232.5L528.6 255.5L528.7 232.5L528.8 255.5L528.9 246.3L529.0 232.5L529.1 232.5L529.2 232.5L529.3 232.5L529.4 232.5L529.5 251.8L529.6 251.8L529.7 232.5L529.8 232.5L529.9 232.5L530.0 255.5L530.1 255.5L530.2 232.5L530.3 232.5L530.4 255.5L530.5 232.5L530.6 255.5L530.7 242.2L530.8 232.5L530.9 232.5L531.0 255.5L531.1 232.5L531.2 232.5L531.3 255.5L531.4 232.5L531.5 255.5L531.6 242.2L531.7 255.5L531.8 232.5L531.9 232.5L532.0 232.5L532.1 232.5L532.2 255.5L532.3 232.5L532.4 232.5L532.5 255.5L532.6 242.2L532.7 266.7L532.8 247.7L532.9 255.5L533.0 232.5L533.1 232.5L533.2 255.5L533.3 266.7L533.4 266.7L533.5 246.3L533.6 266.7L533.7 242.2L533.8 232.5L533.9 266.7L534.0 266.7L534.1 247.7L534.2 255.5L534.3 242.2L534.4 232.5L534.5 266.7L534.6 232.5L534.7 255.5L534.8 266.7L534.9 232.5L535.0 242.2L535.1 242.2L535.2 242.2L535.3 266.7L535.4 232.5L535.5 255.5L535.6 260.1L535.7 266.7L535.8 232.5L535.9 255.5L536.0 232.5L536.1 255.5L536.2 255.5L536.3 255.5L536.4 266.7L536.5 266.7L536.6 232.5L536.7 232.5L536.8 232.5L536.9 255.5L537.0 255.5L537.1 266.7L537.2 247.7L537.3 260.1L537.4 232.5L537.5 232.5L537.6 255.5L537.7 255.5L537.8 251.8L537.9 266.7L538.0 266.7L538.1 266.7L538.2 242.2L538.3 232.5L538.4 255.5L538.5 232.5L538.6 251.8L538.7 251.8L538.8 266.7L538.9 255.5L539.0 251.8L539.1 266.7L539.2 255.5L539.3 232.5L539.4 260.1L539.5 232.5L539.6 232.5L539.7 266.7L539.8 232.5L539.9 255.5L540.0 232.5L540.1 246.3L540.2 266.7L540.3 242.2L540.4 266.7L540.5 232.5L540.6 232.5L540.7 255.5L540.7 266.7L540.8 255.5L540.9 232.5L541.0 232.5L541.1 255.5L541.2 232.5L541.3 266.7L541.4 232.5L541.5 247.7L541.6 232.5L541.7 232.5L541.8 242.2L541.9 232.5L542.0 255.5L542.1 266.7L542.2 232.5L542.3 232.5L542.4 242.2L542.5 232.5L542.6 255.5L542.7 251.8L542.8 255.5L542.9 232.5L543.0 255.5L543.1 246.3L543.2 269.8L543.3 232.5L543.4 232.5L543.5 255.5L543.6 242.2L543.7 232.5L543.8 232.5L543.9 255.5L544.0 255.5L544.1 232.5L544.2 255.5L544.3 232.5L544.4 246.3L544.5 255.5L544.6 251.8L544.7 255.5L544.8 246.3L544.9 255.5L545.0 232.5L545.1 255.5L545.2 266.7L545.3 232.5L545.4 232.5L545.5 266.7L545.6 232.5L545.7 232.5L545.8 266.7L545.9 255.5L546.0 232.5L546.1 232.5L546.2 255.5L546.3 255.5L546.4 242.2L546.5 266.7L546.6 255.5L546.7 277.8L546.8 232.5L546.9 232.5L547.0 232.5L547.1 232.5L547.2 232.5L547.3 255.5L547.4 251.8L547.5 255.5L547.6 255.5L547.7 232.5L547.8 255.5L547.9 255.5L548.0 246.3L548.1 255.5L548.2 232.5L548.3 251.8L548.4 232.5L548.5 232.5L548.6 232.5L548.7 232.5L548.8 242.2L548.9 246.3L549.0 232.5L549.1 255.5L549.2 255.5L549.3 251.8L549.4 246.3L549.5 232.5L549.6 266.7L549.7 232.5L549.8 255.5L549.9 266.7L550.0 255.5L550.1 266.7L550.2 266.7L550.3 232.5L550.4 232.5L550.5 255.5L550.6 266.7L550.7 232.5L550.8 266.7L550.9 266.7L551.0 247.7L551.1 255.5L551.2 232.5L551.3 232.5L551.4 266.7L551.5 266.7L551.6 232.5L551.7 266.7L551.8 232.5L551.9 242.2L552.0 246.3L552.1 232.5L552.2 232.5L552.3 232.5L552.4 232.5L552.5 232.5L552.6 255.5L552.7 255.5L552.8 232.5L552.9 232.5L553.0 232.5L553.1 232.5L553.2 232.5L553.3 232.5L553.4 255.5L553.5 232.5L553.6 255.5L553.7 246.3L553.8 255.5L553.9 232.5L554.0 232.5L554.1 246.3L554.2 232.5L554.3 232.5L554.4 255.5L554.5 232.5L554.6 232.5L554.7 255.5L554.8 232.5L554.9 232.5L555.0 232.5L555.1 232.5L555.2 255.5L555.3 260.1L555.4 232.5L555.5 269.8L555.6 232.5L555.7 255.5L555.8 232.5L555.9 232.5L555.9 232.5L556.0 255.5L556.1 232.5L556.2 232.5L556.3 255.5L556.4 255.5L556.5 255.5L556.6 247.7L556.7 232.5L556.8 232.5L556.9 232.5L557.0 232.5L557.1 232.5L557.2 255.5L557.3 232.5L557.4 232.5L557.5 232.5L557.6 255.5L557.7 232.5L557.8 242.2L557.9 255.5L558.0 232.5L558.1 255.5L558.2 255.5L558.3 255.5L558.4 232.5L558.5 232.5L558.6 232.5L558.7 232.5L558.8 232.5L558.9 255.5L559.0 232.5L559.1 255.5L559.2 255.5L559.3 255.5L559.4 232.5L559.5 255.5L559.6 255.5L559.7 232.5L559.8 242.2L559.9 255.5L560.0 255.5L560.1 232.5L560.2 232.5L560.3 255.5L560.4 232.5L560.5 242.2L560.6 232.5L560.7 232.5L560.8 247.7L560.9 232.5L561.0 246.3L561.1 255.5L561.2 247.7L561.3 232.5L561.4 232.5L561.5 255.5L561.6 251.8L561.7 242.2L561.8 232.5L561.9 232.5L562.0 255.5L562.1 247.7L562.2 246.3L562.3 266.7L562.4 232.5L562.5 232.5L562.6 232.5L562.7 266.7L562.8 255.5L562.9 232.5L563.0 255.5L563.1 242.2L563.2 247.7L563.3 232.5L563.4 232.5L563.5 255.5L563.6 255.5L563.7 232.5L563.8 255.5L563.9 255.5L564.0 255.5L564.1 266.7L564.2 255.5L564.3 255.5L564.4 232.5L564.5 232.5L564.6 232.5L564.7 232.5L564.8 232.5L564.9 246.3L565.0 255.5L565.1 232.5L565.2 232.5L565.3 232.5L565.4 246.3L565.5 269.8L565.6 232.5L565.7 266.7L565.8 255.5L565.9 232.5L566.0 246.3L566.1 232.5L566.2 266.7L566.3 266.7L566.4 251.8L566.5 255.5L566.6 266.7L566.7 232.5L566.8 266.7L566.9 246.3L567.0 260.1L567.1 255.5L567.2 246.3L567.3 232.5L567.4 232.5L567.5 255.5L567.6 232.5L567.7 255.5L567.8 266.7L567.9 255.5L568.0 255.5L568.1 232.5L568.2 242.2L568.3 255.5L568.4 266.7L568.5 232.5L568.6 232.5L568.7 232.5L568.8 255.5L568.9 246.3L569.0 266.7L569.1 232.5L569.2 255.5L569.3 232.5L569.4 232.5L569.5 247.7L569.6 232.5L569.7 266.7L569.8 232.5L569.9 232.5L570.0 242.2L570.1 266.7L570.2 232.5L570.3 232.5L570.4 232.5L570.5 266.7L570.6 232.5L570.7 266.7L570.8 251.8L570.9 246.3L571.0 266.7L571.1 232.5L571.2 232.5L571.2 255.5L571.3 232.5L571.4 266.7L571.5 232.5L571.6 275.3L571.7 255.5L571.8 255.5L571.9 232.5L572.0 251.8L572.1 232.5L572.2 232.5L572.3 255.5L572.4 232.5L572.5 247.7L572.6 255.5L572.7 232.5L572.8 266.7L572.9 232.5L573.0 255.5L573.1 255.5L573.2 255.5L573.3 255.5L573.4 255.5L573.5 255.5L573.6 255.5L573.7 266.7L573.8 251.8L573.9 266.7L574.0 232.5L574.1 242.2L574.2 232.5L574.3 260.1L574.4 232.5L574.5 255.5L574.6 246.3L574.7 255.5L574.8 255.5L574.9 260.1L575.0 266.7L575.1 266.7L575.2 232.5L575.3 232.5L575.4 266.7L575.5 232.5L575.6 251.8L575.7 266.7L575.8 247.7L575.9 266.7L576.0 255.5L576.1 232.5L576.2 255.5L576.3 266.7L576.4 232.5L576.5 232.5L576.6 251.8L576.7 247.7L576.8 232.5L576.9 275.3L577.0 255.5L577.1 232.5L577.2 255.5L577.3 232.5L577.4 232.5L577.5 232.5L577.6 232.5L577.7 232.5L577.8 255.5L577.9 232.5L578.0 232.5L578.1 255.5L578.2 232.5L578.3 232.5L578.4 232.5L578.5 255.5L578.6 255.5L578.7 255.5L578.8 232.5L578.9 255.5L579.0 260.1L579.1 255.5L579.2 232.5L579.3 232.5L579.4 255.5L579.5 232.5L579.6 255.5L579.7 232.5L579.8 232.5L579.9 232.5L580.0 255.5L580.1 255.5L580.2 232.5L580.3 255.5L580.4 232.5L580.5 232.5L580.6 232.5L580.7 232.5L580.8 232.5L580.9 232.5L581.0 232.5L581.1 232.5L581.2 232.5L581.3 232.5L581.4 232.5L581.5 232.5L581.6 255.5L581.7 232.5L581.8 255.5L581.9 266.7L582.0 255.5L582.1 266.7L582.2 246.3L582.3 242.2L582.4 255.5L582.5 247.7L582.6 266.7L582.7 266.7L582.8 232.5L582.9 232.5L583.0 232.5L583.1 232.5L583.2 232.5L583.3 232.5L583.4 232.5L583.5 255.5L583.6 255.5L583.7 232.5L583.8 255.5L583.9 266.7L584.0 255.5L584.1 232.5L584.2 251.8L584.3 232.5L584.4 255.5L584.5 269.8L584.6 232.5L584.7 232.5L584.8 232.5L584.9 266.7L585.0 269.8L585.1 255.5L585.2 232.5L585.3 232.5L585.4 266.7L585.5 255.5L585.6 266.7L585.7 255.5L585.8 255.5L585.9 247.7L586.0 232.5L586.1 255.5L586.2 266.7L586.3 232.5L586.4 232.5L586.5 232.5L586.5 255.5L586.6 255.5L586.7 247.7L586.8 232.5L586.9 266.7L587.0 255.5L587.1 247.7L587.2 266.7L587.3 232.5L587.4 232.5L587.5 266.7L587.6 266.7L587.7 266.7L587.8 242.2L587.9 255.5L588.0 232.5L588.1 232.5L588.2 251.8L588.3 255.5L588.4 247.7L588.5 232.5L588.6 266.7L588.7 232.5L588.8 266.7L588.9 255.5L589.0 232.5L589.1 232.5L589.2 255.5L589.3 232.5L589.4 255.5L589.5 255.5L589.6 232.5L589.7 247.7L589.8 255.5L589.9 251.8L590.0 255.5L590.1 232.5L590.2 232.5L590.3 255.5L590.4 232.5L590.5 260.1L590.6 232.5L590.7 247.7L590.8 232.5L590.9 232.5L591.0 242.2L591.1 255.5L591.2 255.5L591.3 251.8L591.4 255.5L591.5 251.8L591.6 266.7L591.7 242.2L591.8 255.5L591.9 232.5L592.0 232.5L592.1 232.5L592.2 232.5L592.3 232.5L592.4 255.5L592.5 232.5L592.6 232.5L592.7 242.2L592.8 232.5L592.9 232.5L593.0 232.5L593.1 247.7L593.2 232.5L593.3 232.5L593.4 232.5L593.5 246.3L593.6 232.5L593.7 246.3L593.8 251.8L593.9 232.5L594.0 255.5L594.1 255.5L594.2 232.5L594.3 232.5L594.4 266.7L594.5 232.5L594.6 266.7L594.7 255.5L594.8 232.5L594.9 232.5L595.0 232.5L595.1 232.5L595.2 232.5L595.3 266.7L595.4 255.5L595.5 232.5L595.6 260.1L595.7 266.7L595.8 255.5L595.9 247.7L596.0 266.7L596.1 251.8L596.2 232.5L596.3 232.5L596.4 266.7L596.5 232.5L596.6 255.5L596.7 232.5L596.8 260.1L596.9 232.5L597.0 232.5L597.1 255.5L597.2 255.5L597.3 255.5L597.4 255.5L597.5 255.5L597.6 242.2L597.7 232.5L597.8 232.5L597.9 232.5L598.0 232.5L598.1 232.5L598.2 255.5L598.3 255.5L598.4 232.5L598.5 232.5L598.6 232.5L598.7 232.5L598.8 232.5L598.9 232.5L599.0 255.5L599.1 242.2L599.2 232.5L599.3 232.5L599.4 255.5L599.5 232.5L599.6 255.5L599.7 255.5L599.8 232.5L599.9 232.5L600.0 255.5L600.1 255.5L600.2 255.5L600.3 247.7L600.4 232.5L600.5 255.5L600.6 232.5L600.7 232.5L600.8 247.7L600.9 232.5L601.0 255.5L601.1 255.5L601.2 255.5L601.3 232.5L601.4 242.2L601.5 255.5L601.6 232.5L601.7 232.5L601.8 255.5L601.8 246.3L601.9 232.5L602.0 232.5L602.1 255.5L602.2 232.5L602.3 232.5L602.4 232.5L602.5 232.5L602.6 232.5L602.7 242.2L602.8 260.1L602.9 255.5L603.0 251.8L603.1 255.5L603.2 232.5L603.3 247.7L603.4 232.5L603.5 232.5L603.6 232.5L603.7 255.5L603.8 232.5L603.9 232.5L604.0 246.3L604.1 232.5L604.2 232.5L604.3 232.5L604.4 255.5L604.5 232.5L604.6 255.5L604.7 232.5L604.8 232.5L604.9 247.7L605.0 232.5L605.1 255.5L605.2 232.5L605.3 232.5L605.4 246.3L605.5 232.5L605.6 232.5L605.7 251.8L605.8 232.5L605.9 232.5L606.0 232.5L606.1 232.5L606.2 232.5L606.3 232.5L606.4 232.5L606.5 232.5L606.6 232.5L606.7 255.5L606.8 280.1L606.9 232.5L607.0 255.5L607.1 232.5L607.2 232.5L607.3 242.2L607.4 232.5L607.5 255.5L607.6 232.5L607.7 255.5L607.8 242.2L607.9 232.5L608.0 232.5L608.1 232.5L608.2 255.5L608.3 232.5L608.4 232.5L608.5 232.5L608.6 232.5L608.7 232.5L608.8 232.5L608.9 255.5L609.0 232.5L609.1 255.5L609.2 242.2L609.3 232.5L609.4 255.5L609.5 266.7L609.6 247.7L609.7 232.5L609.8 266.7L609.9 242.2L610.0 232.5L610.1 246.3L610.2 255.5L610.3 255.5L610.4 251.8L610.5 232.5L610.6 255.5L610.7 232.5L610.8 232.5L610.9 266.7L611.0 255.5L611.1 242.2L611.2 255.5L611.3 232.5L611.4 251.8L611.5 242.2L611.6 232.5L611.7 232.5L611.8 266.7L611.9 255.5L612.0 266.7L612.1 232.5L612.2 246.3L612.3 232.5L612.4 255.5L612.5 266.7L612.6 232.5L612.7 232.5L612.8 255.5L612.9 232.5L613.0 232.5L613.1 232.5L613.2 255.5L613.3 260.1L613.4 255.5L613.5 266.7L613.6 232.5L613.7 255.5L613.8 255.5L613.9 246.3L614.0 255.5L614.1 232.5L614.2 232.5L614.3 232.5L614.4 255.5L614.5 255.5L614.6 247.7L614.7 255.5L614.8 232.5L614.9 266.7L615.0 266.7L615.1 232.5L615.2 255.5L615.3 247.7L615.4 255.5L615.5 242.2L615.6 266.7L615.7 266.7L615.8 255.5L615.9 232.5L616.0 247.7L616.1 255.5L616.2 232.5L616.3 255.5L616.4 232.5L616.5 255.5L616.6 266.7L616.7 232.5L616.8 255.5L616.9 255.5L617.0 232.5L617.1 255.5L617.1 255.5L617.2 232.5L617.3 232.5L617.4 232.5L617.5 232.5L617.6 255.5L617.7 232.5L617.8 232.5L617.9 232.5L618.0 255.5L618.1 232.5L618.2 266.7L618.3 247.7L618.4 266.7L618.5 232.5L618.6 242.2L618.7 232.5L618.8 266.7L618.9 232.5L619.0 266.7L619.1 232.5L619.2 247.7L619.3 232.5L619.4 232.5L619.5 266.7L619.6 242.2L619.7 232.5L619.8 246.3L619.9 266.7L620.0 247.7L620.1 255.5L620.2 255.5L620.3 255.5L620.4 255.5L620.5 255.5L620.6 255.5L620.7 255.5L620.8 232.5L620.9 232.5L621.0 232.5L621.1 255.5L621.2 232.5L621.3 246.3L621.4 255.5L621.5 255.5L621.6 232.5L621.7 251.8L621.8 266.7L621.9 266.7L622.0 242.2L622.1 269.8L622.2 242.2L622.3 247.7L622.4 255.5L622.5 232.5L622.6 255.5L622.7 255.5L622.8 255.5L622.9 251.8L623.0 251.8L623.1 232.5L623.2 260.1L623.3 232.5L623.4 255.5L623.5 232.5L623.6 255.5L623.7 232.5L623.8 251.8L623.9 232.5L624.0 255.5L624.1 255.5L624.2 242.2L624.3 232.5L624.4 232.5L624.5 232.5L624.6 255.5L624.7 232.5L624.8 232.5L624.9 232.5L625.0 232.5L625.1 246.3L625.2 255.5L625.3 232.5L625.4 242.2L625.5 232.5L625.6 232.5L625.7 242.2L625.8 232.5L625.9 255.5L626.0 255.5L626.1 232.5L626.2 232.5L626.3 232.5L626.4 242.2L626.5 232.5L626.6 255.5L626.7 266.7L626.8 266.7L626.9 266.7L627.0 266.7L627.1 232.5L627.2 266.7L627.3 266.7L627.4 232.5L627.5 266.7L627.6 232.5L627.7 242.2L627.8 232.5L627.9 255.5L628.0 232.5L628.1 266.7L628.2 232.5L628.3 255.5L628.4 255.5L628.5 266.7L628.6 242.2L628.7 266.7L628.8 232.5L628.9 255.5L629.0 266.7L629.1 266.7L629.2 255.5L629.3 232.5L629.4 246.3L629.5 232.5L629.6 232.5L629.7 266.7L629.8 247.7L629.9 266.7L630.0 266.7L630.1 232.5L630.2 232.5L630.3 266.7L630.4 255.5L630.5 232.5L630.6 232.5L630.7 232.5L630.8 232.5L630.9 255.5L631.0 232.5L631.1 232.5L631.2 255.5L631.3 255.5L631.4 247.7L631.5 232.5L631.6 242.2L631.7 255.5L631.8 255.5L631.9 255.5L632.0 246.3L632.1 232.5L632.2 255.5L632.3 255.5L632.4 232.5L632.4 255.5L632.5 232.5L632.6 232.5L632.7 232.5L632.8 232.5L632.9 255.5L633.0 232.5L633.1 255.5L633.2 232.5L633.3 232.5L633.4 255.5L633.5 255.5L633.6 255.5L633.7 255.5L633.8 232.5L633.9 242.2L634.0 242.2L634.1 232.5L634.2 255.5L634.3 255.5L634.4 232.5L634.5 255.5L634.6 232.5L634.7 251.8L634.8 232.5L634.9 255.5L635.0 247.7L635.1 232.5L635.2 232.5L635.3 232.5L635.4 255.5L635.5 251.8L635.6 232.5L635.7 255.5L635.8 255.5L635.9 246.3L636.0 280.1L636.1 255.5L636.2 266.7L636.3 255.5L636.4 232.5L636.5 255.5L636.6 232.5L636.7 232.5L636.8 232.5L636.9 232.5L637.0 266.7L637.1 232.5L637.2 255.5L637.3 266.7L637.4 247.7L637.5 266.7L637.6 255.5L637.7 232.5L637.8 232.5L637.9 255.5L638.0 251.8L638.1 232.5L638.2 251.8L638.3 232.5L638.4 232.5L638.5 232.5L638.6 232.5L638.7 255.5L638.8 255.5L638.9 232.5L639.0 255.5L639.1 232.5L639.2 255.5L639.3 232.5L639.4 255.5L639.5 232.5L639.6 232.5L639.7 242.2L639.8 232.5L639.9 232.5L640.0 232.5L640.1 232.5L640.2 232.5L640.3 232.5L640.4 255.5L640.5 251.8L640.6 232.5L640.7 232.5L640.8 266.7L640.9 255.5L641.0 232.5L641.1 255.5L641.2 266.7L641.3 255.5L641.4 232.5L641.5 255.5L641.6 232.5L641.7 242.2L641.8 255.5L641.9 266.7L642.0 247.7L642.1 232.5L642.2 255.5L642.3 232.5L642.4 266.7L642.5 251.8L642.6 232.5L642.7 255.5L642.8 247.7L642.9 255.5L643.0 260.1L643.1 232.5L643.2 255.5L643.3 255.5L643.4 242.2L643.5 232.5L643.6 255.5L643.7 255.5L643.8 255.5L643.9 255.5L644.0 255.5L644.1 232.5L644.2 247.7L644.3 232.5L644.4 255.5L644.5 255.5L644.6 232.5L644.7 255.5L644.8 232.5L644.9 255.5L645.0 232.5L645.1 232.5L645.2 255.5L645.3 246.3L645.4 232.5L645.5 266.7L645.6 266.7L645.7 232.5L645.8 247.7L645.9 232.5L646.0 242.2L646.1 232.5L646.2 232.5L646.3 242.2L646.4 232.5L646.5 232.5L646.6 232.5L646.7 255.5L646.8 266.7L646.9 242.2L647.0 266.7L647.1 255.5L647.2 232.5L647.3 266.7L647.4 266.7L647.5 242.2L647.6 255.5L647.6 266.7L647.7 242.2L647.8 232.5L647.9 251.8L648.0 266.7L648.1 232.5L648.2 260.1L648.3 232.5L648.4 232.5L648.5 251.8L648.6 255.5L648.7 266.7L648.8 232.5L648.9 277.8L649.0 266.7L649.1 255.5L649.2 232.5L649.3 255.5L649.4 266.7L649.5 255.5L649.6 232.5L649.7 255.5L649.8 232.5L649.9 255.5L650.0 266.7L650.1 255.5L650.2 266.7L650.3 260.1L650.4 255.5L650.5 232.5L650.6 255.5L650.7 232.5L650.8 242.2L650.9 255.5L651.0 255.5L651.1 232.5L651.2 232.5L651.3 232.5L651.4 247.7L651.5 232.5L651.6 255.5L651.7 232.5L651.8 255.5L651.9 255.5L652.0 232.5L652.1 232.5L652.2 247.7L652.3 232.5L652.4 255.5L652.5 232.5L652.6 255.5L652.7 232.5L652.8 247.7L652.9 232.5L653.0 242.2L653.1 232.5L653.2 247.7L653.3 232.5L653.4 255.5L653.5 246.3L653.6 255.5L653.7 232.5L653.8 232.5L653.9 247.7L654.0 232.5L654.1 232.5L654.2 255.5L654.3 269.8L654.4 266.7L654.5 266.7L654.6 255.5L654.7 251.8L654.8 255.5L654.9 255.5L655.0 232.5L655.1 232.5L655.2 232.5L655.3 232.5L655.4 251.8L655.5 232.5L655.6 232.5L655.7 232.5L655.8 232.5L655.9 247.7L656.0 242.2L656.1 251.8L656.2 255.5L656.3 255.5L656.4 232.5L656.5 232.5L656.6 251.8L656.7 232.5L656.8 255.5L656.9 255.5L657.0 247.7L657.1 266.7L657.2 242.2L657.3 266.7L657.4 255.5L657.5 266.7L657.6 255.5L657.7 232.5L657.8 266.7L657.9 255.5L658.0 255.5L658.1 255.5L658.2 255.5L658.3 251.8L658.4 255.5L658.5 232.5L658.6 266.7L658.7 232.5L658.8 247.7L658.9 232.5L659.0 232.5L659.1 277.8L659.2 232.5L659.3 251.8L659.4 247.7L659.5 232.5L659.6 255.5L659.7 255.5L659.8 232.5L659.9 255.5L660.0 232.5L660.1 266.7L660.2 232.5L660.3 242.2L660.4 242.2L660.5 232.5L660.6 255.5L660.7 247.7L660.8 232.5L660.9 242.2L661.0 232.5L661.1 242.2L661.2 232.5L661.3 232.5L661.4 255.5L661.5 232.5L661.6 232.5L661.7 232.5L661.8 232.5L661.9 232.5L662.0 232.5L662.1 232.5L662.2 232.5L662.3 232.5L662.4 232.5L662.5 255.5L662.6 247.7L662.7 232.5L662.8 247.7L662.9 242.2L662.9 255.5L663.0 232.5L663.1 255.5L663.2 232.5L663.3 232.5L663.4 255.5L663.5 246.3L663.6 232.5L663.7 232.5L663.8 232.5L663.9 255.5L664.0 242.2L664.1 232.5L664.2 232.5L664.3 232.5L664.4 255.5L664.5 255.5L664.6 255.5L664.7 269.8L664.8 260.1L664.9 232.5L665.0 232.5L665.1 232.5L665.2 232.5L665.3 255.5L665.4 255.5L665.5 232.5L665.6 255.5L665.7 232.5L665.8 232.5L665.9 255.5L666.0 251.8L666.1 232.5L666.2 246.3L666.3 232.5L666.4 242.2L666.5 255.5L666.6 255.5L666.7 242.2L666.8 232.5L666.9 255.5L667.0 242.2L667.1 255.5L667.2 232.5L667.3 232.5L667.4 255.5L667.5 255.5L667.6 255.5L667.7 255.5L667.8 232.5L667.9 232.5L668.0 232.5L668.1 251.8L668.2 242.2L668.3 247.7L668.4 232.5L668.5 232.5L668.6 232.5L668.7 232.5L668.8 255.5L668.9 255.5L669.0 255.5L669.1 232.5L669.2 255.5L669.3 232.5L669.4 232.5L669.5 232.5L669.6 232.5L669.7 246.3L669.8 255.5L669.9 232.5L670.0 232.5L670.1 232.5L670.2 232.5L670.3 232.5L670.4 260.1L670.5 269.8L670.6 232.5L670.7 232.5L670.8 232.5L670.9 232.5L671.0 232.5L671.1 255.5L671.2 232.5L671.3 232.5L671.4 232.5L671.5 242.2L671.6 232.5L671.7 232.5L671.8 255.5L671.9 232.5L672.0 232.5L672.1 242.2L672.2 242.2L672.3 255.5L672.4 232.5L672.5 232.5L672.6 232.5L672.7 232.5L672.8 246.3L672.9 255.5L673.0 232.5L673.1 232.5L673.2 232.5L673.3 232.5L673.4 232.5L673.5 255.5L673.6 232.5L673.7 255.5L673.8 232.5L673.9 251.8L674.0 232.5L674.1 255.5L674.2 242.2L674.3 232.5L674.4 232.5L674.5 232.5L674.6 266.7L674.7 255.5L674.8 232.5L674.9 232.5L675.0 255.5L675.1 232.5L675.2 232.5L675.3 266.7L675.4 232.5L675.5 232.5L675.6 255.5L675.7 255.5L675.8 255.5L675.9 255.5L676.0 251.8L676.1 255.5L676.2 247.7L676.3 266.7L676.4 255.5L676.5 266.7L676.6 266.7L676.7 251.8L676.8 255.5L676.9 266.7L677.0 242.2L677.1 247.7L677.2 251.8L677.3 266.7L677.4 266.7L677.5 255.5" stroke="#0072bd" stroke-width="1.5" fill="none" stroke-linejoin="round"/>
<path d="M51.6 367.7L61.5 266.3L71.4 298.1L81.4 248.4L91.3 240.8L101.2 239.4L111.2 239.4L121.1 240.1L131.0 243.5L141.0 242.2L150.9 244.2L160.8 238.0L170.8 240.1L180.7 236.0L190.6 235.5L200.6 237.0L210.5 237.0L220.4 236.9L230.4 237.0L240.3 236.9L250.2 237.1L260.2 237.7L270.1 237.0L280.1 236.9L290.0 237.0L299.9 237.1L309.9 237.0L319.8 237.2L329.7 237.0L339.7 237.1L349.6 237.2L359.5 237.3L369.5 237.0L379.4 236.9L389.3 237.3L399.3 237.0L409.2 237.2L419.1 237.3L429.1 237.2L439.0 237.0L448.9 237.0L458.9 237.3L468.8 237.1L478.8 237.3L488.7 237.0L498.6 237.2L508.6 237.0L518.5 236.9L528.4 237.1L538.4 236.9L548.3 237.2L558.2 237.3L568.2 237.1L578.1 237.3L588.0 237.2L598.0 237.2L607.9 237.1L617.8 237.3L627.8 237.3L637.7 237.0L647.6 237.2L657.6 236.9L667.5 237.0L677.5 237.4" stroke="#d95319" stroke-width="1.9" fill="none" stroke-linejoin="round"/>
</g>
<text x="51.4" y="387.9" class="tk" text-anchor="middle">0</text>
<text x="150.6" y="387.9" class="tk" text-anchor="middle">1000</text>
<text x="250.4" y="387.9" class="tk" text-anchor="middle">2000</text>
<text x="349.3" y="387.9" class="tk" text-anchor="middle">3000</text>
<text x="449.3" y="387.9" class="tk" text-anchor="middle">4000</text>
<text x="548.3" y="387.9" class="tk" text-anchor="middle">5000</text>
<text x="648.0" y="387.9" class="tk" text-anchor="middle">6000</text>
<text x="746.9" y="387.9" class="tk" text-anchor="middle">7000</text>
<text x="46.1" y="375.9" class="tk" text-anchor="end">0</text>
<text x="46.1" y="347.9" class="tk" text-anchor="end">0.2</text>
<text x="46.1" y="319.9" class="tk" text-anchor="end">0.4</text>
<text x="46.1" y="292.9" class="tk" text-anchor="end">0.6</text>
<text x="46.1" y="264.9" class="tk" text-anchor="end">0.8</text>
<text x="46.1" y="236.9" class="tk" text-anchor="end">1</text>
<text x="399" y="406.0" class="lb" text-anchor="middle">Iteration</text>
<text transform="translate(19.6 301.1) rotate(-90)" class="lb" text-anchor="middle">FScore</text>
<rect x="591.5" y="327.5" width="144.0" height="32.0" fill="#fff" stroke="#262626" stroke-width="1"/>
<path d="M595.0 336.0h40" stroke="#0072bd" stroke-width="2"/>
<path d="M595.0 350.8h40" stroke="#d95319" stroke-width="2"/>
<text x="638.2" y="339.8" class="lg">Training FScore</text>
<text x="638.2" y="354.6" class="lg">Validation FScore</text>
<circle cx="677.6" cy="255.5" r="4.45" fill="#0072bd"/>
<circle cx="677.6" cy="237.4" r="4.45" fill="#d95319"/>
<rect x="51.0" y="422.0" width="696.0" height="137.0" fill="#fff"/>
<path d="M51.5 422.0V559.0" stroke="rgba(38,38,38,0.15)" stroke-width="1" fill="none"/>
<path d="M150.5 422.0V559.0" stroke="rgba(38,38,38,0.15)" stroke-width="1" fill="none"/>
<path d="M249.5 422.0V559.0" stroke="rgba(38,38,38,0.15)" stroke-width="1" fill="none"/>
<path d="M349.5 422.0V559.0" stroke="rgba(38,38,38,0.15)" stroke-width="1" fill="none"/>
<path d="M448.5 422.0V559.0" stroke="rgba(38,38,38,0.15)" stroke-width="1" fill="none"/>
<path d="M547.5 422.0V559.0" stroke="rgba(38,38,38,0.15)" stroke-width="1" fill="none"/>
<path d="M647.5 422.0V559.0" stroke="rgba(38,38,38,0.15)" stroke-width="1" fill="none"/>
<path d="M746.5 422.0V559.0" stroke="rgba(38,38,38,0.15)" stroke-width="1" fill="none"/>
<path d="M51.0 558.5H747.0" stroke="rgba(38,38,38,0.15)" stroke-width="1" fill="none"/>
<path d="M51.0 513.5H747.0" stroke="rgba(38,38,38,0.15)" stroke-width="1" fill="none"/>
<path d="M51.0 468.5H747.0" stroke="rgba(38,38,38,0.15)" stroke-width="1" fill="none"/>
<path d="M51.0 422.5H747.0" stroke="rgba(38,38,38,0.15)" stroke-width="1" fill="none"/>
<path d="M51.5 422.0V558.5H747.0M51.5 558.5v-6.5M150.5 558.5v-6.5M249.5 558.5v-6.5M349.5 558.5v-6.5M448.5 558.5v-6.5M547.5 558.5v-6.5M647.5 558.5v-6.5M746.5 558.5v-6.5M51.5 558.5h6.5M51.5 513.5h6.5M51.5 468.5h6.5M51.5 422.5h6.5" stroke="#262626" stroke-width="1" fill="none"/>
<clipPath id="cp2"><rect x="50.5" y="421.0" width="697.0" height="138.6"/></clipPath>
<g clip-path="url(#cp2)">
<path d="M51.6 418.9L51.7 456.0L51.8 509.5L51.9 529.5L52.0 535.6L52.1 537.4L52.2 536.1L52.3 537.1L52.4 539.2L52.5 541.6L52.6 541.0L52.7 542.8L52.8 538.4L52.9 543.3L53.0 542.0L53.1 545.6L53.2 543.6L53.3 542.3L53.4 546.9L53.5 545.6L53.6 541.2L53.7 543.1L53.8 543.4L53.9 547.4L54.0 541.7L54.1 544.1L54.2 543.5L54.3 551.0L54.4 545.3L54.5 543.1L54.6 550.7L54.7 546.7L54.8 552.1L54.9 546.7L55.0 545.3L55.1 553.9L55.2 549.0L55.3 554.5L55.4 551.2L55.5 544.6L55.6 546.0L55.7 551.0L55.8 551.0L55.9 546.2L56.0 554.2L56.1 556.6L56.2 548.4L56.3 548.9L56.4 551.4L56.5 552.1L56.6 556.8L56.7 554.2L56.8 546.6L56.9 552.5L57.0 556.2L57.1 557.6L57.2 554.2L57.3 551.0L57.4 546.9L57.5 547.1L57.6 556.7L57.7 549.8L57.8 556.0L57.9 556.5L58.0 551.1L58.1 552.3L58.2 557.8L58.3 551.5L58.4 556.7L58.5 550.7L58.6 553.0L58.7 553.2L58.8 556.1L58.9 550.5L59.0 556.5L59.1 555.7L59.2 555.3L59.3 556.7L59.4 557.4L59.5 549.4L59.6 550.4L59.7 555.0L59.8 550.5L59.9 550.8L60.0 552.4L60.1 550.2L60.2 557.2L60.3 551.1L60.4 552.5L60.5 553.5L60.6 554.3L60.7 553.5L60.8 550.7L60.9 551.7L61.0 550.5L61.1 556.3L61.2 551.9L61.3 553.1L61.4 551.9L61.5 555.1L61.6 555.4L61.7 554.2L61.8 554.2L61.9 554.2L62.0 550.1L62.1 551.2L62.2 557.4L62.3 550.5L62.4 554.8L62.5 552.6L62.6 557.1L62.7 550.5L62.8 557.1L62.9 556.5L63.0 552.8L63.1 551.1L63.2 556.1L63.3 552.3L63.4 552.9L63.5 552.4L63.6 554.3L63.7 552.6L63.8 552.1L63.9 552.8L64.0 551.1L64.1 551.1L64.2 555.7L64.3 552.6L64.4 557.8L64.5 551.7L64.6 557.2L64.7 556.3L64.8 553.2L64.9 557.9L65.0 554.5L65.1 551.5L65.2 554.1L65.3 553.1L65.4 553.5L65.5 557.0L65.6 555.2L65.7 554.9L65.8 555.6L65.9 556.1L66.0 551.3L66.1 552.8L66.2 555.5L66.3 553.7L66.4 552.6L66.5 556.2L66.6 553.0L66.7 552.0L66.8 555.8L66.8 552.1L66.9 554.8L67.0 552.1L67.1 555.2L67.2 557.4L67.3 554.5L67.4 550.5L67.5 550.7L67.6 556.1L67.7 556.3L67.8 553.0L67.9 550.5L68.0 554.8L68.1 552.9L68.2 555.3L68.3 550.4L68.4 554.9L68.5 552.1L68.6 550.8L68.7 553.4L68.8 554.1L68.9 556.0L69.0 554.2L69.1 552.6L69.2 557.4L69.3 557.8L69.4 553.8L69.5 553.6L69.6 556.4L69.7 554.1L69.8 552.2L69.9 551.9L70.0 553.5L70.1 556.9L70.2 554.5L70.3 556.5L70.4 557.7L70.5 556.3L70.6 550.9L70.7 557.4L70.8 553.2L70.9 556.3L71.0 557.6L71.1 554.6L71.2 554.4L71.3 552.4L71.4 555.0L71.5 557.7L71.6 554.8L71.7 553.5L71.8 551.0L71.9 556.8L72.0 553.6L72.1 553.7L72.2 556.0L72.3 553.4L72.4 551.0L72.5 556.9L72.6 553.3L72.7 551.6L72.8 555.9L72.9 555.8L73.0 551.8L73.1 557.8L73.2 557.9L73.3 555.2L73.4 554.9L73.5 552.4L73.6 557.6L73.7 553.3L73.8 556.6L73.9 554.8L74.0 552.4L74.1 552.4L74.2 555.5L74.3 554.4L74.4 553.6L74.5 556.4L74.6 557.9L74.7 555.1L74.8 557.8L74.9 556.6L75.0 551.9L75.1 553.6L75.2 557.5L75.3 554.2L75.4 556.5L75.5 556.8L75.6 551.8L75.7 555.6L75.8 553.3L75.9 552.9L76.0 556.0L76.1 558.0L76.2 557.1L76.3 557.4L76.4 551.6L76.5 557.6L76.6 555.4L76.7 557.5L76.8 557.7L76.9 554.8L77.0 557.7L77.1 558.0L77.2 556.8L77.3 552.6L77.4 557.2L77.5 555.6L77.6 557.0L77.7 553.3L77.8 553.8L77.9 555.4L78.0 558.0L78.1 555.3L78.2 553.5L78.3 557.4L78.4 556.0L78.5 553.4L78.6 542.1L78.7 553.3L78.8 553.3L78.9 558.1L79.0 557.3L79.1 555.8L79.2 553.5L79.3 552.1L79.4 555.1L79.5 554.9L79.6 556.0L79.7 554.7L79.8 557.9L79.9 557.2L80.0 552.9L80.1 556.7L80.2 558.0L80.3 556.0L80.4 555.7L80.5 555.6L80.6 555.6L80.7 552.4L80.8 556.6L80.9 553.5L81.0 556.4L81.1 550.4L81.2 554.8L81.3 557.7L81.4 555.1L81.5 557.4L81.6 554.3L81.7 556.5L81.8 557.2L81.9 556.9L82.0 552.3L82.1 557.3L82.1 554.7L82.2 553.9L82.3 556.9L82.4 556.9L82.5 556.7L82.6 555.0L82.7 557.8L82.8 557.0L82.9 553.5L83.0 553.8L83.1 553.0L83.2 552.6L83.3 557.6L83.4 556.7L83.5 555.0L83.6 557.3L83.7 557.8L83.8 553.7L83.9 553.0L84.0 557.9L84.1 557.0L84.2 553.1L84.3 554.9L84.4 554.9L84.5 553.6L84.6 555.4L84.7 555.2L84.8 556.8L84.9 553.7L85.0 553.0L85.1 555.4L85.2 553.3L85.3 556.0L85.4 555.6L85.5 553.2L85.6 557.3L85.7 557.6L85.8 554.9L85.9 557.8L86.0 557.4L86.1 558.1L86.2 552.9L86.3 556.6L86.4 555.8L86.5 555.8L86.6 558.1L86.7 558.1L86.8 555.4L86.9 555.5L87.0 553.7L87.1 557.1L87.2 557.5L87.3 553.6L87.4 554.8L87.5 556.1L87.6 556.7L87.7 556.8L87.8 556.4L87.9 555.3L88.0 556.2L88.1 555.8L88.2 555.2L88.3 557.1L88.4 556.2L88.5 557.2L88.6 553.3L88.7 558.1L88.8 557.6L88.9 554.0L89.0 555.9L89.1 555.4L89.2 553.6L89.3 557.7L89.4 558.1L89.5 555.2L89.6 555.6L89.7 556.1L89.8 555.6L89.9 557.4L90.0 558.0L90.1 555.6L90.2 555.3L90.3 556.5L90.4 558.0L90.5 555.6L90.6 556.6L90.7 555.6L90.8 558.0L90.9 558.2L91.0 555.4L91.1 557.2L91.2 557.6L91.3 557.0L91.4 555.7L91.5 558.0L91.6 553.7L91.7 555.5L91.8 556.7L91.9 554.3L92.0 555.5L92.1 558.1L92.2 553.9L92.3 555.7L92.4 554.5L92.5 555.6L92.6 554.8L92.7 557.2L92.8 555.5L92.9 558.1L93.0 555.4L93.1 556.5L93.2 555.3L93.3 554.7L93.4 557.4L93.5 556.3L93.6 557.5L93.7 557.9L93.8 558.0L93.9 557.4L94.0 555.6L94.1 557.6L94.2 558.2L94.3 557.3L94.4 554.8L94.5 556.7L94.6 557.2L94.7 556.8L94.8 557.7L94.9 556.1L95.0 555.0L95.1 557.4L95.2 554.3L95.3 557.8L95.4 558.0L95.5 554.6L95.6 557.8L95.7 557.3L95.8 554.2L95.9 554.0L96.0 554.3L96.1 557.6L96.2 558.0L96.3 555.3L96.4 557.1L96.5 556.7L96.6 556.1L96.7 557.1L96.8 557.1L96.9 557.3L97.0 556.9L97.1 554.4L97.2 557.8L97.3 557.4L97.4 554.7L97.4 557.6L97.5 557.2L97.6 555.3L97.7 555.6L97.8 555.8L97.9 555.0L98.0 557.1L98.1 556.4L98.2 558.2L98.3 554.4L98.4 556.3L98.5 558.2L98.6 556.0L98.7 556.6L98.8 555.2L98.9 558.0L99.0 557.7L99.1 557.0L99.2 557.8L99.3 557.3L99.4 555.9L99.5 555.4L99.6 554.3L99.7 556.1L99.8 554.6L99.9 554.7L100.0 557.5L100.1 557.9L100.2 556.2L100.3 557.1L100.4 556.5L100.5 555.7L100.6 558.2L100.7 557.5L100.8 556.8L100.9 555.3L101.0 557.7L101.1 556.1L101.2 556.9L101.3 557.1L101.4 556.4L101.5 557.5L101.6 557.5L101.7 555.9L101.8 556.4L101.9 556.5L102.0 554.6L102.1 557.8L102.2 557.5L102.3 556.1L102.4 554.8L102.5 557.4L102.6 556.1L102.7 557.8L102.8 556.9L102.9 557.7L103.0 556.4L103.1 555.7L103.2 558.2L103.3 556.0L103.4 555.8L103.5 557.7L103.6 554.6L103.7 555.8L103.8 555.7L103.9 557.3L104.0 555.7L104.1 556.7L104.2 555.9L104.3 557.4L104.4 556.1L104.5 557.6L104.6 556.7L104.7 555.8L104.8 558.1L104.9 557.3L105.0 557.1L105.1 555.6L105.2 556.2L105.3 558.2L105.4 556.1L105.5 558.0L105.6 558.3L105.7 557.9L105.8 557.9L105.9 558.0L106.0 555.0L106.1 557.6L106.2 558.2L106.3 558.2L106.4 556.4L106.5 556.7L106.6 555.5L106.7 557.3L106.8 556.7L106.9 557.0L107.0 555.5L107.1 557.6L107.2 558.3L107.3 556.9L107.4 557.3L107.5 555.2L107.6 557.6L107.7 557.7L107.8 556.1L107.9 558.3L108.0 557.5L108.1 557.2L108.2 557.3L108.3 556.4L108.4 557.7L108.5 557.1L108.6 556.9L108.7 558.2L108.8 556.9L108.9 557.6L109.0 557.3L109.1 557.7L109.2 556.6L109.3 551.8L109.4 557.6L109.5 557.7L109.6 555.5L109.7 557.9L109.8 555.2L109.9 555.4L110.0 556.3L110.1 555.6L110.2 557.8L110.3 556.7L110.4 557.7L110.5 557.9L110.6 557.0L110.7 556.2L110.8 556.7L110.9 556.0L111.0 558.0L111.1 558.3L111.2 555.9L111.3 558.2L111.4 557.9L111.5 557.7L111.6 556.3L111.7 556.2L111.8 557.1L111.9 556.7L112.0 558.3L112.1 557.4L112.2 556.1L112.3 557.4L112.4 557.0L112.5 557.3L112.6 555.5L112.7 556.2L112.7 555.6L112.8 557.1L112.9 558.1L113.0 557.1L113.1 557.6L113.2 557.1L113.3 556.2L113.4 558.1L113.5 555.6L113.6 557.1L113.7 557.3L113.8 556.0L113.9 555.7L114.0 556.4L114.1 555.7L114.2 556.5L114.3 555.4L114.4 556.1L114.5 557.4L114.6 557.2L114.7 557.0L114.8 557.6L114.9 556.3L115.0 556.2L115.1 558.0L115.2 557.7L115.3 557.1L115.4 555.7L115.5 555.5L115.6 555.7L115.7 558.0L115.8 556.7L115.9 558.2L116.0 556.6L116.1 558.1L116.2 557.3L116.3 558.1L116.4 558.2L116.5 557.9L116.6 555.6L116.7 556.6L116.8 557.9L116.9 556.8L117.0 557.3L117.1 556.4L117.2 556.3L117.3 558.0L117.4 555.6L117.5 558.3L117.6 558.3L117.7 558.3L117.8 556.4L117.9 557.0L118.0 558.0L118.1 557.7L118.2 558.3L118.3 556.5L118.4 558.2L118.5 555.8L118.6 556.1L118.7 557.0L118.8 558.1L118.9 557.5L119.0 558.3L119.1 557.3L119.2 557.4L119.3 556.8L119.4 555.7L119.5 558.1L119.6 557.6L119.7 556.0L119.8 556.4L119.9 556.5L120.0 557.5L120.1 557.1L120.2 555.8L120.3 556.6L120.4 558.3L120.5 558.2L120.6 556.5L120.7 557.5L120.8 557.9L120.9 556.0L121.0 555.8L121.1 556.1L121.2 557.1L121.3 557.5L121.4 557.8L121.5 557.7L121.6 558.1L121.7 556.2L121.8 556.8L121.9 558.2L122.0 556.8L122.1 557.7L122.2 556.5L122.3 557.1L122.4 558.0L122.5 557.6L122.6 557.2L122.7 556.0L122.8 558.3L122.9 557.9L123.0 557.4L123.1 556.5L123.2 557.0L123.3 557.3L123.4 557.1L123.5 558.3L123.6 558.2L123.7 558.0L123.8 556.1L123.9 557.3L124.0 556.3L124.1 557.7L124.2 558.2L124.3 556.7L124.4 557.0L124.5 558.0L124.6 556.4L124.7 556.3L124.8 556.0L124.9 557.6L125.0 558.3L125.1 556.4L125.2 557.3L125.3 556.3L125.4 558.3L125.5 557.5L125.6 557.8L125.7 556.8L125.8 556.8L125.9 556.3L126.0 558.3L126.1 558.2L126.2 558.3L126.3 557.6L126.4 556.6L126.5 558.1L126.6 556.0L126.7 558.2L126.8 557.8L126.9 558.0L127.0 558.3L127.1 557.7L127.2 556.8L127.3 557.4L127.4 558.2L127.5 558.3L127.6 558.3L127.7 558.3L127.8 557.4L127.9 556.7L128.0 557.7L128.0 556.9L128.1 557.2L128.2 557.6L128.3 557.1L128.4 556.9L128.5 556.2L128.6 558.4L128.7 557.4L128.8 557.9L128.9 556.4L129.0 557.2L129.1 558.1L129.2 556.3L129.3 557.2L129.4 557.1L129.5 558.2L129.6 558.4L129.7 557.4L129.8 556.3L129.9 558.1L130.0 557.9L130.1 557.6L130.2 557.7L130.3 557.6L130.4 557.7L130.5 557.4L130.6 557.5L130.7 558.1L130.8 557.4L130.9 556.4L131.0 557.6L131.1 558.3L131.2 557.5L131.3 557.9L131.4 557.3L131.5 557.2L131.6 556.4L131.7 557.7L131.8 557.8L131.9 557.9L132.0 558.0L132.1 556.5L132.2 556.9L132.3 558.2L132.4 551.7L132.5 556.4L132.6 558.1L132.7 557.9L132.8 557.4L132.9 558.2L133.0 558.3L133.1 556.9L133.2 557.8L133.3 557.3L133.4 558.2L133.5 556.6L133.6 558.4L133.7 556.7L133.8 558.1L133.9 556.4L134.0 558.0L134.1 557.1L134.2 557.5L134.3 556.8L134.4 557.7L134.5 557.9L134.6 556.4L134.7 558.1L134.8 558.0L134.9 556.9L135.0 556.5L135.1 557.5L135.2 556.3L135.3 557.0L135.4 557.4L135.5 557.1L135.6 557.4L135.7 557.1L135.8 557.4L135.9 558.2L136.0 556.8L136.1 557.8L136.2 557.9L136.3 557.9L136.4 557.8L136.5 557.4L136.6 557.3L136.7 556.5L136.8 557.9L136.9 558.4L137.0 558.2L137.1 558.1L137.2 557.5L137.3 557.9L137.4 556.6L137.5 557.0L137.6 558.1L137.7 558.0L137.8 556.7L137.9 557.9L138.0 557.3L138.1 557.1L138.2 556.8L138.3 557.5L138.4 558.4L138.5 558.2L138.6 557.1L138.7 557.6L138.8 557.0L138.9 557.4L139.0 558.1L139.1 556.8L139.2 556.8L139.3 557.1L139.4 556.8L139.5 556.6L139.6 557.2L139.7 558.3L139.8 557.0L139.9 557.2L140.0 557.0L140.1 557.0L140.2 556.8L140.3 558.2L140.4 557.7L140.5 557.0L140.6 557.1L140.7 557.6L140.8 557.3L140.9 558.3L141.0 558.4L141.1 557.9L141.2 558.2L141.3 557.9L141.4 558.2L141.5 557.0L141.6 558.1L141.7 557.3L141.8 557.6L141.9 557.2L142.0 557.7L142.1 557.8L142.2 558.0L142.3 557.7L142.4 557.5L142.5 557.7L142.6 557.7L142.7 557.3L142.8 557.4L142.9 558.0L143.0 558.3L143.1 557.2L143.2 557.1L143.3 556.8L143.3 557.9L143.4 557.6L143.5 558.4L143.6 552.8L143.7 557.6L143.8 556.7L143.9 558.1L144.0 557.8L144.1 557.6L144.2 557.9L144.3 557.1L144.4 557.4L144.5 557.9L144.6 557.2L144.7 558.4L144.8 557.5L144.9 556.8L145.0 556.6L145.1 557.5L145.2 558.3L145.3 556.6L145.4 557.8L145.5 556.7L145.6 557.3L145.7 558.1L145.8 556.8L145.9 558.0L146.0 556.6L146.1 556.7L146.2 556.7L146.3 558.1L146.4 557.6L146.5 556.8L146.6 558.4L146.7 557.6L146.8 558.4L146.9 556.6L147.0 558.0L147.1 558.0L147.2 556.7L147.3 558.0L147.4 558.1L147.5 558.3L147.6 557.8L147.7 557.3L147.8 557.3L147.9 556.7L148.0 556.9L148.1 557.0L148.2 557.3L148.3 557.4L148.4 557.0L148.5 557.6L148.6 557.9L148.7 558.2L148.8 557.7L148.9 557.1L149.0 557.1L149.1 558.4L149.2 557.0L149.3 557.8L149.4 557.4L149.5 557.6L149.6 556.8L149.7 557.6L149.8 557.8L149.9 558.0L150.0 557.0L150.1 556.7L150.2 558.3L150.3 557.9L150.4 558.3L150.5 557.9L150.6 557.3L150.7 557.6L150.8 558.3L150.9 556.8L151.0 557.8L151.1 557.2L151.2 557.5L151.3 557.7L151.4 556.8L151.5 558.4L151.6 557.5L151.7 558.1L151.8 557.8L151.9 558.1L152.0 556.7L152.1 558.2L152.2 557.8L152.3 558.3L152.4 556.7L152.5 558.1L152.6 558.2L152.7 558.1L152.8 553.0L152.9 557.7L153.0 558.2L153.1 557.9L153.2 557.8L153.3 556.7L153.4 557.5L153.5 557.4L153.6 554.6L153.7 557.1L153.8 558.4L153.9 558.1L154.0 557.9L154.1 557.3L154.2 558.0L154.3 552.7L154.4 556.9L154.5 557.4L154.6 557.0L154.7 558.1L154.8 556.8L154.9 558.4L155.0 558.3L155.1 557.8L155.2 558.1L155.3 557.3L155.4 557.7L155.5 557.0L155.6 557.7L155.7 557.9L155.8 555.0L155.9 557.7L156.0 557.5L156.1 558.3L156.2 557.7L156.3 557.0L156.4 556.9L156.5 557.3L156.6 558.1L156.7 557.2L156.8 557.7L156.9 557.6L157.0 558.3L157.1 557.0L157.2 558.0L157.3 557.5L157.4 558.0L157.5 557.6L157.6 558.0L157.7 556.9L157.8 558.1L157.9 557.0L158.0 557.4L158.1 557.3L158.2 558.4L158.3 557.9L158.4 553.5L158.5 557.4L158.5 558.3L158.6 557.6L158.7 557.1L158.8 557.5L158.9 558.3L159.0 556.8L159.1 558.1L159.2 557.5L159.3 557.6L159.4 557.7L159.5 553.1L159.6 557.5L159.7 558.1L159.8 558.1L159.9 558.3L160.0 557.9L160.1 558.3L160.2 557.8L160.3 557.9L160.4 557.3L160.5 557.3L160.6 558.3L160.7 557.1L160.8 557.4L160.9 558.2L161.0 557.1L161.1 557.3L161.2 557.4L161.3 557.7L161.4 557.2L161.5 555.8L161.6 557.0L161.7 557.2L161.8 558.1L161.9 558.4L162.0 557.0L162.1 558.3L162.2 553.1L162.3 558.4L162.4 557.8L162.5 558.2L162.6 558.2L162.7 557.6L162.8 557.7L162.9 557.7L163.0 558.1L163.1 557.6L163.2 557.2L163.3 556.7L163.4 558.3L163.5 557.5L163.6 556.8L163.7 557.3L163.8 557.2L163.9 556.9L164.0 558.3L164.1 555.6L164.2 558.2L164.3 558.0L164.4 557.2L164.5 557.5L164.6 557.6L164.7 556.9L164.8 557.7L164.9 557.7L165.0 557.8L165.1 557.3L165.2 558.0L165.3 557.5L165.4 556.8L165.5 557.5L165.6 557.8L165.7 558.3L165.8 556.9L165.9 558.1L166.0 558.3L166.1 558.3L166.2 558.4L166.3 558.3L166.4 558.1L166.5 558.1L166.6 556.7L166.7 557.4L166.8 557.1L166.9 558.3L167.0 557.5L167.1 558.3L167.2 556.9L167.3 556.8L167.4 558.2L167.5 557.5L167.6 558.3L167.7 557.7L167.8 557.9L167.9 557.0L168.0 557.5L168.1 557.8L168.2 558.3L168.3 554.1L168.4 552.9L168.5 557.6L168.6 557.2L168.7 556.7L168.8 556.9L168.9 556.9L169.0 558.1L169.1 558.1L169.2 558.1L169.3 558.4L169.4 558.3L169.5 558.3L169.6 556.8L169.7 558.2L169.8 558.2L169.9 557.1L170.0 558.3L170.1 555.7L170.2 557.6L170.3 558.1L170.4 558.3L170.5 558.1L170.6 558.0L170.7 558.0L170.8 557.3L170.9 555.7L171.0 558.1L171.1 557.6L171.2 557.5L171.3 558.1L171.4 558.1L171.5 558.3L171.6 558.2L171.7 557.0L171.8 557.9L171.9 558.0L172.0 557.8L172.1 557.0L172.2 557.9L172.3 557.9L172.4 557.3L172.5 557.9L172.6 555.6L172.7 557.5L172.8 557.4L172.9 556.8L173.0 557.0L173.1 557.2L173.2 557.4L173.3 558.3L173.4 557.6L173.5 556.8L173.6 558.2L173.7 558.3L173.8 558.1L173.8 556.8L173.9 557.2L174.0 553.8L174.1 558.1L174.2 553.1L174.3 557.6L174.4 557.4L174.5 557.1L174.6 555.5L174.7 558.1L174.8 557.3L174.9 558.1L175.0 557.5L175.1 557.5L175.2 558.1L175.3 557.8L175.4 557.8L175.5 557.6L175.6 557.6L175.7 558.3L175.8 558.3L175.9 557.1L176.0 558.1L176.1 557.2L176.2 557.0L176.3 557.5L176.4 557.8L176.5 557.3L176.6 557.1L176.7 558.5L176.8 558.4L176.9 558.4L177.0 558.4L177.1 558.4L177.2 558.4L177.3 558.4L177.4 558.4L177.5 558.4L177.6 558.4L177.7 558.4L177.8 558.5L177.9 558.4L178.0 558.4L178.1 558.5L178.2 558.4L178.3 558.5L178.4 558.4L178.5 558.3L178.6 558.5L178.7 558.5L178.8 558.4L178.9 558.4L179.0 558.4L179.1 558.4L179.2 558.4L179.3 558.4L179.4 558.5L179.5 558.4L179.6 558.4L179.7 558.4L179.8 558.4L179.9 558.4L180.0 558.4L180.1 558.4L180.2 558.4L180.3 558.4L180.4 558.4L180.5 558.4L180.6 558.4L180.7 558.4L180.8 558.4L180.9 558.5L181.0 558.5L181.1 558.4L181.2 558.4L181.3 558.5L181.4 558.4L181.5 558.4L181.6 558.4L181.7 558.4L181.8 558.4L181.9 558.4L182.0 558.3L182.1 558.3L182.2 558.3L182.3 558.3L182.4 558.4L182.5 558.4L182.6 558.5L182.7 558.4L182.8 558.4L182.9 558.4L183.0 558.4L183.1 558.4L183.2 558.4L183.3 558.4L183.4 558.5L183.5 558.4L183.6 558.5L183.7 558.4L183.8 558.4L183.9 558.5L184.0 558.4L184.1 558.4L184.2 558.5L184.3 558.4L184.4 558.4L184.5 558.5L184.6 558.4L184.7 558.5L184.8 558.4L184.9 558.4L185.0 558.5L185.1 558.4L185.2 558.3L185.3 558.4L185.4 558.4L185.5 558.4L185.6 558.4L185.7 558.4L185.8 558.4L185.9 558.4L186.0 558.4L186.1 558.4L186.2 558.4L186.3 558.4L186.4 558.3L186.5 558.5L186.6 558.5L186.7 558.4L186.8 558.4L186.9 558.3L187.0 558.4L187.1 558.4L187.2 558.4L187.3 558.3L187.4 558.4L187.5 558.5L187.6 558.5L187.7 558.4L187.8 558.4L187.9 558.4L188.0 558.4L188.1 558.5L188.2 558.4L188.3 558.3L188.4 558.4L188.5 558.4L188.6 558.4L188.7 558.5L188.8 558.5L188.9 558.5L189.0 558.4L189.1 558.4L189.1 558.4L189.2 558.4L189.3 558.4L189.4 558.4L189.5 558.4L189.6 558.5L189.7 558.4L189.8 558.4L189.9 558.4L190.0 558.4L190.1 558.3L190.2 558.4L190.3 558.4L190.4 558.4L190.5 558.5L190.6 557.3L190.7 558.5L190.8 558.5L190.9 558.4L191.0 558.4L191.1 558.4L191.2 558.4L191.3 558.4L191.4 558.3L191.5 558.4L191.6 558.5L191.7 558.4L191.8 558.4L191.9 558.4L192.0 558.4L192.1 558.4L192.2 558.4L192.3 558.4L192.4 558.4L192.5 558.4L192.6 558.5L192.7 558.4L192.8 558.4L192.9 558.5L193.0 558.5L193.1 558.5L193.2 558.4L193.3 558.5L193.4 558.5L193.5 558.4L193.6 558.4L193.7 558.4L193.8 558.4L193.9 558.5L194.0 558.3L194.1 558.4L194.2 558.4L194.3 558.4L194.4 558.4L194.5 558.5L194.6 558.5L194.7 558.4L194.8 558.4L194.9 558.5L195.0 558.2L195.1 558.4L195.2 558.4L195.3 558.5L195.4 558.4L195.5 558.4L195.6 558.4L195.7 558.5L195.8 558.4L195.9 558.4L196.0 558.4L196.1 558.5L196.2 558.4L196.3 558.4L196.4 558.4L196.5 558.5L196.6 558.5L196.7 558.4L196.8 558.4L196.9 558.2L197.0 558.5L197.1 558.4L197.2 558.4L197.3 558.4L197.4 558.5L197.5 558.4L197.6 558.4L197.7 558.5L197.8 558.4L197.9 558.5L198.0 558.4L198.1 558.4L198.2 558.4L198.3 558.5L198.4 558.5L198.5 558.4L198.6 558.4L198.7 558.4L198.8 558.4L198.9 558.5L199.0 558.4L199.1 558.4L199.2 558.4L199.3 558.4L199.4 558.4L199.5 558.4L199.6 558.5L199.7 558.3L199.8 558.4L199.9 558.4L200.0 558.5L200.1 558.5L200.2 558.5L200.3 558.5L200.4 558.4L200.5 558.4L200.6 558.5L200.7 558.4L200.8 558.5L200.9 558.4L201.0 558.4L201.1 558.4L201.2 558.4L201.3 558.5L201.4 558.4L201.5 558.5L201.6 558.2L201.7 558.4L201.8 558.5L201.9 558.4L202.0 558.4L202.1 558.5L202.2 558.4L202.3 558.4L202.4 558.5L202.5 558.5L202.6 558.4L202.7 558.4L202.8 558.4L202.9 558.5L203.0 558.5L203.1 558.4L203.2 558.4L203.3 558.4L203.4 558.3L203.5 558.4L203.6 558.4L203.7 558.5L203.8 558.4L203.9 558.4L204.0 558.4L204.1 558.4L204.2 558.4L204.3 558.4L204.4 558.4L204.4 558.4L204.5 558.5L204.6 558.5L204.7 558.4L204.8 558.5L204.9 558.4L205.0 558.4L205.1 558.5L205.2 558.3L205.3 558.5L205.4 558.4L205.5 558.4L205.6 558.3L205.7 558.4L205.8 558.4L205.9 558.4L206.0 558.5L206.1 558.4L206.2 558.4L206.3 558.4L206.4 558.5L206.5 558.4L206.6 558.5L206.7 558.3L206.8 558.5L206.9 558.4L207.0 558.4L207.1 558.4L207.2 558.5L207.3 558.4L207.4 558.4L207.5 558.4L207.6 558.5L207.7 558.4L207.8 558.5L207.9 558.5L208.0 558.3L208.1 558.4L208.2 558.5L208.3 558.5L208.4 558.4L208.5 558.3L208.6 558.4L208.7 558.4L208.8 558.5L208.9 558.4L209.0 558.5L209.1 558.4L209.2 558.4L209.3 558.5L209.4 558.5L209.5 558.4L209.6 558.5L209.7 558.4L209.8 558.4L209.9 558.4L210.0 558.5L210.1 558.4L210.2 558.4L210.3 558.4L210.4 558.4L210.5 558.4L210.6 558.4L210.7 558.3L210.8 558.5L210.9 558.5L211.0 558.5L211.1 558.5L211.2 558.4L211.3 558.4L211.4 558.4L211.5 558.4L211.6 558.4L211.7 558.4L211.8 558.5L211.9 558.4L212.0 558.4L212.1 558.4L212.2 558.4L212.3 558.4L212.4 558.4L212.5 558.4L212.6 558.4L212.7 558.4L212.8 558.4L212.9 558.4L213.0 558.4L213.1 558.4L213.2 558.4L213.3 558.4L213.4 558.4L213.5 558.5L213.6 558.5L213.7 558.4L213.8 558.4L213.9 558.4L214.0 558.4L214.1 558.4L214.2 558.3L214.3 558.4L214.4 558.5L214.5 558.4L214.6 558.4L214.7 558.4L214.8 558.5L214.9 558.4L215.0 558.5L215.1 558.4L215.2 558.4L215.3 558.4L215.4 558.5L215.5 558.4L215.6 558.4L215.7 558.4L215.8 558.4L215.9 558.5L216.0 558.3L216.1 558.4L216.2 558.4L216.3 558.4L216.4 558.4L216.5 558.5L216.6 558.5L216.7 558.4L216.8 558.4L216.9 558.4L217.0 558.5L217.1 558.4L217.2 558.4L217.3 558.4L217.4 558.3L217.5 558.5L217.6 558.4L217.7 558.4L217.8 558.2L217.9 558.4L218.0 558.4L218.1 558.4L218.2 558.5L218.3 558.4L218.4 558.4L218.5 558.4L218.6 558.4L218.7 558.4L218.8 558.4L218.9 558.4L219.0 558.4L219.1 558.4L219.2 558.4L219.3 558.4L219.4 558.3L219.5 558.4L219.6 558.4L219.7 558.4L219.7 558.4L219.8 558.4L219.9 558.5L220.0 558.5L220.1 558.3L220.2 558.4L220.3 558.4L220.4 558.4L220.5 558.5L220.6 558.4L220.7 558.4L220.8 558.4L220.9 558.4L221.0 558.4L221.1 558.4L221.2 558.4L221.3 558.5L221.4 558.5L221.5 558.3L221.6 558.4L221.7 558.3L221.8 558.5L221.9 558.4L222.0 558.4L222.1 558.4L222.2 558.4L222.3 558.4L222.4 558.4L222.5 558.4L222.6 558.4L222.7 558.4L222.8 558.4L222.9 558.4L223.0 558.3L223.1 558.5L223.2 558.4L223.3 558.4L223.4 558.4L223.5 558.4L223.6 558.3L223.7 558.5L223.8 558.4L223.9 558.4L224.0 558.5L224.1 558.4L224.2 558.5L224.3 558.4L224.4 558.5L224.5 558.4L224.6 558.4L224.7 558.4L224.8 558.2L224.9 558.4L225.0 558.5L225.1 558.3L225.2 558.4L225.3 558.4L225.4 558.4L225.5 558.4L225.6 558.4L225.7 558.4L225.8 558.4L225.9 558.4L226.0 558.4L226.1 558.5L226.2 558.4L226.3 558.5L226.4 558.5L226.5 558.4L226.6 558.4L226.7 558.4L226.8 558.4L226.9 558.4L227.0 558.4L227.1 558.4L227.2 558.5L227.3 558.4L227.4 558.4L227.5 558.4L227.6 558.5L227.7 558.4L227.8 558.5L227.9 558.5L228.0 558.5L228.1 558.5L228.2 558.4L228.3 558.5L228.4 558.3L228.5 558.3L228.6 558.5L228.7 558.4L228.8 558.2L228.9 557.3L229.0 558.4L229.1 558.4L229.2 558.4L229.3 558.3L229.4 558.5L229.5 558.5L229.6 558.3L229.7 558.4L229.8 558.5L229.9 558.4L230.0 558.4L230.1 558.4L230.2 558.5L230.3 558.4L230.4 558.4L230.5 558.5L230.6 558.5L230.7 558.4L230.8 558.4L230.9 558.4L231.0 558.5L231.1 558.4L231.2 558.4L231.3 558.5L231.4 558.5L231.5 558.4L231.6 558.3L231.7 558.4L231.8 558.4L231.9 558.4L232.0 558.5L232.1 558.4L232.2 558.5L232.3 558.4L232.4 558.4L232.5 558.4L232.6 558.4L232.7 558.5L232.8 558.4L232.9 558.4L233.0 558.4L233.1 558.5L233.2 558.4L233.3 558.5L233.4 558.4L233.5 558.4L233.6 558.5L233.7 558.3L233.8 558.4L233.9 558.4L234.0 558.4L234.1 558.5L234.2 558.4L234.3 558.4L234.4 558.5L234.5 558.4L234.6 558.4L234.7 558.4L234.8 558.4L234.9 558.4L235.0 558.4L235.0 558.5L235.1 558.4L235.2 558.4L235.3 557.4L235.4 558.4L235.5 558.5L235.6 558.4L235.7 558.4L235.8 558.4L235.9 558.3L236.0 558.4L236.1 558.5L236.2 558.4L236.3 558.3L236.4 558.4L236.5 558.4L236.6 558.4L236.7 558.5L236.8 558.4L236.9 558.4L237.0 558.4L237.1 558.4L237.2 558.4L237.3 558.5L237.4 558.4L237.5 558.4L237.6 558.4L237.7 558.4L237.8 558.5L237.9 558.4L238.0 558.4L238.1 558.4L238.2 558.5L238.3 558.5L238.4 558.4L238.5 558.4L238.6 558.4L238.7 558.5L238.8 558.4L238.9 558.4L239.0 558.4L239.1 558.4L239.2 558.4L239.3 558.4L239.4 558.3L239.5 558.5L239.6 558.3L239.7 558.4L239.8 558.4L239.9 558.4L240.0 558.4L240.1 558.4L240.2 558.4L240.3 558.4L240.4 558.4L240.5 558.4L240.6 558.4L240.7 558.4L240.8 558.4L240.9 558.5L241.0 558.4L241.1 558.4L241.2 558.4L241.3 558.4L241.4 558.4L241.5 558.4L241.6 558.4L241.7 558.3L241.8 558.4L241.9 558.4L242.0 558.5L242.1 558.2L242.2 558.5L242.3 558.4L242.4 558.5L242.5 558.5L242.6 558.4L242.7 558.4L242.8 558.4L242.9 558.4L243.0 558.4L243.1 558.4L243.2 558.4L243.3 558.5L243.4 558.4L243.5 558.3L243.6 558.5L243.7 558.5L243.8 558.5L243.9 558.2L244.0 558.4L244.1 558.4L244.2 558.4L244.3 558.4L244.4 558.3L244.5 558.5L244.6 558.4L244.7 558.4L244.8 558.4L244.9 558.4L245.0 558.5L245.1 558.4L245.2 558.4L245.3 558.4L245.4 558.4L245.5 558.5L245.6 558.4L245.7 558.4L245.8 558.4L245.9 558.5L246.0 558.3L246.1 558.4L246.2 558.4L246.3 558.4L246.4 558.4L246.5 558.4L246.6 558.4L246.7 558.4L246.8 558.4L246.9 558.4L247.0 558.4L247.1 558.5L247.2 558.3L247.3 558.5L247.4 558.3L247.5 558.5L247.6 558.4L247.7 558.4L247.8 558.4L247.9 558.4L248.0 558.4L248.1 558.3L248.2 558.4L248.3 558.4L248.4 558.4L248.5 558.4L248.6 558.5L248.7 558.5L248.8 558.4L248.9 558.5L249.0 558.4L249.1 558.4L249.2 558.4L249.3 558.4L249.4 558.3L249.5 558.3L249.6 558.3L249.7 558.4L249.8 558.4L249.9 558.4L250.0 558.5L250.1 558.5L250.2 558.4L250.2 558.3L250.3 558.4L250.4 558.4L250.5 558.4L250.6 558.4L250.7 558.4L250.8 558.5L250.9 558.5L251.0 558.4L251.1 558.4L251.2 558.4L251.3 558.4L251.4 558.5L251.5 558.4L251.6 558.4L251.7 558.5L251.8 558.4L251.9 558.5L252.0 558.5L252.1 558.4L252.2 558.4L252.3 558.3L252.4 558.5L252.5 558.3L252.6 558.5L252.7 558.5L252.8 558.4L252.9 558.5L253.0 558.4L253.1 558.4L253.2 558.4L253.3 558.4L253.4 558.4L253.5 558.3L253.6 558.5L253.7 558.5L253.8 558.4L253.9 558.4L254.0 558.4L254.1 558.5L254.2 558.3L254.3 558.4L254.4 558.5L254.5 558.4L254.6 558.4L254.7 558.4L254.8 558.4L254.9 558.4L255.0 558.4L255.1 558.4L255.2 558.4L255.3 558.4L255.4 558.4L255.5 558.4L255.6 558.5L255.7 558.4L255.8 558.4L255.9 558.4L256.0 558.4L256.1 558.5L256.2 558.3L256.3 558.4L256.4 558.5L256.5 558.4L256.6 558.5L256.7 558.5L256.8 558.4L256.9 558.4L257.0 558.2L257.1 558.4L257.2 558.4L257.3 558.4L257.4 558.4L257.5 558.4L257.6 558.4L257.7 558.5L257.8 558.5L257.9 558.4L258.0 558.5L258.1 558.5L258.2 558.5L258.3 558.4L258.4 558.4L258.5 558.4L258.6 558.4L258.7 558.4L258.8 558.5L258.9 558.4L259.0 558.4L259.1 558.4L259.2 558.4L259.3 558.5L259.4 558.4L259.5 558.4L259.6 558.4L259.7 558.5L259.8 558.4L259.9 558.4L260.0 558.5L260.1 558.4L260.2 558.4L260.3 558.4L260.4 558.4L260.5 558.4L260.6 558.5L260.7 558.2L260.8 558.4L260.9 558.4L261.0 558.4L261.1 558.5L261.2 558.4L261.3 558.4L261.4 558.4L261.5 558.4L261.6 558.4L261.7 558.4L261.8 558.4L261.9 558.4L262.0 558.4L262.1 558.4L262.2 558.4L262.3 558.4L262.4 558.4L262.5 558.4L262.6 558.4L262.7 558.4L262.8 558.4L262.9 558.4L263.0 558.5L263.1 558.4L263.2 558.5L263.3 558.5L263.4 558.4L263.5 558.2L263.6 558.4L263.7 558.4L263.8 558.4L263.9 558.4L264.0 558.4L264.1 558.4L264.2 558.4L264.3 558.4L264.4 558.4L264.5 558.4L264.6 558.4L264.7 558.4L264.8 558.4L264.9 558.4L265.0 558.4L265.1 558.4L265.2 558.4L265.3 558.5L265.4 558.4L265.5 558.4L265.5 558.5L265.6 558.4L265.7 558.4L265.8 558.5L265.9 558.3L266.0 558.5L266.1 558.3L266.2 558.5L266.3 558.4L266.4 558.5L266.5 558.4L266.6 558.4L266.7 558.4L266.8 558.5L266.9 558.4L267.0 558.5L267.1 558.4L267.2 558.4L267.3 558.4L267.4 558.5L267.5 558.4L267.6 558.3L267.7 558.5L267.8 558.4L267.9 558.4L268.0 558.4L268.1 558.4L268.2 558.4L268.3 558.4L268.4 558.4L268.5 558.5L268.6 558.4L268.7 558.4L268.8 558.5L268.9 558.3L269.0 558.4L269.1 558.5L269.2 558.4L269.3 558.3L269.4 558.4L269.5 558.4L269.6 558.3L269.7 558.4L269.8 558.4L269.9 558.4L270.0 558.4L270.1 558.4L270.2 558.4L270.3 558.4L270.4 558.4L270.5 558.4L270.6 558.4L270.7 558.4L270.8 558.4L270.9 558.4L271.0 558.4L271.1 558.4L271.2 558.4L271.3 558.4L271.4 558.4L271.5 558.4L271.6 558.4L271.7 558.4L271.8 558.4L271.9 558.4L272.0 558.4L272.1 558.4L272.2 558.5L272.3 558.3L272.4 558.4L272.5 558.4L272.6 558.4L272.7 558.3L272.8 558.5L272.9 558.4L273.0 558.4L273.1 558.4L273.2 558.4L273.3 558.4L273.4 558.4L273.5 558.5L273.6 558.4L273.7 558.4L273.8 558.5L273.9 558.4L274.0 558.4L274.1 558.4L274.2 558.4L274.3 558.4L274.4 558.5L274.5 558.5L274.6 558.4L274.7 558.5L274.8 558.5L274.9 558.4L275.0 558.4L275.1 558.4L275.2 558.5L275.3 558.4L275.4 558.4L275.5 558.4L275.6 558.4L275.7 558.4L275.8 558.5L275.9 558.4L276.0 558.4L276.1 558.4L276.2 558.4L276.3 558.3L276.4 558.5L276.5 558.4L276.6 558.4L276.7 558.4L276.8 558.4L276.9 558.4L277.0 558.4L277.1 558.5L277.2 558.5L277.3 558.4L277.4 558.3L277.5 558.4L277.6 558.5L277.7 558.4L277.8 558.5L277.9 558.4L278.0 558.5L278.1 558.5L278.2 558.5L278.3 558.5L278.4 558.4L278.5 558.5L278.6 558.3L278.7 558.5L278.8 558.4L278.9 558.4L279.0 558.4L279.1 558.4L279.2 558.5L279.3 558.5L279.4 558.4L279.5 558.4L279.6 558.5L279.7 558.4L279.8 558.4L279.9 558.3L280.0 558.5L280.1 558.4L280.2 558.5L280.3 558.4L280.4 558.4L280.5 558.5L280.6 558.4L280.7 558.4L280.8 558.4L280.8 558.4L280.9 558.5L281.0 558.4L281.1 558.4L281.2 558.4L281.3 558.5L281.4 558.5L281.5 558.4L281.6 558.5L281.7 558.5L281.8 558.4L281.9 558.4L282.0 558.5L282.1 558.4L282.2 558.4L282.3 558.3L282.4 558.4L282.5 558.4L282.6 558.4L282.7 558.5L282.8 558.3L282.9 558.4L283.0 558.4L283.1 558.4L283.2 558.4L283.3 558.4L283.4 558.4L283.5 558.4L283.6 558.4L283.7 558.4L283.8 558.5L283.9 558.4L284.0 558.4L284.1 558.4L284.2 558.5L284.3 558.4L284.4 558.4L284.5 558.3L284.6 558.4L284.7 558.5L284.8 558.4L284.9 558.5L285.0 558.4L285.1 558.5L285.2 558.5L285.3 558.3L285.4 558.5L285.5 558.4L285.6 558.5L285.7 558.4L285.8 558.4L285.9 558.4L286.0 558.4L286.1 558.4L286.2 558.4L286.3 558.5L286.4 558.4L286.5 558.4L286.6 558.2L286.7 558.4L286.8 558.4L286.9 558.4L287.0 558.5L287.1 558.4L287.2 558.4L287.3 558.4L287.4 558.4L287.5 558.5L287.6 558.5L287.7 558.4L287.8 558.3L287.9 558.4L288.0 558.5L288.1 558.5L288.2 558.3L288.3 558.5L288.4 558.4L288.5 558.4L288.6 558.4L288.7 558.4L288.8 558.4L288.9 558.4L289.0 558.4L289.1 558.4L289.2 558.4L289.3 558.4L289.4 558.4L289.5 558.4L289.6 558.5L289.7 558.4L289.8 558.4L289.9 558.5L290.0 558.4L290.1 558.3L290.2 558.4L290.3 558.5L290.4 558.5L290.5 558.5L290.6 558.3L290.7 558.4L290.8 558.4L290.9 558.4L291.0 558.4L291.1 558.5L291.2 558.4L291.3 558.5L291.4 558.4L291.5 558.4L291.6 558.5L291.7 558.5L291.8 558.4L291.9 558.4L292.0 558.4L292.1 558.4L292.2 558.4L292.3 558.5L292.4 558.4L292.5 558.3L292.6 558.4L292.7 558.5L292.8 558.4L292.9 558.4L293.0 558.4L293.1 558.5L293.2 558.4L293.3 558.5L293.4 558.4L293.5 558.4L293.6 558.5L293.7 558.4L293.8 558.4L293.9 558.4L294.0 558.4L294.1 558.4L294.2 558.4L294.3 558.4L294.4 558.4L294.5 558.5L294.6 558.5L294.7 558.4L294.8 558.4L294.9 558.4L295.0 558.5L295.1 558.4L295.2 558.4L295.3 558.4L295.4 557.3L295.5 558.4L295.6 558.5L295.7 558.4L295.8 558.4L295.9 558.4L296.0 558.4L296.1 558.5L296.1 558.4L296.2 558.4L296.3 558.4L296.4 558.4L296.5 558.4L296.6 558.4L296.7 558.5L296.8 558.4L296.9 558.4L297.0 558.5L297.1 558.4L297.2 558.4L297.3 558.4L297.4 558.4L297.5 558.4L297.6 558.3L297.7 558.4L297.8 558.5L297.9 558.5L298.0 558.4L298.1 558.5L298.2 558.3L298.3 558.4L298.4 558.5L298.5 558.4L298.6 558.4L298.7 558.4L298.8 558.5L298.9 558.4L299.0 558.4L299.1 558.4L299.2 558.4L299.3 558.4L299.4 558.4L299.5 558.3L299.6 558.3L299.7 558.5L299.8 558.5L299.9 558.4L300.0 558.3L300.1 558.4L300.2 558.4L300.3 558.4L300.4 558.5L300.5 558.4L300.6 558.4L300.7 558.4L300.8 558.5L300.9 558.4L301.0 558.4L301.1 558.4L301.2 558.4L301.3 558.4L301.4 558.4L301.5 558.4L301.6 558.5L301.7 558.4L301.8 558.4L301.9 558.4L302.0 558.4L302.1 558.5L302.2 558.4L302.3 558.4L302.4 558.5L302.5 558.3L302.6 558.4L302.7 558.5L302.8 558.4L302.9 558.4L303.0 558.4L303.1 558.4L303.2 558.4L303.3 558.4L303.4 558.4L303.5 558.4L303.6 558.5L303.7 558.4L303.8 558.5L303.9 558.5L304.0 558.4L304.1 558.4L304.2 558.5L304.3 558.4L304.4 558.4L304.5 558.5L304.6 558.4L304.7 558.4L304.8 558.5L304.9 558.5L305.0 558.5L305.1 558.4L305.2 558.4L305.3 558.4L305.4 558.4L305.5 558.4L305.6 558.4L305.7 558.4L305.8 558.5L305.9 558.4L306.0 558.4L306.1 558.4L306.2 558.5L306.3 558.4L306.4 558.5L306.5 558.2L306.6 558.5L306.7 558.5L306.8 558.4L306.9 558.4L307.0 558.4L307.1 558.4L307.2 558.4L307.3 558.5L307.4 558.4L307.5 558.4L307.6 558.4L307.7 558.4L307.8 558.4L307.9 558.5L308.0 558.5L308.1 558.4L308.2 558.5L308.3 558.4L308.4 558.4L308.5 558.5L308.6 558.5L308.7 558.4L308.8 558.4L308.9 558.5L309.0 558.5L309.1 558.4L309.2 558.4L309.3 558.4L309.4 558.5L309.5 558.4L309.6 558.4L309.7 558.4L309.8 558.4L309.9 558.4L310.0 558.4L310.1 558.4L310.2 558.4L310.3 558.4L310.4 558.5L310.5 558.4L310.6 558.4L310.7 558.4L310.8 558.4L310.9 558.4L311.0 558.4L311.1 558.4L311.2 558.4L311.3 558.3L311.4 558.5L311.4 558.4L311.5 558.4L311.6 558.4L311.7 558.4L311.8 558.4L311.9 558.5L312.0 558.5L312.1 558.4L312.2 558.3L312.3 558.4L312.4 558.4L312.5 558.4L312.6 558.5L312.7 558.4L312.8 558.4L312.9 558.4L313.0 558.4L313.1 558.4L313.2 558.3L313.3 558.3L313.4 558.4L313.5 558.3L313.6 558.5L313.7 558.3L313.8 558.3L313.9 558.4L314.0 558.3L314.1 558.4L314.2 558.4L314.3 558.4L314.4 558.4L314.5 558.4L314.6 558.4L314.7 558.4L314.8 558.4L314.9 558.4L315.0 558.5L315.1 558.4L315.2 558.4L315.3 558.5L315.4 558.4L315.5 558.5L315.6 558.4L315.7 558.4L315.8 558.4L315.9 558.4L316.0 558.4L316.1 558.4L316.2 558.4L316.3 558.5L316.4 558.4L316.5 558.4L316.6 558.4L316.7 558.5L316.8 558.3L316.9 558.4L317.0 558.4L317.1 558.4L317.2 558.5L317.3 558.4L317.4 558.4L317.5 558.4L317.6 558.4L317.7 558.5L317.8 558.5L317.9 558.4L318.0 558.4L318.1 558.5L318.2 558.4L318.3 558.5L318.4 558.5L318.5 558.5L318.6 558.4L318.7 558.4L318.8 558.4L318.9 558.4L319.0 558.5L319.1 558.4L319.2 558.5L319.3 558.4L319.4 558.4L319.5 558.4L319.6 558.5L319.7 558.4L319.8 558.4L319.9 558.5L320.0 558.4L320.1 558.5L320.2 558.3L320.3 558.4L320.4 558.4L320.5 558.4L320.6 558.5L320.7 558.4L320.8 558.4L320.9 558.5L321.0 558.5L321.1 558.5L321.2 558.5L321.3 558.4L321.4 558.4L321.5 558.4L321.6 558.4L321.7 558.3L321.8 558.4L321.9 558.4L322.0 558.4L322.1 558.4L322.2 558.3L322.3 558.4L322.4 558.4L322.5 558.4L322.6 558.5L322.7 558.4L322.8 558.5L322.9 558.4L323.0 558.4L323.1 558.4L323.2 558.4L323.3 558.5L323.4 558.4L323.5 558.5L323.6 558.5L323.7 558.4L323.8 558.4L323.9 558.4L324.0 558.4L324.1 558.4L324.2 558.4L324.3 558.5L324.4 558.4L324.5 558.4L324.6 558.4L324.7 558.4L324.8 558.4L324.9 558.5L325.0 558.3L325.1 558.5L325.2 558.4L325.3 558.4L325.4 558.5L325.5 558.4L325.6 558.4L325.7 558.3L325.8 558.4L325.9 558.4L326.0 558.4L326.1 558.4L326.2 558.5L326.3 558.4L326.4 558.5L326.5 558.4L326.6 558.3L326.7 558.4L326.7 558.5L326.8 558.5L326.9 558.4L327.0 558.5L327.1 558.4L327.2 558.5L327.3 558.3L327.4 558.4L327.5 558.3L327.6 558.5L327.7 558.4L327.8 558.4L327.9 558.4L328.0 558.4L328.1 558.4L328.2 558.4L328.3 558.4L328.4 558.4L328.5 558.4L328.6 558.4L328.7 558.5L328.8 558.4L328.9 558.4L329.0 558.4L329.1 558.4L329.2 558.4L329.3 558.4L329.4 558.4L329.5 558.4L329.6 558.4L329.7 558.4L329.8 558.4L329.9 558.4L330.0 558.3L330.1 558.5L330.2 558.5L330.3 558.4L330.4 558.4L330.5 558.4L330.6 558.5L330.7 558.4L330.8 558.4L330.9 558.4L331.0 558.4L331.1 558.4L331.2 558.4L331.3 558.4L331.4 558.5L331.5 558.4L331.6 558.4L331.7 558.4L331.8 558.4L331.9 558.4L332.0 558.3L332.1 558.4L332.2 558.5L332.3 558.5L332.4 558.4L332.5 558.4L332.6 558.4L332.7 558.4L332.8 558.4L332.9 558.4L333.0 558.5L333.1 558.4L333.2 558.3L333.3 558.5L333.4 558.5L333.5 558.4L333.6 558.3L333.7 558.4L333.8 558.5L333.9 558.4L334.0 558.4L334.1 558.5L334.2 558.4L334.3 558.4L334.4 558.4L334.5 558.4L334.6 558.4L334.7 558.4L334.8 558.4L334.9 558.4L335.0 558.4L335.1 558.4L335.2 558.4L335.3 558.4L335.4 558.5L335.5 558.4L335.6 558.5L335.7 558.4L335.8 558.4L335.9 558.5L336.0 558.4L336.1 558.4L336.2 558.4L336.3 558.4L336.4 558.5L336.5 558.4L336.6 558.4L336.7 558.4L336.8 558.4L336.9 558.5L337.0 558.4L337.1 558.4L337.2 558.5L337.3 558.4L337.4 558.4L337.5 558.4L337.6 558.4L337.7 558.4L337.8 558.5L337.9 558.4L338.0 558.4L338.1 558.3L338.2 558.3L338.3 558.4L338.4 558.5L338.5 558.3L338.6 558.5L338.7 558.4L338.8 558.4L338.9 558.4L339.0 558.4L339.1 558.4L339.2 558.5L339.3 558.5L339.4 558.4L339.5 558.4L339.6 558.4L339.7 558.5L339.8 558.4L339.9 558.4L340.0 558.4L340.1 558.4L340.2 558.5L340.3 558.4L340.4 558.4L340.5 558.3L340.6 558.5L340.7 558.4L340.8 558.4L340.9 558.4L341.0 558.5L341.1 558.3L341.2 558.3L341.3 558.4L341.4 558.4L341.5 558.4L341.6 558.4L341.7 558.4L341.8 558.4L341.9 558.4L342.0 558.4L342.0 558.4L342.1 558.4L342.2 558.5L342.3 558.3L342.4 558.4L342.5 558.4L342.6 558.4L342.7 558.4L342.8 558.5L342.9 558.4L343.0 558.4L343.1 558.4L343.2 558.5L343.3 558.4L343.4 558.5L343.5 558.4L343.6 558.4L343.7 558.5L343.8 558.5L343.9 558.4L344.0 558.4L344.1 558.4L344.2 558.4L344.3 558.4L344.4 558.5L344.5 558.4L344.6 558.5L344.7 558.4L344.8 558.3L344.9 558.4L345.0 558.4L345.1 558.1L345.2 558.4L345.3 558.5L345.4 558.5L345.5 558.4L345.6 558.4L345.7 558.4L345.8 558.4L345.9 558.5L346.0 558.3L346.1 558.4L346.2 558.4L346.3 558.4L346.4 558.5L346.5 558.4L346.6 558.4L346.7 558.4L346.8 558.4L346.9 558.5L347.0 558.5L347.1 558.4L347.2 558.4L347.3 558.4L347.4 558.5L347.5 558.4L347.6 558.5L347.7 558.4L347.8 558.4L347.9 558.5L348.0 558.4L348.1 558.5L348.2 558.4L348.3 558.4L348.4 558.4L348.5 558.4L348.6 558.4L348.7 558.4L348.8 558.4L348.9 558.4L349.0 558.4L349.1 558.4L349.2 558.4L349.3 558.4L349.4 558.4L349.5 558.4L349.6 558.4L349.7 558.4L349.8 558.3L349.9 558.4L350.0 558.5L350.1 558.4L350.2 558.5L350.3 558.4L350.4 558.5L350.5 558.3L350.6 558.4L350.7 558.4L350.8 558.5L350.9 558.4L351.0 558.5L351.1 558.3L351.2 558.5L351.3 558.5L351.4 558.4L351.5 558.3L351.6 558.4L351.7 558.5L351.8 558.4L351.9 558.5L352.0 558.5L352.1 558.5L352.2 558.4L352.3 558.5L352.4 558.4L352.5 558.5L352.6 558.4L352.7 558.4L352.8 558.4L352.9 558.4L353.0 558.4L353.1 558.4L353.2 558.5L353.3 558.4L353.4 558.4L353.5 558.4L353.6 558.4L353.7 558.5L353.8 558.5L353.9 558.5L354.0 558.5L354.1 558.5L354.2 558.5L354.3 558.5L354.4 558.4L354.5 558.4L354.6 558.4L354.7 558.4L354.8 558.4L354.9 558.3L355.0 558.5L355.1 558.4L355.2 558.4L355.3 558.5L355.4 558.5L355.5 558.4L355.6 558.4L355.7 558.4L355.8 558.4L355.9 558.4L356.0 558.5L356.1 558.4L356.2 558.4L356.3 558.3L356.4 558.4L356.5 558.4L356.6 558.4L356.7 558.4L356.8 558.4L356.9 558.4L357.0 558.3L357.1 558.5L357.2 558.4L357.2 558.4L357.3 558.5L357.4 558.4L357.5 558.4L357.6 558.5L357.7 558.4L357.8 558.3L357.9 558.3L358.0 558.5L358.1 558.4L358.2 558.4L358.3 558.4L358.4 558.4L358.5 558.4L358.6 558.4L358.7 558.4L358.8 558.4L358.9 558.4L359.0 558.4L359.1 558.4L359.2 558.4L359.3 558.4L359.4 558.4L359.5 558.4L359.6 558.4L359.7 558.5L359.8 558.4L359.9 558.1L360.0 558.4L360.1 558.4L360.2 558.4L360.3 558.2L360.4 558.5L360.5 558.4L360.6 558.4L360.7 558.5L360.8 558.4L360.9 558.5L361.0 558.4L361.1 558.4L361.2 558.5L361.3 558.4L361.4 558.4L361.5 558.4L361.6 558.4L361.7 558.4L361.8 558.5L361.9 558.3L362.0 558.4L362.1 558.4L362.2 558.4L362.3 558.4L362.4 558.4L362.5 558.4L362.6 558.4L362.7 558.4L362.8 558.4L362.9 558.4L363.0 558.4L363.1 558.3L363.2 558.4L363.3 558.5L363.4 558.4L363.5 558.4L363.6 558.3L363.7 558.4L363.8 558.4L363.9 558.4L364.0 558.4L364.1 558.4L364.2 558.4L364.3 558.5L364.4 558.4L364.5 558.4L364.6 558.5L364.7 558.5L364.8 558.4L364.9 558.4L365.0 558.4L365.1 558.4L365.2 558.4L365.3 558.4L365.4 558.4L365.5 558.4L365.6 558.4L365.7 558.4L365.8 558.5L365.9 558.4L366.0 558.3L366.1 558.4L366.2 558.4L366.3 558.4L366.4 558.4L366.5 558.5L366.6 558.4L366.7 558.4L366.8 558.3L366.9 558.4L367.0 558.4L367.1 558.4L367.2 558.4L367.3 558.4L367.4 558.4L367.5 558.4L367.6 558.4L367.7 558.5L367.8 558.5L367.9 558.4L368.0 558.4L368.1 558.4L368.2 558.5L368.3 558.4L368.4 558.4L368.5 558.5L368.6 558.5L368.7 558.4L368.8 558.4L368.9 558.4L369.0 558.4L369.1 558.4L369.2 558.4L369.3 558.4L369.4 558.4L369.5 558.4L369.6 558.4L369.7 558.4L369.8 558.4L369.9 558.5L370.0 558.4L370.1 558.4L370.2 558.4L370.3 558.4L370.4 558.5L370.5 558.4L370.6 558.5L370.7 558.5L370.8 558.4L370.9 558.4L371.0 558.4L371.1 558.4L371.2 558.4L371.3 558.4L371.4 558.4L371.5 558.5L371.6 558.5L371.7 558.3L371.8 558.4L371.9 558.5L372.0 558.5L372.1 558.5L372.2 558.4L372.3 558.4L372.4 558.4L372.5 558.4L372.5 558.4L372.6 558.4L372.7 558.4L372.8 558.4L372.9 558.4L373.0 558.4L373.1 558.4L373.2 558.5L373.3 558.4L373.4 558.4L373.5 558.4L373.6 558.4L373.7 558.5L373.8 558.5L373.9 558.4L374.0 558.5L374.1 558.4L374.2 558.5L374.3 558.4L374.4 558.5L374.5 558.4L374.6 558.4L374.7 558.5L374.8 558.4L374.9 558.4L375.0 558.5L375.1 558.4L375.2 558.4L375.3 558.5L375.4 558.4L375.5 558.4L375.6 558.4L375.7 558.4L375.8 558.4L375.9 558.5L376.0 558.4L376.1 558.4L376.2 558.4L376.3 558.5L376.4 558.4L376.5 558.4L376.6 558.4L376.7 558.5L376.8 558.3L376.9 558.5L377.0 558.4L377.1 558.4L377.2 558.4L377.3 558.5L377.4 558.4L377.5 558.4L377.6 558.4L377.7 558.5L377.8 558.4L377.9 558.5L378.0 558.4L378.1 558.4L378.2 558.4L378.3 558.4L378.4 558.5L378.5 558.4L378.6 558.4L378.7 558.4L378.8 558.5L378.9 558.5L379.0 558.3L379.1 558.4L379.2 558.5L379.3 558.4L379.4 558.4L379.5 558.4L379.6 558.4L379.7 558.2L379.8 558.4L379.9 558.5L380.0 558.4L380.1 558.4L380.2 558.4L380.3 558.4L380.4 558.4L380.5 558.5L380.6 558.4L380.7 558.4L380.8 558.3L380.9 558.5L381.0 558.5L381.1 558.4L381.2 558.4L381.3 558.5L381.4 558.5L381.5 558.4L381.6 558.5L381.7 558.4L381.8 558.5L381.9 558.5L382.0 558.4L382.1 558.4L382.2 558.4L382.3 558.4L382.4 558.4L382.5 558.4L382.6 558.5L382.7 558.4L382.8 558.4L382.9 558.5L383.0 558.4L383.1 558.4L383.2 558.5L383.3 558.4L383.4 558.4L383.5 558.4L383.6 558.4L383.7 558.3L383.8 558.4L383.9 558.4L384.0 558.3L384.1 558.4L384.2 558.5L384.3 558.4L384.4 558.5L384.5 558.3L384.6 558.5L384.7 558.4L384.8 558.5L384.9 558.4L385.0 558.4L385.1 558.3L385.2 558.4L385.3 558.3L385.4 558.5L385.5 558.4L385.6 558.4L385.7 558.4L385.8 558.5L385.9 558.4L386.0 558.4L386.1 558.4L386.2 558.5L386.3 558.4L386.4 558.4L386.5 558.4L386.6 558.5L386.7 558.5L386.8 558.4L386.9 558.4L387.0 558.4L387.1 558.4L387.2 558.4L387.3 558.5L387.4 558.3L387.5 558.5L387.6 558.4L387.7 558.4L387.8 558.4L387.8 558.4L387.9 558.4L388.0 558.4L388.1 558.4L388.2 558.4L388.3 558.3L388.4 558.3L388.5 558.4L388.6 558.4L388.7 558.4L388.8 558.4L388.9 558.4L389.0 558.5L389.1 558.4L389.2 558.4L389.3 558.4L389.4 558.4L389.5 558.4L389.6 558.4L389.7 558.4L389.8 558.5L389.9 558.4L390.0 558.5L390.1 558.4L390.2 558.4L390.3 558.5L390.4 558.4L390.5 558.5L390.6 558.4L390.7 558.3L390.8 558.5L390.9 558.4L391.0 558.4L391.1 558.5L391.2 558.4L391.3 558.4L391.4 558.3L391.5 558.4L391.6 558.5L391.7 558.4L391.8 558.4L391.9 558.4L392.0 558.4L392.1 558.4L392.2 558.4L392.3 558.4L392.4 558.4L392.5 558.4L392.6 558.4L392.7 558.4L392.8 558.4L392.9 558.4L393.0 558.4L393.1 558.4L393.2 558.4L393.3 558.4L393.4 558.4L393.5 558.4L393.6 558.4L393.7 558.4L393.8 558.4L393.9 558.4L394.0 558.4L394.1 558.4L394.2 558.4L394.3 558.3L394.4 558.4L394.5 558.5L394.6 558.5L394.7 558.5L394.8 558.4L394.9 558.4L395.0 558.4L395.1 558.4L395.2 558.4L395.3 558.4L395.4 558.4L395.5 558.4L395.6 558.5L395.7 558.4L395.8 558.4L395.9 558.4L396.0 558.4L396.1 558.4L396.2 558.4L396.3 558.4L396.4 558.4L396.5 558.3L396.6 558.4L396.7 558.5L396.8 558.4L396.9 558.4L397.0 558.4L397.1 558.4L397.2 558.5L397.3 558.5L397.4 558.4L397.5 558.5L397.6 558.3L397.7 558.4L397.8 558.4L397.9 558.4L398.0 558.4L398.1 558.5L398.2 558.4L398.3 558.4L398.4 558.4L398.5 558.4L398.6 558.4L398.7 558.4L398.8 558.5L398.9 558.5L399.0 558.4L399.1 558.4L399.2 558.4L399.3 558.4L399.4 558.4L399.5 558.4L399.6 558.5L399.7 558.4L399.8 558.4L399.9 558.4L400.0 558.5L400.1 558.5L400.2 558.4L400.3 558.5L400.4 558.5L400.5 558.4L400.6 558.4L400.7 558.5L400.8 558.4L400.9 558.5L401.0 558.4L401.1 558.2L401.2 558.4L401.3 558.4L401.4 558.3L401.5 558.4L401.6 558.5L401.7 558.1L401.8 558.4L401.9 558.4L402.0 558.4L402.1 558.4L402.2 558.4L402.3 558.4L402.4 558.4L402.5 558.2L402.6 558.4L402.7 558.4L402.8 558.4L402.9 558.5L403.0 558.4L403.1 558.5L403.1 558.4L403.2 558.5L403.3 558.4L403.4 558.4L403.5 558.3L403.6 558.4L403.7 558.4L403.8 558.4L403.9 558.4L404.0 558.4L404.1 558.5L404.2 558.4L404.3 558.4L404.4 558.4L404.5 558.5L404.6 558.4L404.7 558.4L404.8 558.4L404.9 558.4L405.0 558.4L405.1 558.4L405.2 558.4L405.3 558.4L405.4 558.5L405.5 558.4L405.6 558.4L405.7 558.4L405.8 558.4L405.9 558.4L406.0 558.4L406.1 558.5L406.2 558.5L406.3 558.4L406.4 558.5L406.5 558.4L406.6 558.5L406.7 558.4L406.8 558.4L406.9 558.4L407.0 558.4L407.1 558.5L407.2 558.4L407.3 558.4L407.4 558.5L407.5 558.4L407.6 558.4L407.7 558.4L407.8 558.4L407.9 558.4L408.0 558.5L408.1 558.5L408.2 558.4L408.3 558.4L408.4 558.4L408.5 558.5L408.6 558.4L408.7 558.4L408.8 558.5L408.9 558.4L409.0 558.4L409.1 558.4L409.2 558.4L409.3 558.4L409.4 558.5L409.5 558.3L409.6 558.4L409.7 558.4L409.8 558.5L409.9 558.4L410.0 558.4L410.1 558.4L410.2 558.4L410.3 558.4L410.4 558.4L410.5 558.5L410.6 558.4L410.7 558.4L410.8 558.5L410.9 558.4L411.0 558.4L411.1 558.4L411.2 558.4L411.3 558.2L411.4 558.4L411.5 558.4L411.6 558.4L411.7 558.3L411.8 558.4L411.9 558.5L412.0 558.4L412.1 558.4L412.2 558.5L412.3 558.4L412.4 558.4L412.5 558.4L412.6 558.4L412.7 558.3L412.8 558.4L412.9 558.5L413.0 558.4L413.1 558.4L413.2 558.2L413.3 558.5L413.4 558.5L413.5 558.4L413.6 558.4L413.7 558.4L413.8 558.4L413.9 558.4L414.0 558.4L414.1 558.4L414.2 558.4L414.3 558.3L414.4 558.4L414.5 558.4L414.6 558.4L414.7 558.5L414.8 558.5L414.9 558.4L415.0 558.4L415.1 558.4L415.2 558.4L415.3 558.5L415.4 558.4L415.5 558.5L415.6 558.4L415.7 558.5L415.8 558.4L415.9 558.4L416.0 558.4L416.1 558.5L416.2 558.5L416.3 558.4L416.4 558.3L416.5 558.5L416.6 558.4L416.7 558.4L416.8 558.3L416.9 558.5L417.0 558.4L417.1 558.5L417.2 558.4L417.3 558.4L417.4 558.4L417.5 558.5L417.6 558.4L417.7 558.3L417.8 558.5L417.9 558.4L418.0 558.4L418.1 558.4L418.2 558.4L418.3 558.5L418.4 558.4L418.4 558.5L418.5 558.5L418.6 558.4L418.7 558.3L418.8 558.4L418.9 558.4L419.0 558.3L419.1 558.4L419.2 558.4L419.3 558.4L419.4 558.4L419.5 558.4L419.6 558.5L419.7 558.4L419.8 558.4L419.9 558.4L420.0 558.4L420.1 558.4L420.2 558.5L420.3 558.5L420.4 558.4L420.5 558.4L420.6 558.5L420.7 558.4L420.8 558.4L420.9 558.4L421.0 558.4L421.1 558.5L421.2 558.4L421.3 558.4L421.4 558.4L421.5 558.4L421.6 558.4L421.7 558.4L421.8 558.4L421.9 558.4L422.0 558.4L422.1 558.5L422.2 558.4L422.3 558.4L422.4 558.3L422.5 558.5L422.6 558.5L422.7 558.4L422.8 558.4L422.9 558.4L423.0 558.5L423.1 558.4L423.2 558.4L423.3 558.4L423.4 558.5L423.5 558.4L423.6 558.4L423.7 558.4L423.8 557.4L423.9 558.4L424.0 558.5L424.1 558.4L424.2 558.5L424.3 558.4L424.4 558.3L424.5 558.4L424.6 558.4L424.7 558.4L424.8 558.4L424.9 558.3L425.0 558.4L425.1 558.5L425.2 558.5L425.3 558.4L425.4 558.3L425.5 558.4L425.6 558.4L425.7 558.4L425.8 558.4L425.9 558.4L426.0 558.4L426.1 558.4L426.2 558.4L426.3 558.5L426.4 558.4L426.5 558.4L426.6 558.4L426.7 558.4L426.8 558.5L426.9 558.5L427.0 558.4L427.1 557.3L427.2 558.4L427.3 558.5L427.4 558.3L427.5 558.4L427.6 558.4L427.7 558.4L427.8 558.4L427.9 558.4L428.0 558.4L428.1 558.4L428.2 558.3L428.3 558.4L428.4 558.5L428.5 558.5L428.6 558.4L428.7 558.3L428.8 558.4L428.9 558.4L429.0 558.5L429.1 558.5L429.2 558.3L429.3 558.4L429.4 558.4L429.5 558.4L429.6 558.4L429.7 558.4L429.8 558.3L429.9 558.4L430.0 558.4L430.1 558.4L430.2 558.4L430.3 558.4L430.4 558.4L430.5 558.4L430.6 558.5L430.7 558.4L430.8 558.4L430.9 558.4L431.0 558.4L431.1 558.5L431.2 558.4L431.3 558.4L431.4 558.4L431.5 558.5L431.6 558.4L431.7 558.4L431.8 558.4L431.9 558.5L432.0 558.4L432.1 558.5L432.2 558.4L432.3 558.4L432.4 558.4L432.5 558.3L432.6 558.4L432.7 558.5L432.8 558.5L432.9 558.4L433.0 558.4L433.1 558.3L433.2 558.4L433.3 558.4L433.4 558.3L433.5 558.4L433.6 558.4L433.7 558.4L433.7 558.5L433.8 558.3L433.9 558.4L434.0 558.4L434.1 558.4L434.2 558.4L434.3 558.4L434.4 558.5L434.5 558.4L434.6 558.4L434.7 558.5L434.8 558.4L434.9 558.4L435.0 558.4L435.1 558.5L435.2 558.4L435.3 558.5L435.4 558.5L435.5 558.4L435.6 558.4L435.7 558.4L435.8 558.4L435.9 558.5L436.0 558.5L436.1 558.4L436.2 558.4L436.3 558.4L436.4 558.5L436.5 558.5L436.6 558.3L436.7 558.4L436.8 558.4L436.9 558.5L437.0 558.4L437.1 558.3L437.2 558.4L437.3 558.4L437.4 558.4L437.5 558.5L437.6 558.4L437.7 558.4L437.8 558.4L437.9 558.4L438.0 558.5L438.1 558.4L438.2 558.4L438.3 558.5L438.4 558.4L438.5 558.5L438.6 558.4L438.7 558.4L438.8 558.4L438.9 558.5L439.0 558.4L439.1 558.4L439.2 558.4L439.3 558.5L439.4 558.5L439.5 558.4L439.6 558.4L439.7 558.4L439.8 558.4L439.9 558.5L440.0 558.4L440.1 558.4L440.2 558.5L440.3 558.5L440.4 558.4L440.5 558.4L440.6 558.5L440.7 558.4L440.8 558.4L440.9 558.4L441.0 558.5L441.1 558.3L441.2 558.4L441.3 558.3L441.4 558.4L441.5 558.4L441.6 558.5L441.7 558.4L441.8 558.4L441.9 558.4L442.0 558.4L442.1 558.4L442.2 558.5L442.3 558.4L442.4 558.4L442.5 558.4L442.6 558.5L442.7 558.5L442.8 558.4L442.9 558.4L443.0 558.4L443.1 558.4L443.2 558.4L443.3 558.4L443.4 558.5L443.5 558.5L443.6 558.5L443.7 558.4L443.8 558.4L443.9 558.4L444.0 558.4L444.1 558.3L444.2 558.5L444.3 558.5L444.4 558.4L444.5 558.4L444.6 558.4L444.7 558.5L444.8 558.4L444.9 558.4L445.0 558.5L445.1 558.4L445.2 558.4L445.3 558.4L445.4 558.4L445.5 558.4L445.6 558.4L445.7 558.4L445.8 558.5L445.9 558.4L446.0 558.4L446.1 558.3L446.2 558.2L446.3 558.4L446.4 558.4L446.5 558.4L446.6 558.4L446.7 558.3L446.8 558.4L446.9 558.5L447.0 558.4L447.1 558.4L447.2 558.4L447.3 558.4L447.4 558.3L447.5 558.4L447.6 558.5L447.7 558.5L447.8 558.4L447.9 558.4L448.0 558.4L448.1 558.4L448.2 558.4L448.3 558.4L448.4 558.4L448.5 558.5L448.6 558.4L448.7 558.4L448.8 558.4L448.9 558.2L448.9 558.4L449.0 558.4L449.1 558.3L449.2 558.4L449.3 558.4L449.4 558.5L449.5 558.4L449.6 558.4L449.7 558.4L449.8 558.4L449.9 558.4L450.0 558.4L450.1 558.4L450.2 558.5L450.3 558.4L450.4 558.4L450.5 558.4L450.6 558.5L450.7 558.5L450.8 558.4L450.9 558.3L451.0 558.4L451.1 558.4L451.2 558.4L451.3 558.4L451.4 558.4L451.5 558.4L451.6 558.4L451.7 558.4L451.8 558.4L451.9 558.4L452.0 558.4L452.1 558.4L452.2 558.5L452.3 558.4L452.4 558.4L452.5 558.4L452.6 558.5L452.7 558.4L452.8 558.4L452.9 558.5L453.0 558.5L453.1 558.4L453.2 558.4L453.3 558.5L453.4 558.4L453.5 558.4L453.6 558.4L453.7 558.4L453.8 558.4L453.9 558.4L454.0 558.4L454.1 558.4L454.2 558.3L454.3 558.4L454.4 558.4L454.5 558.4L454.6 558.4L454.7 558.4L454.8 558.4L454.9 558.4L455.0 558.5L455.1 558.3L455.2 558.4L455.3 558.4L455.4 558.4L455.5 558.5L455.6 558.4L455.7 558.3L455.8 558.4L455.9 558.4L456.0 558.5L456.1 558.4L456.2 558.4L456.3 558.4L456.4 558.4L456.5 558.4L456.6 558.4L456.7 558.4L456.8 558.4L456.9 558.4L457.0 558.4L457.1 558.4L457.2 558.4L457.3 558.5L457.4 558.4L457.5 558.4L457.6 558.4L457.7 558.3L457.8 558.5L457.9 557.3L458.0 558.4L458.1 558.4L458.2 558.5L458.3 558.5L458.4 558.5L458.5 558.4L458.6 558.5L458.7 558.2L458.8 558.4L458.9 558.4L459.0 558.4L459.1 558.5L459.2 558.4L459.3 558.3L459.4 558.4L459.5 558.4L459.6 558.4L459.7 558.4L459.8 558.3L459.9 558.4L460.0 558.4L460.1 558.5L460.2 558.3L460.3 558.5L460.4 558.4L460.5 558.5L460.6 558.4L460.7 558.4L460.8 558.4L460.9 558.4L461.0 558.4L461.1 558.4L461.2 558.4L461.3 558.4L461.4 558.3L461.5 558.5L461.6 558.4L461.7 557.3L461.8 558.4L461.9 558.4L462.0 558.5L462.1 558.5L462.2 558.4L462.3 558.5L462.4 558.3L462.5 558.4L462.6 558.4L462.7 558.4L462.8 558.4L462.9 558.4L463.0 558.5L463.1 558.4L463.2 558.4L463.3 558.3L463.4 558.4L463.5 558.4L463.6 558.4L463.7 558.4L463.8 558.4L463.9 558.4L464.0 558.4L464.1 558.4L464.2 558.4L464.2 558.4L464.3 558.4L464.4 558.4L464.5 558.5L464.6 558.4L464.7 558.4L464.8 558.4L464.9 558.3L465.0 558.4L465.1 558.4L465.2 558.4L465.3 558.4L465.4 558.3L465.5 558.4L465.6 558.4L465.7 558.4L465.8 558.4L465.9 558.4L466.0 558.5L466.1 558.4L466.2 558.4L466.3 558.5L466.4 558.5L466.5 558.4L466.6 558.4L466.7 558.5L466.8 558.4L466.9 558.4L467.0 558.4L467.1 558.4L467.2 558.4L467.3 558.4L467.4 558.5L467.5 558.4L467.6 558.4L467.7 558.3L467.8 558.3L467.9 558.4L468.0 558.4L468.1 558.4L468.2 558.4L468.3 558.5L468.4 558.3L468.5 557.4L468.6 558.4L468.7 558.4L468.8 558.4L468.9 558.4L469.0 558.4L469.1 558.4L469.2 558.4L469.3 558.4L469.4 558.4L469.5 558.4L469.6 558.5L469.7 558.4L469.8 558.4L469.9 558.4L470.0 558.5L470.1 558.4L470.2 558.4L470.3 558.5L470.4 558.4L470.5 558.4L470.6 558.4L470.7 558.4L470.8 558.4L470.9 558.4L471.0 558.4L471.1 558.5L471.2 558.4L471.3 558.5L471.4 558.2L471.5 558.4L471.6 558.4L471.7 558.5L471.8 558.4L471.9 558.4L472.0 558.4L472.1 558.4L472.2 558.4L472.3 558.5L472.4 558.5L472.5 558.4L472.6 558.4L472.7 558.4L472.8 558.4L472.9 558.4L473.0 558.4L473.1 558.5L473.2 558.3L473.3 558.4L473.4 558.4L473.5 558.4L473.6 558.4L473.7 558.4L473.8 558.4L473.9 558.5L474.0 558.4L474.1 558.5L474.2 558.4L474.3 558.4L474.4 558.5L474.5 558.4L474.6 558.4L474.7 558.4L474.8 558.4L474.9 558.4L475.0 558.4L475.1 558.4L475.2 558.4L475.3 558.4L475.4 558.5L475.5 558.5L475.6 558.5L475.7 558.5L475.8 558.4L475.9 558.5L476.0 558.4L476.1 558.4L476.2 558.4L476.3 558.4L476.4 558.4L476.5 558.4L476.6 558.4L476.7 558.5L476.8 558.4L476.9 558.4L477.0 558.5L477.1 558.4L477.2 558.4L477.3 558.4L477.4 558.4L477.5 558.4L477.6 558.4L477.7 558.4L477.8 558.4L477.9 558.5L478.0 558.3L478.1 558.4L478.2 558.3L478.3 558.4L478.4 558.4L478.5 558.4L478.6 558.5L478.7 558.4L478.8 558.4L478.9 558.4L479.0 558.5L479.1 558.4L479.2 558.4L479.3 558.4L479.4 558.4L479.5 558.4L479.5 558.4L479.6 558.4L479.7 558.4L479.8 558.5L479.9 558.4L480.0 558.4L480.1 558.4L480.2 558.4L480.3 558.4L480.4 558.4L480.5 558.4L480.6 558.4L480.7 558.5L480.8 558.4L480.9 558.5L481.0 558.4L481.1 558.4L481.2 558.4L481.3 558.4L481.4 558.5L481.5 557.3L481.6 558.5L481.7 558.4L481.8 558.4L481.9 558.4L482.0 558.4L482.1 558.4L482.2 558.3L482.3 558.5L482.4 558.3L482.5 558.4L482.6 558.4L482.7 558.5L482.8 558.3L482.9 558.4L483.0 558.4L483.1 558.4L483.2 558.5L483.3 558.4L483.4 558.4L483.5 558.4L483.6 558.5L483.7 558.4L483.8 558.3L483.9 558.4L484.0 558.5L484.1 558.4L484.2 558.4L484.3 558.4L484.4 558.4L484.5 558.4L484.6 558.4L484.7 558.5L484.8 558.4L484.9 558.5L485.0 558.5L485.1 558.4L485.2 558.3L485.3 558.4L485.4 558.4L485.5 558.4L485.6 558.5L485.7 558.4L485.8 558.4L485.9 558.4L486.0 558.4L486.1 558.5L486.2 558.5L486.3 558.4L486.4 558.4L486.5 558.5L486.6 558.4L486.7 558.4L486.8 558.5L486.9 558.4L487.0 558.4L487.1 558.4L487.2 558.4L487.3 558.5L487.4 558.4L487.5 558.4L487.6 558.4L487.7 558.4L487.8 558.4L487.9 558.4L488.0 558.4L488.1 558.4L488.2 558.4L488.3 558.3L488.4 558.4L488.5 558.4L488.6 558.5L488.7 558.4L488.8 558.5L488.9 558.5L489.0 558.5L489.1 558.4L489.2 558.5L489.3 558.4L489.4 558.4L489.5 558.4L489.6 558.4L489.7 558.4L489.8 558.3L489.9 558.4L490.0 558.4L490.1 558.3L490.2 558.4L490.3 558.4L490.4 558.4L490.5 558.4L490.6 558.4L490.7 558.4L490.8 558.5L490.9 558.3L491.0 558.4L491.1 558.4L491.2 558.3L491.3 558.4L491.4 558.4L491.5 558.4L491.6 558.5L491.7 558.4L491.8 558.5L491.9 558.3L492.0 558.4L492.1 558.4L492.2 558.4L492.3 558.4L492.4 558.4L492.5 558.5L492.6 558.4L492.7 558.4L492.8 558.3L492.9 558.4L493.0 558.4L493.1 558.4L493.2 558.5L493.3 558.5L493.4 558.5L493.5 558.4L493.6 558.4L493.7 558.4L493.8 558.4L493.9 558.4L494.0 558.5L494.1 558.4L494.2 558.3L494.3 558.4L494.4 558.5L494.5 558.5L494.6 558.4L494.7 558.5L494.8 558.4L494.8 558.4L494.9 558.5L495.0 558.4L495.1 558.4L495.2 558.4L495.3 558.3L495.4 558.4L495.5 558.4L495.6 558.4L495.7 558.4L495.8 558.4L495.9 558.5L496.0 558.4L496.1 558.4L496.2 558.4L496.3 558.4L496.4 558.5L496.5 558.4L496.6 558.4L496.7 558.4L496.8 558.4L496.9 558.3L497.0 558.4L497.1 558.5L497.2 558.4L497.3 558.4L497.4 558.4L497.5 558.4L497.6 558.4L497.7 558.4L497.8 558.4L497.9 558.4L498.0 558.4L498.1 558.4L498.2 558.5L498.3 558.5L498.4 558.4L498.5 558.3L498.6 558.4L498.7 558.4L498.8 558.4L498.9 558.4L499.0 558.3L499.1 558.4L499.2 558.4L499.3 558.4L499.4 558.5L499.5 558.5L499.6 558.4L499.7 558.4L499.8 558.4L499.9 558.4L500.0 558.4L500.1 558.3L500.2 558.4L500.3 558.5L500.4 558.5L500.5 558.5L500.6 558.4L500.7 558.4L500.8 558.4L500.9 558.4L501.0 558.4L501.1 558.5L501.2 558.4L501.3 558.5L501.4 558.4L501.5 558.3L501.6 558.5L501.7 558.3L501.8 558.4L501.9 558.4L502.0 558.4L502.1 558.4L502.2 558.4L502.3 558.4L502.4 558.4L502.5 558.4L502.6 558.4L502.7 558.5L502.8 558.5L502.9 558.4L503.0 558.4L503.1 558.3L503.2 558.4L503.3 558.4L503.4 558.4L503.5 558.4L503.6 558.4L503.7 558.4L503.8 558.4L503.9 558.4L504.0 558.4L504.1 558.4L504.2 558.5L504.3 558.5L504.4 558.5L504.5 558.4L504.6 558.4L504.7 558.4L504.8 558.4L504.9 558.5L505.0 558.4L505.1 558.2L505.2 558.4L505.3 558.4L505.4 558.5L505.5 558.4L505.6 558.3L505.7 558.4L505.8 558.4L505.9 558.5L506.0 558.4L506.1 558.4L506.2 558.4L506.3 558.4L506.4 558.4L506.5 558.5L506.6 558.4L506.7 558.5L506.8 558.4L506.9 558.4L507.0 558.2L507.1 558.5L507.2 558.4L507.3 558.5L507.4 558.4L507.5 558.5L507.6 558.4L507.7 558.4L507.8 558.5L507.9 558.5L508.0 558.4L508.1 558.4L508.2 558.4L508.3 558.4L508.4 558.4L508.5 558.4L508.6 558.4L508.7 558.4L508.8 558.5L508.9 558.4L509.0 558.3L509.1 558.4L509.2 558.4L509.3 558.4L509.4 558.4L509.5 558.5L509.6 558.3L509.7 558.4L509.8 558.4L509.9 558.4L510.0 558.5L510.1 558.4L510.1 558.4L510.2 558.4L510.3 558.5L510.4 558.4L510.5 558.4L510.6 558.4L510.7 558.5L510.8 558.4L510.9 558.4L511.0 558.4L511.1 558.4L511.2 558.4L511.3 558.4L511.4 558.4L511.5 558.5L511.6 558.4L511.7 558.4L511.8 558.4L511.9 558.5L512.0 558.4L512.1 558.5L512.2 558.3L512.3 558.5L512.4 558.4L512.5 558.4L512.6 558.4L512.7 558.4L512.8 558.5L512.9 558.4L513.0 558.4L513.1 558.4L513.2 558.4L513.3 558.4L513.4 558.4L513.5 558.4L513.6 558.4L513.7 558.3L513.8 558.4L513.9 558.5L514.0 558.5L514.1 558.4L514.2 558.3L514.3 558.4L514.4 558.4L514.5 558.5L514.6 558.5L514.7 558.4L514.8 558.4L514.9 558.4L515.0 558.4L515.1 558.4L515.2 558.5L515.3 558.4L515.4 558.4L515.5 558.4L515.6 558.3L515.7 558.4L515.8 558.5L515.9 558.4L516.0 558.4L516.1 558.4L516.2 558.4L516.3 558.5L516.4 558.5L516.5 558.4L516.6 558.4L516.7 558.5L516.8 558.5L516.9 558.4L517.0 558.5L517.1 558.4L517.2 558.4L517.3 558.4L517.4 558.2L517.5 558.4L517.6 558.4L517.7 558.4L517.8 558.4L517.9 558.4L518.0 558.5L518.1 558.4L518.2 558.4L518.3 558.4L518.4 558.4L518.5 558.5L518.6 558.4L518.7 558.4L518.8 558.4L518.9 558.4L519.0 558.4L519.1 558.4L519.2 558.4L519.3 558.4L519.4 558.4L519.5 558.4L519.6 558.3L519.7 558.4L519.8 558.4L519.9 558.4L520.0 558.4L520.1 558.5L520.2 558.4L520.3 558.4L520.4 558.5L520.5 558.4L520.6 558.4L520.7 558.4L520.8 558.4L520.9 558.4L521.0 558.4L521.1 558.4L521.2 558.4L521.3 558.4L521.4 558.5L521.5 558.4L521.6 558.4L521.7 558.4L521.8 558.5L521.9 558.4L522.0 558.4L522.1 558.5L522.2 558.4L522.3 558.4L522.4 558.5L522.5 558.4L522.6 558.4L522.7 558.4L522.8 558.4L522.9 558.4L523.0 558.4L523.1 558.4L523.2 558.4L523.3 558.4L523.4 558.4L523.5 558.4L523.6 558.4L523.7 558.3L523.8 558.4L523.9 558.4L524.0 558.4L524.1 558.4L524.2 558.4L524.3 558.5L524.4 558.4L524.5 558.4L524.6 558.4L524.7 558.4L524.8 558.5L524.9 558.4L525.0 558.4L525.1 558.5L525.2 558.3L525.3 558.4L525.4 558.4L525.4 558.4L525.5 558.5L525.6 558.4L525.7 558.4L525.8 558.5L525.9 558.4L526.0 558.4L526.1 558.4L526.2 558.4L526.3 558.4L526.4 558.2L526.5 558.5L526.6 558.4L526.7 558.4L526.8 558.4L526.9 558.4L527.0 558.5L527.1 558.5L527.2 558.4L527.3 558.4L527.4 558.5L527.5 558.4L527.6 558.4L527.7 558.5L527.8 558.3L527.9 558.5L528.0 558.5L528.1 558.4L528.2 558.5L528.3 558.4L528.4 558.4L528.5 558.5L528.6 558.4L528.7 558.4L528.8 558.5L528.9 558.5L529.0 558.5L529.1 558.3L529.2 558.3L529.3 558.4L529.4 558.4L529.5 558.4L529.6 558.4L529.7 558.4L529.8 558.5L529.9 558.4L530.0 558.5L530.1 558.4L530.2 558.4L530.3 558.4L530.4 558.3L530.5 558.4L530.6 558.4L530.7 558.4L530.8 558.4L530.9 558.4L531.0 558.5L531.1 558.5L531.2 558.4L531.3 558.4L531.4 558.4L531.5 558.4L531.6 558.3L531.7 558.4L531.8 558.4L531.9 558.4L532.0 558.4L532.1 558.4L532.2 558.5L532.3 558.4L532.4 558.4L532.5 558.4L532.6 558.4L532.7 558.5L532.8 558.4L532.9 558.4L533.0 558.4L533.1 558.4L533.2 558.4L533.3 558.4L533.4 558.4L533.5 558.4L533.6 558.3L533.7 558.3L533.8 558.5L533.9 558.3L534.0 558.4L534.1 558.4L534.2 558.4L534.3 558.4L534.4 558.5L534.5 558.5L534.6 558.4L534.7 558.5L534.8 558.4L534.9 558.4L535.0 558.5L535.1 558.5L535.2 558.4L535.3 558.4L535.4 558.4L535.5 558.4L535.6 558.4L535.7 558.5L535.8 558.4L535.9 558.3L536.0 558.5L536.1 558.4L536.2 558.4L536.3 558.4L536.4 558.4L536.5 558.4L536.6 558.4L536.7 558.4L536.8 558.5L536.9 558.4L537.0 558.4L537.1 558.4L537.2 558.5L537.3 558.4L537.4 558.4L537.5 558.4L537.6 558.5L537.7 558.4L537.8 558.4L537.9 558.5L538.0 558.4L538.1 558.4L538.2 558.4L538.3 558.5L538.4 558.4L538.5 558.4L538.6 558.5L538.7 558.4L538.8 558.3L538.9 558.4L539.0 558.4L539.1 558.5L539.2 558.3L539.3 558.4L539.4 558.5L539.5 558.4L539.6 558.5L539.7 558.5L539.8 558.4L539.9 558.3L540.0 558.5L540.1 558.4L540.2 558.4L540.3 558.5L540.4 558.5L540.5 558.4L540.6 558.4L540.7 558.4L540.7 558.4L540.8 558.4L540.9 558.5L541.0 558.4L541.1 558.4L541.2 558.3L541.3 558.5L541.4 558.4L541.5 558.4L541.6 558.4L541.7 558.4L541.8 558.5L541.9 558.4L542.0 558.4L542.1 558.5L542.2 558.5L542.3 558.4L542.4 558.5L542.5 558.4L542.6 558.4L542.7 558.4L542.8 558.4L542.9 558.4L543.0 558.4L543.1 558.5L543.2 558.4L543.3 558.5L543.4 558.4L543.5 558.3L543.6 558.4L543.7 558.4L543.8 558.4L543.9 558.4L544.0 558.5L544.1 558.3L544.2 558.5L544.3 558.5L544.4 558.4L544.5 558.3L544.6 558.5L544.7 558.4L544.8 558.4L544.9 558.5L545.0 558.5L545.1 558.4L545.2 558.4L545.3 558.5L545.4 558.4L545.5 558.4L545.6 558.4L545.7 558.4L545.8 558.4L545.9 558.4L546.0 558.4L546.1 558.4L546.2 558.4L546.3 558.4L546.4 558.4L546.5 558.3L546.6 558.4L546.7 558.4L546.8 558.4L546.9 558.4L547.0 558.4L547.1 558.3L547.2 558.4L547.3 558.4L547.4 558.4L547.5 558.5L547.6 558.5L547.7 558.4L547.8 558.4L547.9 558.4L548.0 558.4L548.1 558.5L548.2 558.5L548.3 558.5L548.4 558.4L548.5 558.4L548.6 558.5L548.7 558.4L548.8 558.4L548.9 558.4L549.0 558.4L549.1 558.4L549.2 558.5L549.3 558.4L549.4 558.4L549.5 558.4L549.6 558.4L549.7 558.5L549.8 558.4L549.9 558.4L550.0 558.4L550.1 558.4L550.2 558.4L550.3 558.4L550.4 558.4L550.5 558.4L550.6 558.4L550.7 558.4L550.8 558.4L550.9 558.4L551.0 558.5L551.1 558.5L551.2 558.4L551.3 558.5L551.4 558.4L551.5 558.4L551.6 558.5L551.7 558.4L551.8 558.4L551.9 558.4L552.0 558.5L552.1 558.4L552.2 558.4L552.3 558.4L552.4 558.4L552.5 558.4L552.6 558.5L552.7 558.4L552.8 558.4L552.9 558.4L553.0 558.4L553.1 558.5L553.2 558.3L553.3 558.5L553.4 558.4L553.5 558.4L553.6 558.4L553.7 558.4L553.8 558.4L553.9 558.4L554.0 558.4L554.1 558.5L554.2 558.4L554.3 558.4L554.4 558.4L554.5 558.4L554.6 558.4L554.7 558.4L554.8 558.4L554.9 558.5L555.0 558.4L555.1 558.4L555.2 558.4L555.3 558.4L555.4 558.4L555.5 558.4L555.6 558.5L555.7 558.4L555.8 558.4L555.9 558.5L555.9 558.4L556.0 558.4L556.1 558.4L556.2 558.4L556.3 558.5L556.4 558.4L556.5 558.4L556.6 558.5L556.7 558.3L556.8 558.4L556.9 558.4L557.0 558.4L557.1 558.4L557.2 557.4L557.3 558.5L557.4 558.5L557.5 558.4L557.6 558.4L557.7 558.4L557.8 558.4L557.9 558.4L558.0 558.4L558.1 558.4L558.2 558.4L558.3 558.4L558.4 558.4L558.5 558.4L558.6 558.4L558.7 558.4L558.8 557.3L558.9 558.4L559.0 558.4L559.1 558.4L559.2 558.4L559.3 558.4L559.4 558.4L559.5 558.4L559.6 558.4L559.7 558.4L559.8 558.4L559.9 558.4L560.0 558.5L560.1 558.4L560.2 558.4L560.3 558.5L560.4 558.5L560.5 558.4L560.6 558.4L560.7 558.4L560.8 558.4L560.9 558.5L561.0 558.4L561.1 558.4L561.2 558.4L561.3 558.5L561.4 557.3L561.5 558.4L561.6 558.4L561.7 558.4L561.8 558.4L561.9 558.4L562.0 558.4L562.1 558.4L562.2 558.3L562.3 558.5L562.4 558.4L562.5 558.5L562.6 558.4L562.7 558.4L562.8 558.5L562.9 558.4L563.0 558.4L563.1 558.4L563.2 558.4L563.3 558.4L563.4 558.4L563.5 558.5L563.6 558.5L563.7 558.4L563.8 558.5L563.9 558.5L564.0 558.4L564.1 558.5L564.2 558.4L564.3 558.4L564.4 558.4L564.5 558.3L564.6 558.4L564.7 558.3L564.8 558.4L564.9 558.4L565.0 558.4L565.1 558.4L565.2 558.4L565.3 558.4L565.4 558.5L565.5 558.4L565.6 558.5L565.7 558.4L565.8 558.4L565.9 558.4L566.0 558.4L566.1 558.4L566.2 558.4L566.3 558.5L566.4 558.5L566.5 558.4L566.6 558.3L566.7 558.5L566.8 558.4L566.9 558.5L567.0 558.4L567.1 558.4L567.2 558.4L567.3 558.4L567.4 558.4L567.5 558.3L567.6 558.4L567.7 558.4L567.8 558.4L567.9 558.5L568.0 558.4L568.1 558.5L568.2 558.5L568.3 558.4L568.4 558.5L568.5 558.3L568.6 558.4L568.7 558.3L568.8 558.4L568.9 558.4L569.0 558.4L569.1 558.5L569.2 558.4L569.3 558.5L569.4 558.4L569.5 558.5L569.6 558.4L569.7 558.4L569.8 558.3L569.9 558.4L570.0 558.4L570.1 558.4L570.2 558.4L570.3 558.4L570.4 558.4L570.5 558.4L570.6 558.4L570.7 558.5L570.8 558.5L570.9 558.4L571.0 558.5L571.1 558.4L571.2 558.4L571.2 558.4L571.3 558.4L571.4 558.4L571.5 558.4L571.6 558.4L571.7 558.4L571.8 558.4L571.9 558.5L572.0 558.4L572.1 558.4L572.2 558.4L572.3 558.4L572.4 558.4L572.5 558.5L572.6 558.5L572.7 558.4L572.8 558.4L572.9 558.5L573.0 558.4L573.1 558.4L573.2 558.5L573.3 558.4L573.4 558.5L573.5 558.4L573.6 558.4L573.7 558.4L573.8 558.4L573.9 558.5L574.0 558.4L574.1 558.4L574.2 558.4L574.3 558.5L574.4 558.5L574.5 558.2L574.6 558.4L574.7 558.4L574.8 558.4L574.9 558.4L575.0 558.5L575.1 558.3L575.2 558.4L575.3 558.4L575.4 558.4L575.5 558.5L575.6 558.4L575.7 558.4L575.8 558.4L575.9 558.4L576.0 558.2L576.1 558.4L576.2 558.4L576.3 558.4L576.4 558.5L576.5 558.5L576.6 558.4L576.7 558.5L576.8 558.4L576.9 558.4L577.0 558.4L577.1 558.4L577.2 558.4L577.3 558.5L577.4 558.4L577.5 558.4L577.6 558.4L577.7 558.4L577.8 558.4L577.9 558.4L578.0 558.4L578.1 558.5L578.2 558.4L578.3 558.3L578.4 558.4L578.5 558.4L578.6 558.5L578.7 558.4L578.8 558.4L578.9 558.4L579.0 558.5L579.1 558.4L579.2 558.4L579.3 558.4L579.4 558.4L579.5 558.4L579.6 558.4L579.7 558.4L579.8 558.5L579.9 558.4L580.0 558.4L580.1 558.4L580.2 558.4L580.3 558.4L580.4 558.4L580.5 558.4L580.6 558.4L580.7 558.4L580.8 558.4L580.9 557.3L581.0 558.4L581.1 558.4L581.2 558.4L581.3 558.5L581.4 558.5L581.5 558.4L581.6 558.4L581.7 558.4L581.8 558.3L581.9 558.4L582.0 558.5L582.1 558.5L582.2 558.4L582.3 558.4L582.4 558.4L582.5 558.4L582.6 558.4L582.7 558.4L582.8 558.5L582.9 558.4L583.0 558.4L583.1 558.4L583.2 558.4L583.3 558.4L583.4 558.4L583.5 558.4L583.6 558.5L583.7 558.4L583.8 558.4L583.9 558.4L584.0 558.3L584.1 558.5L584.2 558.4L584.3 558.4L584.4 558.4L584.5 558.4L584.6 558.4L584.7 558.4L584.8 558.4L584.9 558.5L585.0 558.4L585.1 558.4L585.2 558.4L585.3 558.4L585.4 558.1L585.5 558.5L585.6 558.4L585.7 558.4L585.8 558.4L585.9 558.4L586.0 558.4L586.1 558.3L586.2 558.4L586.3 558.4L586.4 558.4L586.5 558.4L586.5 558.4L586.6 558.4L586.7 558.4L586.8 558.5L586.9 558.4L587.0 558.4L587.1 558.4L587.2 558.5L587.3 558.4L587.4 558.4L587.5 558.4L587.6 558.4L587.7 558.4L587.8 558.4L587.9 558.4L588.0 558.4L588.1 558.4L588.2 558.4L588.3 558.4L588.4 558.4L588.5 558.5L588.6 558.4L588.7 558.4L588.8 558.4L588.9 558.4L589.0 558.4L589.1 558.3L589.2 558.5L589.3 558.4L589.4 558.4L589.5 558.4L589.6 558.4L589.7 558.4L589.8 558.4L589.9 558.5L590.0 558.5L590.1 558.4L590.2 558.4L590.3 558.5L590.4 558.4L590.5 558.4L590.6 558.4L590.7 558.4L590.8 558.4L590.9 558.5L591.0 558.4L591.1 558.4L591.2 558.4L591.3 558.4L591.4 558.4L591.5 558.4L591.6 558.4L591.7 558.5L591.8 558.3L591.9 558.3L592.0 558.4L592.1 558.4L592.2 558.4L592.3 558.2L592.4 558.4L592.5 558.5L592.6 558.4L592.7 558.4L592.8 558.3L592.9 557.3L593.0 558.5L593.1 558.4L593.2 558.4L593.3 558.3L593.4 558.4L593.5 558.5L593.6 558.5L593.7 558.4L593.8 558.4L593.9 558.5L594.0 558.4L594.1 558.4L594.2 558.4L594.3 558.4L594.4 558.4L594.5 558.5L594.6 558.3L594.7 558.4L594.8 558.4L594.9 558.4L595.0 558.4L595.1 558.5L595.2 558.4L595.3 558.4L595.4 558.4L595.5 558.5L595.6 558.4L595.7 558.4L595.8 558.4L595.9 558.4L596.0 558.4L596.1 558.5L596.2 558.4L596.3 558.4L596.4 558.4L596.5 558.4L596.6 558.4L596.7 558.4L596.8 558.4L596.9 558.4L597.0 558.4L597.1 558.4L597.2 558.4L597.3 558.4L597.4 558.4L597.5 558.4L597.6 558.5L597.7 558.4L597.8 558.4L597.9 558.4L598.0 558.4L598.1 558.4L598.2 558.4L598.3 558.5L598.4 558.4L598.5 558.4L598.6 558.3L598.7 558.4L598.8 558.4L598.9 558.5L599.0 558.5L599.1 558.4L599.2 558.4L599.3 558.4L599.4 558.4L599.5 558.4L599.6 558.5L599.7 558.4L599.8 558.4L599.9 558.4L600.0 558.4L600.1 558.4L600.2 558.5L600.3 558.4L600.4 558.4L600.5 558.4L600.6 558.4L600.7 558.4L600.8 558.5L600.9 558.3L601.0 558.3L601.1 558.3L601.2 558.4L601.3 558.5L601.4 558.4L601.5 558.4L601.6 558.4L601.7 558.4L601.8 558.4L601.8 558.4L601.9 558.4L602.0 558.5L602.1 558.4L602.2 558.4L602.3 558.4L602.4 558.4L602.5 558.5L602.6 558.4L602.7 558.5L602.8 558.4L602.9 558.4L603.0 558.4L603.1 558.4L603.2 558.4L603.3 558.4L603.4 557.4L603.5 558.4L603.6 558.4L603.7 558.4L603.8 558.5L603.9 558.5L604.0 558.4L604.1 558.4L604.2 558.5L604.3 558.3L604.4 558.4L604.5 558.4L604.6 558.3L604.7 558.4L604.8 558.4L604.9 558.5L605.0 558.5L605.1 557.3L605.2 558.4L605.3 558.4L605.4 558.4L605.5 558.4L605.6 558.5L605.7 558.4L605.8 558.4L605.9 558.4L606.0 558.4L606.1 558.4L606.2 558.4L606.3 558.5L606.4 558.4L606.5 558.4L606.6 558.4L606.7 558.4L606.8 558.4L606.9 558.4L607.0 558.4L607.1 558.3L607.2 558.4L607.3 558.4L607.4 558.4L607.5 558.4L607.6 558.5L607.7 558.4L607.8 558.4L607.9 558.3L608.0 558.4L608.1 558.4L608.2 558.4L608.3 558.4L608.4 558.4L608.5 558.4L608.6 558.4L608.7 558.4L608.8 558.4L608.9 558.3L609.0 558.4L609.1 558.4L609.2 558.4L609.3 558.4L609.4 558.4L609.5 558.4L609.6 558.4L609.7 558.5L609.8 558.5L609.9 558.5L610.0 558.4L610.1 558.4L610.2 558.3L610.3 558.2L610.4 558.5L610.5 558.4L610.6 558.4L610.7 558.4L610.8 558.4L610.9 558.4L611.0 558.4L611.1 558.4L611.2 558.4L611.3 558.4L611.4 558.5L611.5 558.4L611.6 558.4L611.7 558.4L611.8 558.3L611.9 558.5L612.0 558.4L612.1 558.4L612.2 558.4L612.3 558.4L612.4 558.4L612.5 558.5L612.6 558.4L612.7 558.5L612.8 558.5L612.9 558.5L613.0 558.5L613.1 558.5L613.2 558.5L613.3 558.4L613.4 558.4L613.5 558.5L613.6 558.5L613.7 558.4L613.8 558.4L613.9 558.5L614.0 558.5L614.1 558.4L614.2 558.4L614.3 558.4L614.4 558.5L614.5 558.3L614.6 558.4L614.7 558.4L614.8 558.4L614.9 558.5L615.0 558.4L615.1 558.4L615.2 558.4L615.3 558.4L615.4 558.5L615.5 558.5L615.6 558.4L615.7 558.5L615.8 558.4L615.9 558.4L616.0 558.4L616.1 558.3L616.2 558.4L616.3 558.3L616.4 558.4L616.5 558.4L616.6 558.4L616.7 558.5L616.8 558.4L616.9 558.5L617.0 558.4L617.1 558.4L617.1 558.5L617.2 558.4L617.3 558.5L617.4 558.3L617.5 558.4L617.6 558.4L617.7 558.5L617.8 558.4L617.9 558.4L618.0 558.4L618.1 558.4L618.2 558.4L618.3 558.4L618.4 558.4L618.5 558.4L618.6 558.5L618.7 558.4L618.8 558.4L618.9 558.4L619.0 558.4L619.1 558.5L619.2 558.4L619.3 558.4L619.4 558.5L619.5 558.3L619.6 558.4L619.7 558.4L619.8 558.4L619.9 558.3L620.0 558.4L620.1 558.4L620.2 558.4L620.3 558.4L620.4 558.4L620.5 558.4L620.6 558.4L620.7 558.4L620.8 558.5L620.9 558.4L621.0 558.4L621.1 558.3L621.2 558.4L621.3 558.4L621.4 558.4L621.5 558.4L621.6 558.4L621.7 558.4L621.8 558.4L621.9 558.4L622.0 558.4L622.1 558.5L622.2 558.5L622.3 558.5L622.4 558.4L622.5 558.4L622.6 558.4L622.7 558.4L622.8 558.4L622.9 558.4L623.0 558.4L623.1 558.5L623.2 558.5L623.3 558.4L623.4 558.5L623.5 558.5L623.6 558.4L623.7 558.4L623.8 558.4L623.9 558.4L624.0 558.4L624.1 558.3L624.2 558.4L624.3 558.4L624.4 558.4L624.5 558.5L624.6 558.4L624.7 558.4L624.8 558.5L624.9 558.4L625.0 558.3L625.1 558.4L625.2 558.4L625.3 558.4L625.4 558.5L625.5 558.4L625.6 558.3L625.7 558.5L625.8 558.4L625.9 558.4L626.0 558.4L626.1 558.4L626.2 558.4L626.3 558.4L626.4 558.4L626.5 558.5L626.6 558.4L626.7 558.4L626.8 558.4L626.9 558.4L627.0 558.4L627.1 558.4L627.2 558.4L627.3 558.4L627.4 558.4L627.5 558.4L627.6 558.4L627.7 558.4L627.8 558.4L627.9 558.4L628.0 558.4L628.1 558.5L628.2 558.4L628.3 558.2L628.4 558.4L628.5 558.4L628.6 558.5L628.7 558.3L628.8 558.5L628.9 558.5L629.0 558.4L629.1 558.5L629.2 558.4L629.3 558.4L629.4 558.4L629.5 558.4L629.6 558.4L629.7 558.4L629.8 558.4L629.9 558.4L630.0 558.5L630.1 558.4L630.2 558.4L630.3 558.4L630.4 558.5L630.5 558.4L630.6 558.4L630.7 558.4L630.8 558.4L630.9 558.4L631.0 558.4L631.1 558.4L631.2 558.4L631.3 558.4L631.4 558.4L631.5 558.5L631.6 558.3L631.7 558.4L631.8 558.5L631.9 558.4L632.0 558.4L632.1 558.3L632.2 558.4L632.3 558.4L632.4 558.3L632.4 558.4L632.5 558.4L632.6 558.4L632.7 558.4L632.8 558.4L632.9 558.4L633.0 558.4L633.1 558.3L633.2 558.4L633.3 558.4L633.4 558.2L633.5 558.4L633.6 558.4L633.7 558.5L633.8 558.4L633.9 558.4L634.0 558.4L634.1 558.4L634.2 558.4L634.3 558.4L634.4 558.5L634.5 558.4L634.6 558.4L634.7 558.4L634.8 558.4L634.9 558.4L635.0 558.5L635.1 558.4L635.2 558.4L635.3 558.4L635.4 558.4L635.5 558.4L635.6 558.4L635.7 558.4L635.8 558.5L635.9 558.4L636.0 558.4L636.1 558.5L636.2 558.5L636.3 558.5L636.4 558.4L636.5 558.4L636.6 558.4L636.7 558.4L636.8 558.4L636.9 558.4L637.0 558.4L637.1 558.4L637.2 558.4L637.3 558.5L637.4 558.4L637.5 558.4L637.6 558.4L637.7 558.4L637.8 558.5L637.9 558.5L638.0 558.4L638.1 558.4L638.2 558.3L638.3 558.4L638.4 558.4L638.5 558.4L638.6 558.4L638.7 558.5L638.8 558.4L638.9 558.4L639.0 558.4L639.1 558.3L639.2 558.5L639.3 558.4L639.4 558.4L639.5 558.4L639.6 558.5L639.7 558.5L639.8 558.4L639.9 558.5L640.0 558.4L640.1 558.5L640.2 558.4L640.3 558.4L640.4 558.5L640.5 558.4L640.6 558.4L640.7 558.5L640.8 558.4L640.9 558.5L641.0 558.5L641.1 558.4L641.2 558.4L641.3 558.4L641.4 558.5L641.5 558.4L641.6 558.4L641.7 558.4L641.8 558.4L641.9 558.4L642.0 558.5L642.1 558.4L642.2 558.4L642.3 558.4L642.4 558.3L642.5 558.5L642.6 558.4L642.7 558.5L642.8 558.4L642.9 558.4L643.0 558.4L643.1 558.4L643.2 558.4L643.3 558.4L643.4 558.4L643.5 558.4L643.6 558.3L643.7 558.5L643.8 558.5L643.9 558.5L644.0 558.5L644.1 558.5L644.2 558.5L644.3 558.4L644.4 558.4L644.5 558.4L644.6 558.4L644.7 558.4L644.8 558.4L644.9 558.4L645.0 558.5L645.1 558.4L645.2 558.4L645.3 558.4L645.4 558.4L645.5 558.4L645.6 558.4L645.7 558.4L645.8 558.4L645.9 558.4L646.0 558.5L646.1 558.4L646.2 558.5L646.3 558.5L646.4 558.4L646.5 558.5L646.6 558.4L646.7 558.4L646.8 558.4L646.9 558.4L647.0 558.4L647.1 558.4L647.2 558.4L647.3 558.4L647.4 558.5L647.5 558.5L647.6 558.4L647.6 558.4L647.7 558.4L647.8 558.4L647.9 558.5L648.0 558.4L648.1 558.4L648.2 558.5L648.3 558.5L648.4 558.4L648.5 558.4L648.6 558.4L648.7 558.4L648.8 558.3L648.9 558.4L649.0 558.4L649.1 558.5L649.2 558.5L649.3 558.5L649.4 558.4L649.5 558.4L649.6 558.5L649.7 558.5L649.8 558.4L649.9 558.5L650.0 558.4L650.1 558.4L650.2 558.4L650.3 558.5L650.4 558.3L650.5 558.5L650.6 558.4L650.7 558.4L650.8 558.4L650.9 558.5L651.0 558.3L651.1 558.4L651.2 558.4L651.3 558.4L651.4 558.3L651.5 558.4L651.6 558.5L651.7 558.4L651.8 558.4L651.9 558.3L652.0 558.4L652.1 558.4L652.2 558.4L652.3 558.5L652.4 558.5L652.5 558.4L652.6 558.4L652.7 558.3L652.8 558.4L652.9 558.4L653.0 558.4L653.1 558.4L653.2 558.2L653.3 558.4L653.4 558.5L653.5 558.4L653.6 558.5L653.7 558.4L653.8 558.4L653.9 558.4L654.0 558.4L654.1 558.5L654.2 558.5L654.3 558.4L654.4 558.3L654.5 558.4L654.6 558.5L654.7 558.4L654.8 558.3L654.9 558.3L655.0 558.5L655.1 558.4L655.2 558.4L655.3 558.4L655.4 558.4L655.5 558.4L655.6 558.4L655.7 558.5L655.8 558.4L655.9 558.4L656.0 558.4L656.1 558.4L656.2 558.5L656.3 558.5L656.4 558.4L656.5 558.4L656.6 558.5L656.7 558.4L656.8 558.4L656.9 558.3L657.0 558.3L657.1 558.4L657.2 558.4L657.3 558.4L657.4 558.4L657.5 558.4L657.6 558.4L657.7 558.5L657.8 558.4L657.9 558.4L658.0 558.5L658.1 558.4L658.2 558.4L658.3 558.4L658.4 558.4L658.5 558.5L658.6 558.4L658.7 558.4L658.8 558.4L658.9 558.4L659.0 558.5L659.1 558.4L659.2 558.4L659.3 558.3L659.4 558.4L659.5 558.5L659.6 558.4L659.7 558.4L659.8 558.4L659.9 558.4L660.0 558.4L660.1 558.4L660.2 558.5L660.3 558.5L660.4 558.3L660.5 558.5L660.6 558.4L660.7 558.5L660.8 558.4L660.9 558.5L661.0 558.4L661.1 558.5L661.2 558.4L661.3 558.4L661.4 558.4L661.5 558.4L661.6 558.4L661.7 558.5L661.8 558.5L661.9 558.5L662.0 558.4L662.1 558.5L662.2 558.5L662.3 558.5L662.4 558.4L662.5 558.4L662.6 558.5L662.7 558.4L662.8 558.4L662.9 558.4L662.9 558.5L663.0 558.5L663.1 558.2L663.2 558.4L663.3 558.3L663.4 558.5L663.5 558.5L663.6 558.4L663.7 558.4L663.8 558.4L663.9 558.4L664.0 558.3L664.1 558.4L664.2 558.4L664.3 558.5L664.4 558.4L664.5 558.5L664.6 558.4L664.7 558.4L664.8 558.4L664.9 558.4L665.0 558.4L665.1 558.4L665.2 558.5L665.3 558.3L665.4 558.4L665.5 558.4L665.6 558.4L665.7 558.4L665.8 558.3L665.9 558.4L666.0 558.4L666.1 558.5L666.2 558.4L666.3 558.4L666.4 558.4L666.5 558.4L666.6 558.4L666.7 558.5L666.8 558.4L666.9 558.5L667.0 558.4L667.1 558.4L667.2 558.4L667.3 558.4L667.4 558.4L667.5 558.4L667.6 558.4L667.7 558.5L667.8 558.4L667.9 558.4L668.0 558.5L668.1 558.5L668.2 558.4L668.3 558.4L668.4 558.4L668.5 558.4L668.6 558.4L668.7 558.4L668.8 558.4L668.9 558.5L669.0 558.4L669.1 558.5L669.2 558.4L669.3 558.4L669.4 558.3L669.5 558.4L669.6 558.4L669.7 558.4L669.8 558.4L669.9 558.4L670.0 558.5L670.1 558.4L670.2 558.4L670.3 558.5L670.4 558.4L670.5 558.4L670.6 558.3L670.7 558.4L670.8 558.4L670.9 558.5L671.0 558.4L671.1 558.4L671.2 558.4L671.3 558.4L671.4 558.4L671.5 558.4L671.6 558.4L671.7 558.4L671.8 558.5L671.9 558.5L672.0 558.4L672.1 558.4L672.2 558.4L672.3 558.5L672.4 558.4L672.5 558.4L672.6 558.5L672.7 558.4L672.8 558.3L672.9 558.5L673.0 558.4L673.1 558.4L673.2 558.4L673.3 558.4L673.4 558.4L673.5 558.4L673.6 558.4L673.7 558.4L673.8 558.4L673.9 558.5L674.0 558.4L674.1 558.4L674.2 558.4L674.3 558.4L674.4 558.4L674.5 558.4L674.6 558.4L674.7 558.5L674.8 558.5L674.9 558.3L675.0 558.5L675.1 558.3L675.2 558.4L675.3 558.5L675.4 558.5L675.5 558.4L675.6 558.4L675.7 558.4L675.8 558.5L675.9 558.4L676.0 558.4L676.1 558.4L676.2 558.5L676.3 558.4L676.4 558.5L676.5 558.5L676.6 558.4L676.7 558.5L676.8 558.4L676.9 558.4L677.0 558.4L677.1 558.5L677.2 558.4L677.3 558.5L677.4 558.5L677.5 558.4" stroke="#0072bd" stroke-width="1.5" fill="none" stroke-linejoin="round"/>
<path d="M51.6 537.2L61.5 553.5L71.4 546.7L81.4 555.8L91.3 556.5L101.2 556.7L111.2 556.7L121.1 556.2L131.0 555.5L141.0 555.8L150.9 556.2L160.8 556.5L170.8 556.1L180.7 557.6L190.6 557.0L200.6 557.0L210.5 557.0L220.4 557.0L230.4 557.0L240.3 557.0L250.2 556.8L260.2 557.0L270.1 557.0L280.1 556.9L290.0 557.1L299.9 557.1L309.9 556.8L319.8 557.0L329.7 557.0L339.7 557.2L349.6 557.0L359.5 557.0L369.5 557.2L379.4 557.0L389.3 557.0L399.3 557.2L409.2 557.0L419.1 557.0L429.1 556.9L439.0 557.1L448.9 556.9L458.9 556.9L468.8 557.2L478.8 557.2L488.7 556.9L498.6 556.8L508.6 557.1L518.5 557.0L528.4 557.0L538.4 557.1L548.3 557.1L558.2 557.1L568.2 557.1L578.1 557.0L588.0 557.1L598.0 557.0L607.9 556.9L617.8 557.2L627.8 557.0L637.7 556.9L647.6 557.1L657.6 557.1L667.5 556.9L677.5 557.1" stroke="#d95319" stroke-width="1.9" fill="none" stroke-linejoin="round"/>
</g>
<text x="51.4" y="575.9" class="tk" text-anchor="middle">0</text>
<text x="150.6" y="575.9" class="tk" text-anchor="middle">1000</text>
<text x="250.4" y="575.9" class="tk" text-anchor="middle">2000</text>
<text x="349.3" y="575.9" class="tk" text-anchor="middle">3000</text>
<text x="449.3" y="575.9" class="tk" text-anchor="middle">4000</text>
<text x="548.3" y="575.9" class="tk" text-anchor="middle">5000</text>
<text x="648.0" y="575.9" class="tk" text-anchor="middle">6000</text>
<text x="746.9" y="575.9" class="tk" text-anchor="middle">7000</text>
<text x="46.1" y="563.9" class="tk" text-anchor="end">0</text>
<text x="46.1" y="517.9" class="tk" text-anchor="end">5</text>
<text x="46.1" y="472.9" class="tk" text-anchor="end">10</text>
<text x="46.1" y="427.9" class="tk" text-anchor="end">15</text>
<text x="399" y="594.0" class="lb" text-anchor="middle">Iteration</text>
<text transform="translate(23.1 490.1) rotate(-90)" class="lb" text-anchor="middle">Loss</text>
<rect x="604.5" y="432.5" width="131.0" height="31.0" fill="#fff" stroke="#262626" stroke-width="1"/>
<path d="M608.0 441.0h40" stroke="#0072bd" stroke-width="2"/>
<path d="M608.0 455.0h40" stroke="#d95319" stroke-width="2"/>
<text x="651.2" y="444.8" class="lg">Training Loss</text>
<text x="651.2" y="458.8" class="lg">Validation Loss</text>
<circle cx="677.6" cy="558.4" r="4.45" fill="#0072bd"/>
<circle cx="677.6" cy="557.1" r="4.45" fill="#d95319"/>
<!-- right panel -->
<text x="772" y="61.8" class="pt">Progress:</text>
<text x="772" y="87.0" class="pt">Status:</text>
<text x="852.0" y="87.0" class="pt">Training stopped</text>
<text x="772" y="111.7" class="pt">Stop reason:</text>
<text x="852.0" y="111.7" class="pt">Max epochs completed</text>
<text x="772" y="165.8" class="pt">Start time:</text>
<text x="924.5" y="165.8" class="pt">31-May-2024 16:35:19</text>
<text x="772" y="188.6" class="pt">Elapsed time:</text>
<text x="924.5" y="188.6" class="pt">00:27:31</text>
<text x="772" y="248.2" class="pt">Epoch:</text>
<text x="924.5" y="248.2" class="pt">150 of 150</text>
<text x="772" y="271.1" class="pt">Iteration:</text>
<text x="924.5" y="271.1" class="pt">6300</text>
<text x="772" y="294.0" class="pt">Learning rate schedule:</text>
<text x="924.5" y="294.0" class="pt">Piecewise</text>
<text x="772" y="316.9" class="pt">Learning rate:</text>
<text x="924.5" y="316.9" class="pt">5e-07</text>
<text x="772" y="339.0" class="pt">Validation frequency:</text>
<text x="924.5" y="339.0" class="pt">100</text>
<text x="772" y="362.3" class="pt">Validation patience:</text>
<text x="924.5" y="362.3" class="pt">Inf</text>
<text x="772" y="385.1" class="pt">Objective metric:</text>
<text x="924.5" y="385.1" class="pt">Loss</text>
<text x="772" y="407.9" class="pt">Output network:</text>
<text x="924.5" y="407.9" class="pt">Best validation</text>
<text x="772" y="430.0" class="pt">Hardware resource:</text>
<text x="924.5" y="430.0" class="pt">Single GPU</text>
<text x="772" y="145.8" class="pb">Time</text>
<text x="772" y="224.9" class="pb">Information</text>
<rect x="852" y="56" width="171" height="5" fill="#268cdd"/>
<circle cx="1040.9" cy="61" r="7.6" fill="#f8f8f8" stroke="#c9c9c9" stroke-width="1"/>
<rect x="1038.1" y="58.2" width="5.7" height="5.7" fill="#c2c2c2"/>
<!-- export button -->
<rect x="772.5" y="445.5" width="118" height="22" rx="4" ry="4" fill="#f6f6f6" stroke="#7a7a7a" stroke-width="1"/>
<g>
<rect x="776.5" y="448.5" width="12" height="12" rx="1" fill="#fff" stroke="#777"/>
<path d="M776.5 453.5H785.5M785.5 448.5V453.5" stroke="#777" fill="none"/>
<rect x="786" y="449" width="2.2" height="4" fill="#d4d4d4"/>
<path d="M778.3 452.3Q780.5 450.3 783.7 450.3" stroke="#2b7bd0" stroke-width="1.2" fill="none"/>
<path d="M778.3 456.2L781 458.2" stroke="#e8703a" stroke-width="1.1"/>
<rect x="782" y="453.5" width="9.5" height="9.5" rx="0.8" fill="#fff" stroke="#777"/>
<path d="M783.3 462.7C783.2 458.6 785 456.9 787.1 456.9L787.1 455L790.9 458.2L787.1 461.4L787.1 459.6C785.4 459.6 784.3 460.4 783.3 462.7Z" fill="#23a035" stroke="#158a22" stroke-width="0.6"/>
</g>
<text x="798" y="460.3" class="pt">Export as Image</text>
</svg>
</body></html>
